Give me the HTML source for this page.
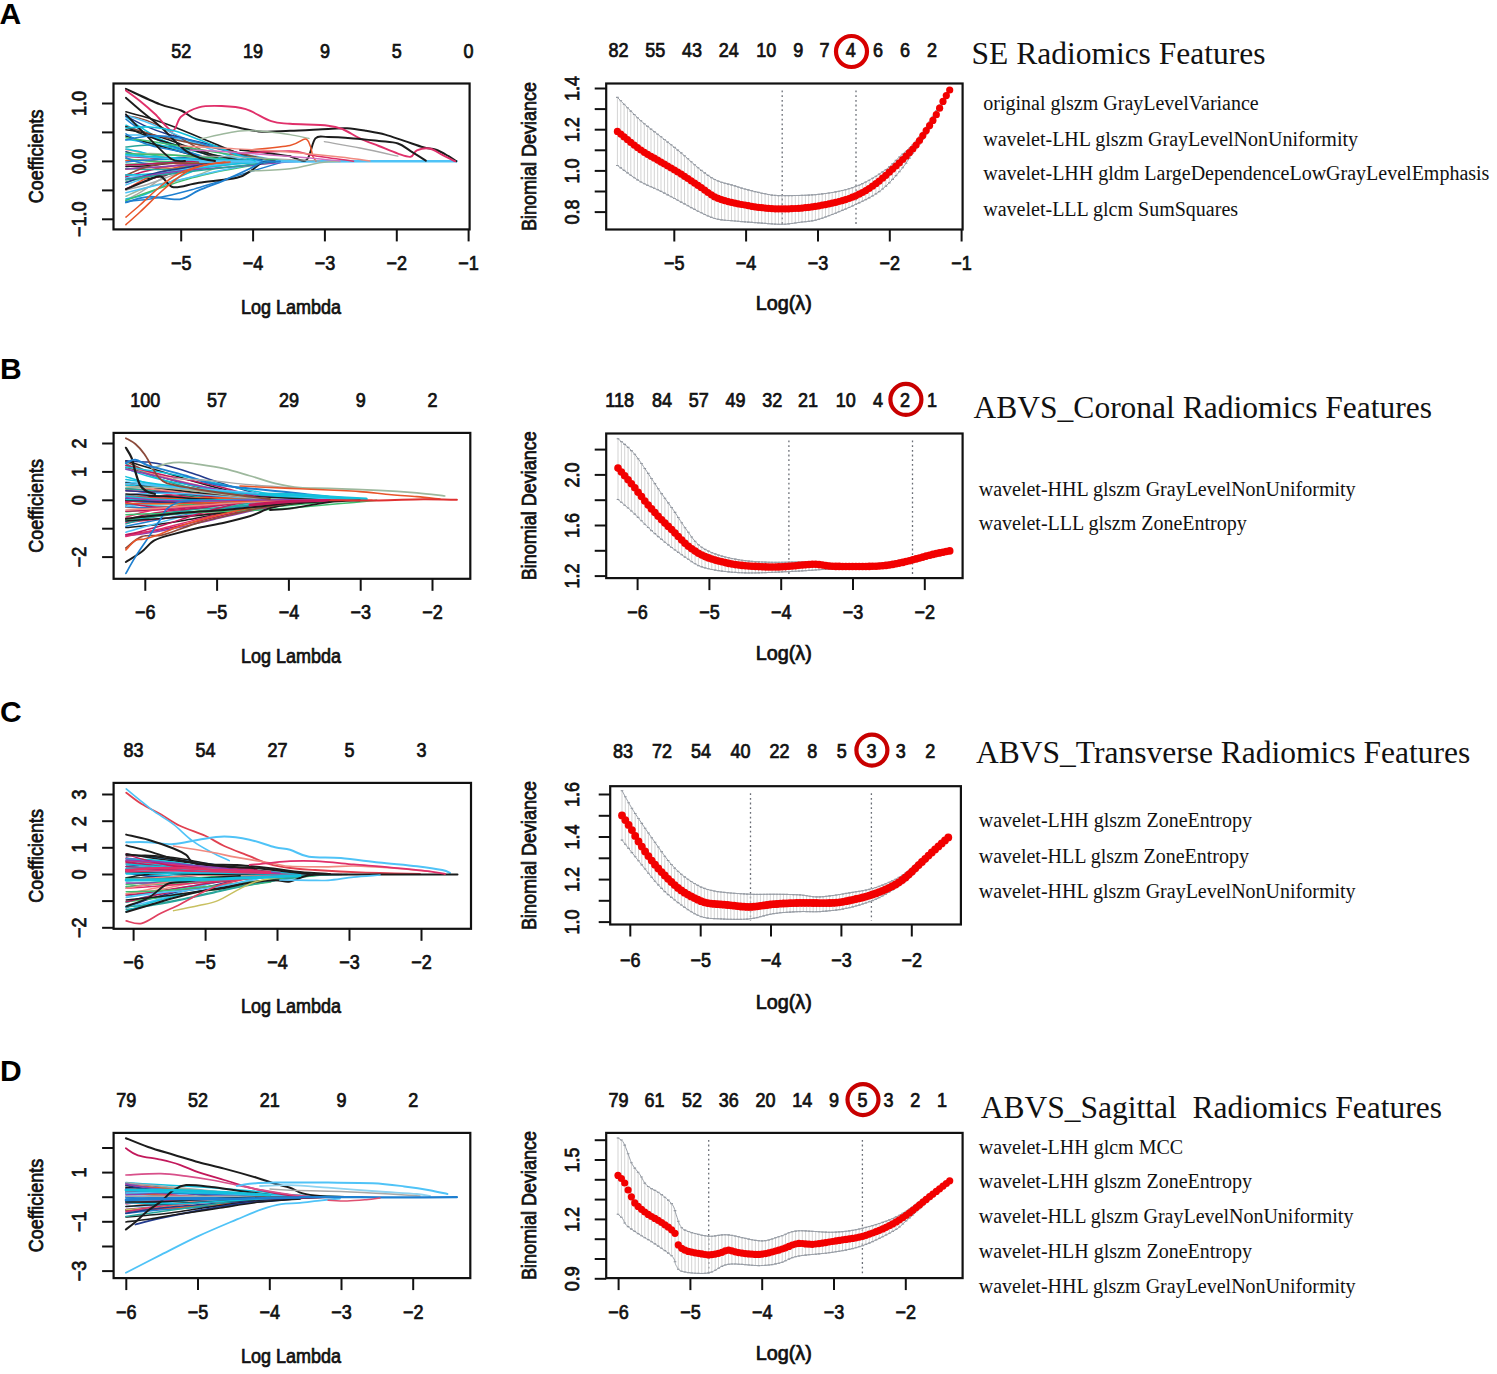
<!DOCTYPE html><html><head><meta charset="utf-8"><style>html,body{margin:0;padding:0;background:#fff;overflow:hidden}svg{display:block}</style></head><body><svg width="1497" height="1374" viewBox="0 0 1497 1374">
<rect width="1497" height="1374" fill="#fff"/>
<rect x="113.5" y="83.5" width="356.1" height="145.9" fill="none" stroke="#111" stroke-width="2.2"/>
<line x1="181.2" y1="229.4" x2="181.2" y2="241.4" stroke="#111" stroke-width="2"/>
<text transform="translate(181.2,269.5) scale(0.9,1)" text-anchor="middle" font-family="Liberation Sans, sans-serif" font-size="20" font-weight="normal" fill="#111" stroke="#111" stroke-width="0.75">−5</text>
<line x1="253.1" y1="229.4" x2="253.1" y2="241.4" stroke="#111" stroke-width="2"/>
<text transform="translate(253.1,269.5) scale(0.9,1)" text-anchor="middle" font-family="Liberation Sans, sans-serif" font-size="20" font-weight="normal" fill="#111" stroke="#111" stroke-width="0.75">−4</text>
<line x1="324.9" y1="229.4" x2="324.9" y2="241.4" stroke="#111" stroke-width="2"/>
<text transform="translate(324.9,269.5) scale(0.9,1)" text-anchor="middle" font-family="Liberation Sans, sans-serif" font-size="20" font-weight="normal" fill="#111" stroke="#111" stroke-width="0.75">−3</text>
<line x1="396.8" y1="229.4" x2="396.8" y2="241.4" stroke="#111" stroke-width="2"/>
<text transform="translate(396.8,269.5) scale(0.9,1)" text-anchor="middle" font-family="Liberation Sans, sans-serif" font-size="20" font-weight="normal" fill="#111" stroke="#111" stroke-width="0.75">−2</text>
<line x1="468.6" y1="229.4" x2="468.6" y2="241.4" stroke="#111" stroke-width="2"/>
<text transform="translate(468.6,269.5) scale(0.9,1)" text-anchor="middle" font-family="Liberation Sans, sans-serif" font-size="20" font-weight="normal" fill="#111" stroke="#111" stroke-width="0.75">−1</text>
<line x1="102.0" y1="103.5" x2="113.5" y2="103.5" stroke="#111" stroke-width="2"/>
<line x1="102.0" y1="132.4" x2="113.5" y2="132.4" stroke="#111" stroke-width="2"/>
<line x1="102.0" y1="161.4" x2="113.5" y2="161.4" stroke="#111" stroke-width="2"/>
<line x1="102.0" y1="190.4" x2="113.5" y2="190.4" stroke="#111" stroke-width="2"/>
<line x1="102.0" y1="219.3" x2="113.5" y2="219.3" stroke="#111" stroke-width="2"/>
<text transform="translate(86.0,103.5) rotate(-90) scale(0.9,1)" text-anchor="middle" font-family="Liberation Sans, sans-serif" font-size="20" font-weight="normal" fill="#111" stroke="#111" stroke-width="0.75">1.0</text>
<text transform="translate(86.0,161.4) rotate(-90) scale(0.9,1)" text-anchor="middle" font-family="Liberation Sans, sans-serif" font-size="20" font-weight="normal" fill="#111" stroke="#111" stroke-width="0.75">0.0</text>
<text transform="translate(86.0,219.3) rotate(-90) scale(0.9,1)" text-anchor="middle" font-family="Liberation Sans, sans-serif" font-size="20" font-weight="normal" fill="#111" stroke="#111" stroke-width="0.75">−1.0</text>
<text transform="translate(181.2,57.6) scale(0.9,1)" text-anchor="middle" font-family="Liberation Sans, sans-serif" font-size="20" font-weight="normal" fill="#111" stroke="#111" stroke-width="0.75">52</text>
<text transform="translate(253.1,57.6) scale(0.9,1)" text-anchor="middle" font-family="Liberation Sans, sans-serif" font-size="20" font-weight="normal" fill="#111" stroke="#111" stroke-width="0.75">19</text>
<text transform="translate(324.9,57.6) scale(0.9,1)" text-anchor="middle" font-family="Liberation Sans, sans-serif" font-size="20" font-weight="normal" fill="#111" stroke="#111" stroke-width="0.75">9</text>
<text transform="translate(396.8,57.6) scale(0.9,1)" text-anchor="middle" font-family="Liberation Sans, sans-serif" font-size="20" font-weight="normal" fill="#111" stroke="#111" stroke-width="0.75">5</text>
<text transform="translate(468.6,57.6) scale(0.9,1)" text-anchor="middle" font-family="Liberation Sans, sans-serif" font-size="20" font-weight="normal" fill="#111" stroke="#111" stroke-width="0.75">0</text>
<text transform="translate(291.0,314.0) scale(0.9,1)" text-anchor="middle" font-family="Liberation Sans, sans-serif" font-size="20" font-weight="normal" fill="#111" stroke="#111" stroke-width="0.75">Log Lambda</text>
<text transform="translate(42.5,156.4) rotate(-90) scale(0.9,1)" text-anchor="middle" font-family="Liberation Sans, sans-serif" font-size="20" font-weight="normal" fill="#111" stroke="#111" stroke-width="0.75">Coefficients</text>
<rect x="113.6" y="432.9" width="356.7" height="145.9" fill="none" stroke="#111" stroke-width="2.2"/>
<line x1="145.3" y1="578.8" x2="145.3" y2="590.8" stroke="#111" stroke-width="2"/>
<text transform="translate(145.3,618.9) scale(0.9,1)" text-anchor="middle" font-family="Liberation Sans, sans-serif" font-size="20" font-weight="normal" fill="#111" stroke="#111" stroke-width="0.75">−6</text>
<line x1="217.1" y1="578.8" x2="217.1" y2="590.8" stroke="#111" stroke-width="2"/>
<text transform="translate(217.1,618.9) scale(0.9,1)" text-anchor="middle" font-family="Liberation Sans, sans-serif" font-size="20" font-weight="normal" fill="#111" stroke="#111" stroke-width="0.75">−5</text>
<line x1="288.9" y1="578.8" x2="288.9" y2="590.8" stroke="#111" stroke-width="2"/>
<text transform="translate(288.9,618.9) scale(0.9,1)" text-anchor="middle" font-family="Liberation Sans, sans-serif" font-size="20" font-weight="normal" fill="#111" stroke="#111" stroke-width="0.75">−4</text>
<line x1="360.7" y1="578.8" x2="360.7" y2="590.8" stroke="#111" stroke-width="2"/>
<text transform="translate(360.7,618.9) scale(0.9,1)" text-anchor="middle" font-family="Liberation Sans, sans-serif" font-size="20" font-weight="normal" fill="#111" stroke="#111" stroke-width="0.75">−3</text>
<line x1="432.5" y1="578.8" x2="432.5" y2="590.8" stroke="#111" stroke-width="2"/>
<text transform="translate(432.5,618.9) scale(0.9,1)" text-anchor="middle" font-family="Liberation Sans, sans-serif" font-size="20" font-weight="normal" fill="#111" stroke="#111" stroke-width="0.75">−2</text>
<line x1="102.1" y1="443.5" x2="113.6" y2="443.5" stroke="#111" stroke-width="2"/>
<line x1="102.1" y1="471.9" x2="113.6" y2="471.9" stroke="#111" stroke-width="2"/>
<line x1="102.1" y1="500.3" x2="113.6" y2="500.3" stroke="#111" stroke-width="2"/>
<line x1="102.1" y1="528.7" x2="113.6" y2="528.7" stroke="#111" stroke-width="2"/>
<line x1="102.1" y1="557.1" x2="113.6" y2="557.1" stroke="#111" stroke-width="2"/>
<text transform="translate(86.0,443.5) rotate(-90) scale(0.9,1)" text-anchor="middle" font-family="Liberation Sans, sans-serif" font-size="20" font-weight="normal" fill="#111" stroke="#111" stroke-width="0.75">2</text>
<text transform="translate(86.0,471.9) rotate(-90) scale(0.9,1)" text-anchor="middle" font-family="Liberation Sans, sans-serif" font-size="20" font-weight="normal" fill="#111" stroke="#111" stroke-width="0.75">1</text>
<text transform="translate(86.0,500.3) rotate(-90) scale(0.9,1)" text-anchor="middle" font-family="Liberation Sans, sans-serif" font-size="20" font-weight="normal" fill="#111" stroke="#111" stroke-width="0.75">0</text>
<text transform="translate(86.0,557.1) rotate(-90) scale(0.9,1)" text-anchor="middle" font-family="Liberation Sans, sans-serif" font-size="20" font-weight="normal" fill="#111" stroke="#111" stroke-width="0.75">−2</text>
<text transform="translate(145.3,407.0) scale(0.9,1)" text-anchor="middle" font-family="Liberation Sans, sans-serif" font-size="20" font-weight="normal" fill="#111" stroke="#111" stroke-width="0.75">100</text>
<text transform="translate(217.1,407.0) scale(0.9,1)" text-anchor="middle" font-family="Liberation Sans, sans-serif" font-size="20" font-weight="normal" fill="#111" stroke="#111" stroke-width="0.75">57</text>
<text transform="translate(288.9,407.0) scale(0.9,1)" text-anchor="middle" font-family="Liberation Sans, sans-serif" font-size="20" font-weight="normal" fill="#111" stroke="#111" stroke-width="0.75">29</text>
<text transform="translate(360.7,407.0) scale(0.9,1)" text-anchor="middle" font-family="Liberation Sans, sans-serif" font-size="20" font-weight="normal" fill="#111" stroke="#111" stroke-width="0.75">9</text>
<text transform="translate(432.5,407.0) scale(0.9,1)" text-anchor="middle" font-family="Liberation Sans, sans-serif" font-size="20" font-weight="normal" fill="#111" stroke="#111" stroke-width="0.75">2</text>
<text transform="translate(291.0,663.4) scale(0.9,1)" text-anchor="middle" font-family="Liberation Sans, sans-serif" font-size="20" font-weight="normal" fill="#111" stroke="#111" stroke-width="0.75">Log Lambda</text>
<text transform="translate(42.5,505.8) rotate(-90) scale(0.9,1)" text-anchor="middle" font-family="Liberation Sans, sans-serif" font-size="20" font-weight="normal" fill="#111" stroke="#111" stroke-width="0.75">Coefficients</text>
<rect x="113.6" y="782.9" width="357.4" height="145.9" fill="none" stroke="#111" stroke-width="2.2"/>
<line x1="133.6" y1="928.8" x2="133.6" y2="940.8" stroke="#111" stroke-width="2"/>
<text transform="translate(133.6,968.9) scale(0.9,1)" text-anchor="middle" font-family="Liberation Sans, sans-serif" font-size="20" font-weight="normal" fill="#111" stroke="#111" stroke-width="0.75">−6</text>
<line x1="205.6" y1="928.8" x2="205.6" y2="940.8" stroke="#111" stroke-width="2"/>
<text transform="translate(205.6,968.9) scale(0.9,1)" text-anchor="middle" font-family="Liberation Sans, sans-serif" font-size="20" font-weight="normal" fill="#111" stroke="#111" stroke-width="0.75">−5</text>
<line x1="277.5" y1="928.8" x2="277.5" y2="940.8" stroke="#111" stroke-width="2"/>
<text transform="translate(277.5,968.9) scale(0.9,1)" text-anchor="middle" font-family="Liberation Sans, sans-serif" font-size="20" font-weight="normal" fill="#111" stroke="#111" stroke-width="0.75">−4</text>
<line x1="349.5" y1="928.8" x2="349.5" y2="940.8" stroke="#111" stroke-width="2"/>
<text transform="translate(349.5,968.9) scale(0.9,1)" text-anchor="middle" font-family="Liberation Sans, sans-serif" font-size="20" font-weight="normal" fill="#111" stroke="#111" stroke-width="0.75">−3</text>
<line x1="421.5" y1="928.8" x2="421.5" y2="940.8" stroke="#111" stroke-width="2"/>
<text transform="translate(421.5,968.9) scale(0.9,1)" text-anchor="middle" font-family="Liberation Sans, sans-serif" font-size="20" font-weight="normal" fill="#111" stroke="#111" stroke-width="0.75">−2</text>
<line x1="102.1" y1="794.5" x2="113.6" y2="794.5" stroke="#111" stroke-width="2"/>
<line x1="102.1" y1="821.2" x2="113.6" y2="821.2" stroke="#111" stroke-width="2"/>
<line x1="102.1" y1="847.8" x2="113.6" y2="847.8" stroke="#111" stroke-width="2"/>
<line x1="102.1" y1="874.5" x2="113.6" y2="874.5" stroke="#111" stroke-width="2"/>
<line x1="102.1" y1="901.1" x2="113.6" y2="901.1" stroke="#111" stroke-width="2"/>
<line x1="102.1" y1="927.8" x2="113.6" y2="927.8" stroke="#111" stroke-width="2"/>
<text transform="translate(86.0,794.5) rotate(-90) scale(0.9,1)" text-anchor="middle" font-family="Liberation Sans, sans-serif" font-size="20" font-weight="normal" fill="#111" stroke="#111" stroke-width="0.75">3</text>
<text transform="translate(86.0,821.2) rotate(-90) scale(0.9,1)" text-anchor="middle" font-family="Liberation Sans, sans-serif" font-size="20" font-weight="normal" fill="#111" stroke="#111" stroke-width="0.75">2</text>
<text transform="translate(86.0,847.8) rotate(-90) scale(0.9,1)" text-anchor="middle" font-family="Liberation Sans, sans-serif" font-size="20" font-weight="normal" fill="#111" stroke="#111" stroke-width="0.75">1</text>
<text transform="translate(86.0,874.5) rotate(-90) scale(0.9,1)" text-anchor="middle" font-family="Liberation Sans, sans-serif" font-size="20" font-weight="normal" fill="#111" stroke="#111" stroke-width="0.75">0</text>
<text transform="translate(86.0,927.8) rotate(-90) scale(0.9,1)" text-anchor="middle" font-family="Liberation Sans, sans-serif" font-size="20" font-weight="normal" fill="#111" stroke="#111" stroke-width="0.75">−2</text>
<text transform="translate(133.6,757.0) scale(0.9,1)" text-anchor="middle" font-family="Liberation Sans, sans-serif" font-size="20" font-weight="normal" fill="#111" stroke="#111" stroke-width="0.75">83</text>
<text transform="translate(205.6,757.0) scale(0.9,1)" text-anchor="middle" font-family="Liberation Sans, sans-serif" font-size="20" font-weight="normal" fill="#111" stroke="#111" stroke-width="0.75">54</text>
<text transform="translate(277.5,757.0) scale(0.9,1)" text-anchor="middle" font-family="Liberation Sans, sans-serif" font-size="20" font-weight="normal" fill="#111" stroke="#111" stroke-width="0.75">27</text>
<text transform="translate(349.5,757.0) scale(0.9,1)" text-anchor="middle" font-family="Liberation Sans, sans-serif" font-size="20" font-weight="normal" fill="#111" stroke="#111" stroke-width="0.75">5</text>
<text transform="translate(421.5,757.0) scale(0.9,1)" text-anchor="middle" font-family="Liberation Sans, sans-serif" font-size="20" font-weight="normal" fill="#111" stroke="#111" stroke-width="0.75">3</text>
<text transform="translate(291.0,1013.4) scale(0.9,1)" text-anchor="middle" font-family="Liberation Sans, sans-serif" font-size="20" font-weight="normal" fill="#111" stroke="#111" stroke-width="0.75">Log Lambda</text>
<text transform="translate(42.5,855.8) rotate(-90) scale(0.9,1)" text-anchor="middle" font-family="Liberation Sans, sans-serif" font-size="20" font-weight="normal" fill="#111" stroke="#111" stroke-width="0.75">Coefficients</text>
<rect x="113.6" y="1132.9" width="356.7" height="145.2" fill="none" stroke="#111" stroke-width="2.2"/>
<line x1="126.3" y1="1278.1" x2="126.3" y2="1290.1" stroke="#111" stroke-width="2"/>
<text transform="translate(126.3,1318.9) scale(0.9,1)" text-anchor="middle" font-family="Liberation Sans, sans-serif" font-size="20" font-weight="normal" fill="#111" stroke="#111" stroke-width="0.75">−6</text>
<line x1="198.0" y1="1278.1" x2="198.0" y2="1290.1" stroke="#111" stroke-width="2"/>
<text transform="translate(198.0,1318.9) scale(0.9,1)" text-anchor="middle" font-family="Liberation Sans, sans-serif" font-size="20" font-weight="normal" fill="#111" stroke="#111" stroke-width="0.75">−5</text>
<line x1="269.8" y1="1278.1" x2="269.8" y2="1290.1" stroke="#111" stroke-width="2"/>
<text transform="translate(269.8,1318.9) scale(0.9,1)" text-anchor="middle" font-family="Liberation Sans, sans-serif" font-size="20" font-weight="normal" fill="#111" stroke="#111" stroke-width="0.75">−4</text>
<line x1="341.5" y1="1278.1" x2="341.5" y2="1290.1" stroke="#111" stroke-width="2"/>
<text transform="translate(341.5,1318.9) scale(0.9,1)" text-anchor="middle" font-family="Liberation Sans, sans-serif" font-size="20" font-weight="normal" fill="#111" stroke="#111" stroke-width="0.75">−3</text>
<line x1="413.2" y1="1278.1" x2="413.2" y2="1290.1" stroke="#111" stroke-width="2"/>
<text transform="translate(413.2,1318.9) scale(0.9,1)" text-anchor="middle" font-family="Liberation Sans, sans-serif" font-size="20" font-weight="normal" fill="#111" stroke="#111" stroke-width="0.75">−2</text>
<line x1="102.1" y1="1148.0" x2="113.6" y2="1148.0" stroke="#111" stroke-width="2"/>
<line x1="102.1" y1="1172.6" x2="113.6" y2="1172.6" stroke="#111" stroke-width="2"/>
<line x1="102.1" y1="1197.2" x2="113.6" y2="1197.2" stroke="#111" stroke-width="2"/>
<line x1="102.1" y1="1221.8" x2="113.6" y2="1221.8" stroke="#111" stroke-width="2"/>
<line x1="102.1" y1="1246.5" x2="113.6" y2="1246.5" stroke="#111" stroke-width="2"/>
<line x1="102.1" y1="1271.1" x2="113.6" y2="1271.1" stroke="#111" stroke-width="2"/>
<text transform="translate(86.0,1172.6) rotate(-90) scale(0.9,1)" text-anchor="middle" font-family="Liberation Sans, sans-serif" font-size="20" font-weight="normal" fill="#111" stroke="#111" stroke-width="0.75">1</text>
<text transform="translate(86.0,1221.8) rotate(-90) scale(0.9,1)" text-anchor="middle" font-family="Liberation Sans, sans-serif" font-size="20" font-weight="normal" fill="#111" stroke="#111" stroke-width="0.75">−1</text>
<text transform="translate(86.0,1271.1) rotate(-90) scale(0.9,1)" text-anchor="middle" font-family="Liberation Sans, sans-serif" font-size="20" font-weight="normal" fill="#111" stroke="#111" stroke-width="0.75">−3</text>
<text transform="translate(126.3,1107.0) scale(0.9,1)" text-anchor="middle" font-family="Liberation Sans, sans-serif" font-size="20" font-weight="normal" fill="#111" stroke="#111" stroke-width="0.75">79</text>
<text transform="translate(198.0,1107.0) scale(0.9,1)" text-anchor="middle" font-family="Liberation Sans, sans-serif" font-size="20" font-weight="normal" fill="#111" stroke="#111" stroke-width="0.75">52</text>
<text transform="translate(269.8,1107.0) scale(0.9,1)" text-anchor="middle" font-family="Liberation Sans, sans-serif" font-size="20" font-weight="normal" fill="#111" stroke="#111" stroke-width="0.75">21</text>
<text transform="translate(341.5,1107.0) scale(0.9,1)" text-anchor="middle" font-family="Liberation Sans, sans-serif" font-size="20" font-weight="normal" fill="#111" stroke="#111" stroke-width="0.75">9</text>
<text transform="translate(413.2,1107.0) scale(0.9,1)" text-anchor="middle" font-family="Liberation Sans, sans-serif" font-size="20" font-weight="normal" fill="#111" stroke="#111" stroke-width="0.75">2</text>
<text transform="translate(291.0,1363.4) scale(0.9,1)" text-anchor="middle" font-family="Liberation Sans, sans-serif" font-size="20" font-weight="normal" fill="#111" stroke="#111" stroke-width="0.75">Log Lambda</text>
<text transform="translate(42.5,1205.5) rotate(-90) scale(0.9,1)" text-anchor="middle" font-family="Liberation Sans, sans-serif" font-size="20" font-weight="normal" fill="#111" stroke="#111" stroke-width="0.75">Coefficients</text>
<rect x="606.2" y="83.5" width="356.4" height="146.0" fill="none" stroke="#111" stroke-width="2.2"/>
<line x1="674.3" y1="229.5" x2="674.3" y2="241.5" stroke="#111" stroke-width="2"/>
<text transform="translate(674.3,269.5) scale(0.9,1)" text-anchor="middle" font-family="Liberation Sans, sans-serif" font-size="20" font-weight="normal" fill="#111" stroke="#111" stroke-width="0.75">−5</text>
<line x1="746.1" y1="229.5" x2="746.1" y2="241.5" stroke="#111" stroke-width="2"/>
<text transform="translate(746.1,269.5) scale(0.9,1)" text-anchor="middle" font-family="Liberation Sans, sans-serif" font-size="20" font-weight="normal" fill="#111" stroke="#111" stroke-width="0.75">−4</text>
<line x1="818.0" y1="229.5" x2="818.0" y2="241.5" stroke="#111" stroke-width="2"/>
<text transform="translate(818.0,269.5) scale(0.9,1)" text-anchor="middle" font-family="Liberation Sans, sans-serif" font-size="20" font-weight="normal" fill="#111" stroke="#111" stroke-width="0.75">−3</text>
<line x1="889.8" y1="229.5" x2="889.8" y2="241.5" stroke="#111" stroke-width="2"/>
<text transform="translate(889.8,269.5) scale(0.9,1)" text-anchor="middle" font-family="Liberation Sans, sans-serif" font-size="20" font-weight="normal" fill="#111" stroke="#111" stroke-width="0.75">−2</text>
<line x1="961.6" y1="229.5" x2="961.6" y2="241.5" stroke="#111" stroke-width="2"/>
<text transform="translate(961.6,269.5) scale(0.9,1)" text-anchor="middle" font-family="Liberation Sans, sans-serif" font-size="20" font-weight="normal" fill="#111" stroke="#111" stroke-width="0.75">−1</text>
<line x1="594.7" y1="88.5" x2="606.2" y2="88.5" stroke="#111" stroke-width="2"/>
<line x1="594.7" y1="109.1" x2="606.2" y2="109.1" stroke="#111" stroke-width="2"/>
<line x1="594.7" y1="129.7" x2="606.2" y2="129.7" stroke="#111" stroke-width="2"/>
<line x1="594.7" y1="150.3" x2="606.2" y2="150.3" stroke="#111" stroke-width="2"/>
<line x1="594.7" y1="170.9" x2="606.2" y2="170.9" stroke="#111" stroke-width="2"/>
<line x1="594.7" y1="191.5" x2="606.2" y2="191.5" stroke="#111" stroke-width="2"/>
<line x1="594.7" y1="212.1" x2="606.2" y2="212.1" stroke="#111" stroke-width="2"/>
<text transform="translate(579.3,88.5) rotate(-90) scale(0.9,1)" text-anchor="middle" font-family="Liberation Sans, sans-serif" font-size="20" font-weight="normal" fill="#111" stroke="#111" stroke-width="0.75">1.4</text>
<text transform="translate(579.3,129.7) rotate(-90) scale(0.9,1)" text-anchor="middle" font-family="Liberation Sans, sans-serif" font-size="20" font-weight="normal" fill="#111" stroke="#111" stroke-width="0.75">1.2</text>
<text transform="translate(579.3,170.9) rotate(-90) scale(0.9,1)" text-anchor="middle" font-family="Liberation Sans, sans-serif" font-size="20" font-weight="normal" fill="#111" stroke="#111" stroke-width="0.75">1.0</text>
<text transform="translate(579.3,212.1) rotate(-90) scale(0.9,1)" text-anchor="middle" font-family="Liberation Sans, sans-serif" font-size="20" font-weight="normal" fill="#111" stroke="#111" stroke-width="0.75">0.8</text>
<text transform="translate(618.6,57.4) scale(0.9,1)" text-anchor="middle" font-family="Liberation Sans, sans-serif" font-size="20" font-weight="normal" fill="#111" stroke="#111" stroke-width="0.75">82</text>
<text transform="translate(655.3,57.4) scale(0.9,1)" text-anchor="middle" font-family="Liberation Sans, sans-serif" font-size="20" font-weight="normal" fill="#111" stroke="#111" stroke-width="0.75">55</text>
<text transform="translate(692.0,57.4) scale(0.9,1)" text-anchor="middle" font-family="Liberation Sans, sans-serif" font-size="20" font-weight="normal" fill="#111" stroke="#111" stroke-width="0.75">43</text>
<text transform="translate(728.8,57.4) scale(0.9,1)" text-anchor="middle" font-family="Liberation Sans, sans-serif" font-size="20" font-weight="normal" fill="#111" stroke="#111" stroke-width="0.75">24</text>
<text transform="translate(766.2,57.4) scale(0.9,1)" text-anchor="middle" font-family="Liberation Sans, sans-serif" font-size="20" font-weight="normal" fill="#111" stroke="#111" stroke-width="0.75">10</text>
<text transform="translate(798.3,57.4) scale(0.9,1)" text-anchor="middle" font-family="Liberation Sans, sans-serif" font-size="20" font-weight="normal" fill="#111" stroke="#111" stroke-width="0.75">9</text>
<text transform="translate(824.6,57.4) scale(0.9,1)" text-anchor="middle" font-family="Liberation Sans, sans-serif" font-size="20" font-weight="normal" fill="#111" stroke="#111" stroke-width="0.75">7</text>
<text transform="translate(850.7,57.4) scale(0.9,1)" text-anchor="middle" font-family="Liberation Sans, sans-serif" font-size="20" font-weight="normal" fill="#111" stroke="#111" stroke-width="0.75">4</text>
<text transform="translate(878.0,57.4) scale(0.9,1)" text-anchor="middle" font-family="Liberation Sans, sans-serif" font-size="20" font-weight="normal" fill="#111" stroke="#111" stroke-width="0.75">6</text>
<text transform="translate(905.1,57.4) scale(0.9,1)" text-anchor="middle" font-family="Liberation Sans, sans-serif" font-size="20" font-weight="normal" fill="#111" stroke="#111" stroke-width="0.75">6</text>
<text transform="translate(931.9,57.4) scale(0.9,1)" text-anchor="middle" font-family="Liberation Sans, sans-serif" font-size="20" font-weight="normal" fill="#111" stroke="#111" stroke-width="0.75">2</text>
<text transform="translate(783.7,309.5) scale(0.99,1)" text-anchor="middle" font-family="Liberation Sans, sans-serif" font-size="20" font-weight="normal" fill="#111" stroke="#111" stroke-width="0.75">Log(λ)</text>
<text transform="translate(536.0,156.5) rotate(-90) scale(0.9,1)" text-anchor="middle" font-family="Liberation Sans, sans-serif" font-size="20" font-weight="normal" fill="#111" stroke="#111" stroke-width="0.75">Binomial Deviance</text>
<circle cx="851.5" cy="51.5" r="15.5" fill="none" stroke="#d80000" stroke-width="4.2"/>
<line x1="782.2" y1="90.5" x2="782.2" y2="225.5" stroke="#6a6e76" stroke-width="1.3" stroke-dasharray="1.8,2.9"/>
<line x1="856" y1="90.5" x2="856" y2="225.5" stroke="#6a6e76" stroke-width="1.3" stroke-dasharray="1.8,2.9"/>
<rect x="606.2" y="433.5" width="356.4" height="144.6" fill="none" stroke="#111" stroke-width="2.2"/>
<line x1="637.6" y1="578.1" x2="637.6" y2="590.1" stroke="#111" stroke-width="2"/>
<text transform="translate(637.6,619.0) scale(0.9,1)" text-anchor="middle" font-family="Liberation Sans, sans-serif" font-size="20" font-weight="normal" fill="#111" stroke="#111" stroke-width="0.75">−6</text>
<line x1="709.4" y1="578.1" x2="709.4" y2="590.1" stroke="#111" stroke-width="2"/>
<text transform="translate(709.4,619.0) scale(0.9,1)" text-anchor="middle" font-family="Liberation Sans, sans-serif" font-size="20" font-weight="normal" fill="#111" stroke="#111" stroke-width="0.75">−5</text>
<line x1="781.2" y1="578.1" x2="781.2" y2="590.1" stroke="#111" stroke-width="2"/>
<text transform="translate(781.2,619.0) scale(0.9,1)" text-anchor="middle" font-family="Liberation Sans, sans-serif" font-size="20" font-weight="normal" fill="#111" stroke="#111" stroke-width="0.75">−4</text>
<line x1="853.0" y1="578.1" x2="853.0" y2="590.1" stroke="#111" stroke-width="2"/>
<text transform="translate(853.0,619.0) scale(0.9,1)" text-anchor="middle" font-family="Liberation Sans, sans-serif" font-size="20" font-weight="normal" fill="#111" stroke="#111" stroke-width="0.75">−3</text>
<line x1="924.8" y1="578.1" x2="924.8" y2="590.1" stroke="#111" stroke-width="2"/>
<text transform="translate(924.8,619.0) scale(0.9,1)" text-anchor="middle" font-family="Liberation Sans, sans-serif" font-size="20" font-weight="normal" fill="#111" stroke="#111" stroke-width="0.75">−2</text>
<line x1="594.7" y1="449.6" x2="606.2" y2="449.6" stroke="#111" stroke-width="2"/>
<line x1="594.7" y1="474.9" x2="606.2" y2="474.9" stroke="#111" stroke-width="2"/>
<line x1="594.7" y1="500.2" x2="606.2" y2="500.2" stroke="#111" stroke-width="2"/>
<line x1="594.7" y1="525.5" x2="606.2" y2="525.5" stroke="#111" stroke-width="2"/>
<line x1="594.7" y1="550.8" x2="606.2" y2="550.8" stroke="#111" stroke-width="2"/>
<line x1="594.7" y1="576.1" x2="606.2" y2="576.1" stroke="#111" stroke-width="2"/>
<text transform="translate(579.3,474.9) rotate(-90) scale(0.9,1)" text-anchor="middle" font-family="Liberation Sans, sans-serif" font-size="20" font-weight="normal" fill="#111" stroke="#111" stroke-width="0.75">2.0</text>
<text transform="translate(579.3,525.5) rotate(-90) scale(0.9,1)" text-anchor="middle" font-family="Liberation Sans, sans-serif" font-size="20" font-weight="normal" fill="#111" stroke="#111" stroke-width="0.75">1.6</text>
<text transform="translate(579.3,576.1) rotate(-90) scale(0.9,1)" text-anchor="middle" font-family="Liberation Sans, sans-serif" font-size="20" font-weight="normal" fill="#111" stroke="#111" stroke-width="0.75">1.2</text>
<text transform="translate(619.6,407.0) scale(0.9,1)" text-anchor="middle" font-family="Liberation Sans, sans-serif" font-size="20" font-weight="normal" fill="#111" stroke="#111" stroke-width="0.75">118</text>
<text transform="translate(662.0,407.0) scale(0.9,1)" text-anchor="middle" font-family="Liberation Sans, sans-serif" font-size="20" font-weight="normal" fill="#111" stroke="#111" stroke-width="0.75">84</text>
<text transform="translate(698.7,407.0) scale(0.9,1)" text-anchor="middle" font-family="Liberation Sans, sans-serif" font-size="20" font-weight="normal" fill="#111" stroke="#111" stroke-width="0.75">57</text>
<text transform="translate(735.5,407.0) scale(0.9,1)" text-anchor="middle" font-family="Liberation Sans, sans-serif" font-size="20" font-weight="normal" fill="#111" stroke="#111" stroke-width="0.75">49</text>
<text transform="translate(772.2,407.0) scale(0.9,1)" text-anchor="middle" font-family="Liberation Sans, sans-serif" font-size="20" font-weight="normal" fill="#111" stroke="#111" stroke-width="0.75">32</text>
<text transform="translate(808.0,407.0) scale(0.9,1)" text-anchor="middle" font-family="Liberation Sans, sans-serif" font-size="20" font-weight="normal" fill="#111" stroke="#111" stroke-width="0.75">21</text>
<text transform="translate(845.7,407.0) scale(0.9,1)" text-anchor="middle" font-family="Liberation Sans, sans-serif" font-size="20" font-weight="normal" fill="#111" stroke="#111" stroke-width="0.75">10</text>
<text transform="translate(878.1,407.0) scale(0.9,1)" text-anchor="middle" font-family="Liberation Sans, sans-serif" font-size="20" font-weight="normal" fill="#111" stroke="#111" stroke-width="0.75">4</text>
<text transform="translate(905.1,407.0) scale(0.9,1)" text-anchor="middle" font-family="Liberation Sans, sans-serif" font-size="20" font-weight="normal" fill="#111" stroke="#111" stroke-width="0.75">2</text>
<text transform="translate(931.9,407.0) scale(0.9,1)" text-anchor="middle" font-family="Liberation Sans, sans-serif" font-size="20" font-weight="normal" fill="#111" stroke="#111" stroke-width="0.75">1</text>
<text transform="translate(783.7,659.5) scale(0.99,1)" text-anchor="middle" font-family="Liberation Sans, sans-serif" font-size="20" font-weight="normal" fill="#111" stroke="#111" stroke-width="0.75">Log(λ)</text>
<text transform="translate(536.0,505.8) rotate(-90) scale(0.9,1)" text-anchor="middle" font-family="Liberation Sans, sans-serif" font-size="20" font-weight="normal" fill="#111" stroke="#111" stroke-width="0.75">Binomial Deviance</text>
<circle cx="905.9" cy="399.4" r="15.5" fill="none" stroke="#c80000" stroke-width="4.2"/>
<line x1="788.9" y1="440.5" x2="788.9" y2="574.1" stroke="#6a6e76" stroke-width="1.3" stroke-dasharray="1.8,2.9"/>
<line x1="912.5" y1="440.5" x2="912.5" y2="574.1" stroke="#6a6e76" stroke-width="1.3" stroke-dasharray="1.8,2.9"/>
<rect x="610.2" y="786.2" width="350.7" height="138.3" fill="none" stroke="#111" stroke-width="2.2"/>
<line x1="630.3" y1="924.5" x2="630.3" y2="936.5" stroke="#111" stroke-width="2"/>
<text transform="translate(630.3,966.5) scale(0.9,1)" text-anchor="middle" font-family="Liberation Sans, sans-serif" font-size="20" font-weight="normal" fill="#111" stroke="#111" stroke-width="0.75">−6</text>
<line x1="700.7" y1="924.5" x2="700.7" y2="936.5" stroke="#111" stroke-width="2"/>
<text transform="translate(700.7,966.5) scale(0.9,1)" text-anchor="middle" font-family="Liberation Sans, sans-serif" font-size="20" font-weight="normal" fill="#111" stroke="#111" stroke-width="0.75">−5</text>
<line x1="771.0" y1="924.5" x2="771.0" y2="936.5" stroke="#111" stroke-width="2"/>
<text transform="translate(771.0,966.5) scale(0.9,1)" text-anchor="middle" font-family="Liberation Sans, sans-serif" font-size="20" font-weight="normal" fill="#111" stroke="#111" stroke-width="0.75">−4</text>
<line x1="841.4" y1="924.5" x2="841.4" y2="936.5" stroke="#111" stroke-width="2"/>
<text transform="translate(841.4,966.5) scale(0.9,1)" text-anchor="middle" font-family="Liberation Sans, sans-serif" font-size="20" font-weight="normal" fill="#111" stroke="#111" stroke-width="0.75">−3</text>
<line x1="911.8" y1="924.5" x2="911.8" y2="936.5" stroke="#111" stroke-width="2"/>
<text transform="translate(911.8,966.5) scale(0.9,1)" text-anchor="middle" font-family="Liberation Sans, sans-serif" font-size="20" font-weight="normal" fill="#111" stroke="#111" stroke-width="0.75">−2</text>
<line x1="598.7" y1="794.5" x2="610.2" y2="794.5" stroke="#111" stroke-width="2"/>
<line x1="598.7" y1="815.8" x2="610.2" y2="815.8" stroke="#111" stroke-width="2"/>
<line x1="598.7" y1="837.0" x2="610.2" y2="837.0" stroke="#111" stroke-width="2"/>
<line x1="598.7" y1="858.3" x2="610.2" y2="858.3" stroke="#111" stroke-width="2"/>
<line x1="598.7" y1="879.6" x2="610.2" y2="879.6" stroke="#111" stroke-width="2"/>
<line x1="598.7" y1="900.8" x2="610.2" y2="900.8" stroke="#111" stroke-width="2"/>
<line x1="598.7" y1="922.1" x2="610.2" y2="922.1" stroke="#111" stroke-width="2"/>
<text transform="translate(579.3,794.5) rotate(-90) scale(0.9,1)" text-anchor="middle" font-family="Liberation Sans, sans-serif" font-size="20" font-weight="normal" fill="#111" stroke="#111" stroke-width="0.75">1.6</text>
<text transform="translate(579.3,837.0) rotate(-90) scale(0.9,1)" text-anchor="middle" font-family="Liberation Sans, sans-serif" font-size="20" font-weight="normal" fill="#111" stroke="#111" stroke-width="0.75">1.4</text>
<text transform="translate(579.3,879.6) rotate(-90) scale(0.9,1)" text-anchor="middle" font-family="Liberation Sans, sans-serif" font-size="20" font-weight="normal" fill="#111" stroke="#111" stroke-width="0.75">1.2</text>
<text transform="translate(579.3,922.1) rotate(-90) scale(0.9,1)" text-anchor="middle" font-family="Liberation Sans, sans-serif" font-size="20" font-weight="normal" fill="#111" stroke="#111" stroke-width="0.75">1.0</text>
<text transform="translate(622.9,757.6) scale(0.9,1)" text-anchor="middle" font-family="Liberation Sans, sans-serif" font-size="20" font-weight="normal" fill="#111" stroke="#111" stroke-width="0.75">83</text>
<text transform="translate(662.0,757.6) scale(0.9,1)" text-anchor="middle" font-family="Liberation Sans, sans-serif" font-size="20" font-weight="normal" fill="#111" stroke="#111" stroke-width="0.75">72</text>
<text transform="translate(701.0,757.6) scale(0.9,1)" text-anchor="middle" font-family="Liberation Sans, sans-serif" font-size="20" font-weight="normal" fill="#111" stroke="#111" stroke-width="0.75">54</text>
<text transform="translate(740.5,757.6) scale(0.9,1)" text-anchor="middle" font-family="Liberation Sans, sans-serif" font-size="20" font-weight="normal" fill="#111" stroke="#111" stroke-width="0.75">40</text>
<text transform="translate(779.6,757.6) scale(0.9,1)" text-anchor="middle" font-family="Liberation Sans, sans-serif" font-size="20" font-weight="normal" fill="#111" stroke="#111" stroke-width="0.75">22</text>
<text transform="translate(812.3,757.6) scale(0.9,1)" text-anchor="middle" font-family="Liberation Sans, sans-serif" font-size="20" font-weight="normal" fill="#111" stroke="#111" stroke-width="0.75">8</text>
<text transform="translate(841.7,757.6) scale(0.9,1)" text-anchor="middle" font-family="Liberation Sans, sans-serif" font-size="20" font-weight="normal" fill="#111" stroke="#111" stroke-width="0.75">5</text>
<text transform="translate(871.4,757.6) scale(0.9,1)" text-anchor="middle" font-family="Liberation Sans, sans-serif" font-size="20" font-weight="normal" fill="#111" stroke="#111" stroke-width="0.75">3</text>
<text transform="translate(900.8,757.6) scale(0.9,1)" text-anchor="middle" font-family="Liberation Sans, sans-serif" font-size="20" font-weight="normal" fill="#111" stroke="#111" stroke-width="0.75">3</text>
<text transform="translate(930.2,757.6) scale(0.9,1)" text-anchor="middle" font-family="Liberation Sans, sans-serif" font-size="20" font-weight="normal" fill="#111" stroke="#111" stroke-width="0.75">2</text>
<text transform="translate(783.7,1008.5) scale(0.99,1)" text-anchor="middle" font-family="Liberation Sans, sans-serif" font-size="20" font-weight="normal" fill="#111" stroke="#111" stroke-width="0.75">Log(λ)</text>
<text transform="translate(536.0,855.4) rotate(-90) scale(0.9,1)" text-anchor="middle" font-family="Liberation Sans, sans-serif" font-size="20" font-weight="normal" fill="#111" stroke="#111" stroke-width="0.75">Binomial Deviance</text>
<circle cx="871.9" cy="750.1" r="15.5" fill="none" stroke="#c80000" stroke-width="4.2"/>
<line x1="750.5" y1="793.2" x2="750.5" y2="920.5" stroke="#6a6e76" stroke-width="1.3" stroke-dasharray="1.8,2.9"/>
<line x1="871.4" y1="793.2" x2="871.4" y2="920.5" stroke="#6a6e76" stroke-width="1.3" stroke-dasharray="1.8,2.9"/>
<rect x="606.2" y="1132.9" width="356.4" height="145.2" fill="none" stroke="#111" stroke-width="2.2"/>
<line x1="618.6" y1="1278.1" x2="618.6" y2="1290.1" stroke="#111" stroke-width="2"/>
<text transform="translate(618.6,1319.0) scale(0.9,1)" text-anchor="middle" font-family="Liberation Sans, sans-serif" font-size="20" font-weight="normal" fill="#111" stroke="#111" stroke-width="0.75">−6</text>
<line x1="690.4" y1="1278.1" x2="690.4" y2="1290.1" stroke="#111" stroke-width="2"/>
<text transform="translate(690.4,1319.0) scale(0.9,1)" text-anchor="middle" font-family="Liberation Sans, sans-serif" font-size="20" font-weight="normal" fill="#111" stroke="#111" stroke-width="0.75">−5</text>
<line x1="762.2" y1="1278.1" x2="762.2" y2="1290.1" stroke="#111" stroke-width="2"/>
<text transform="translate(762.2,1319.0) scale(0.9,1)" text-anchor="middle" font-family="Liberation Sans, sans-serif" font-size="20" font-weight="normal" fill="#111" stroke="#111" stroke-width="0.75">−4</text>
<line x1="834.0" y1="1278.1" x2="834.0" y2="1290.1" stroke="#111" stroke-width="2"/>
<text transform="translate(834.0,1319.0) scale(0.9,1)" text-anchor="middle" font-family="Liberation Sans, sans-serif" font-size="20" font-weight="normal" fill="#111" stroke="#111" stroke-width="0.75">−3</text>
<line x1="905.8" y1="1278.1" x2="905.8" y2="1290.1" stroke="#111" stroke-width="2"/>
<text transform="translate(905.8,1319.0) scale(0.9,1)" text-anchor="middle" font-family="Liberation Sans, sans-serif" font-size="20" font-weight="normal" fill="#111" stroke="#111" stroke-width="0.75">−2</text>
<line x1="594.7" y1="1140.2" x2="606.2" y2="1140.2" stroke="#111" stroke-width="2"/>
<line x1="594.7" y1="1160.0" x2="606.2" y2="1160.0" stroke="#111" stroke-width="2"/>
<line x1="594.7" y1="1179.8" x2="606.2" y2="1179.8" stroke="#111" stroke-width="2"/>
<line x1="594.7" y1="1199.6" x2="606.2" y2="1199.6" stroke="#111" stroke-width="2"/>
<line x1="594.7" y1="1219.4" x2="606.2" y2="1219.4" stroke="#111" stroke-width="2"/>
<line x1="594.7" y1="1239.2" x2="606.2" y2="1239.2" stroke="#111" stroke-width="2"/>
<line x1="594.7" y1="1259.0" x2="606.2" y2="1259.0" stroke="#111" stroke-width="2"/>
<line x1="594.7" y1="1278.8" x2="606.2" y2="1278.8" stroke="#111" stroke-width="2"/>
<text transform="translate(579.3,1160.0) rotate(-90) scale(0.9,1)" text-anchor="middle" font-family="Liberation Sans, sans-serif" font-size="20" font-weight="normal" fill="#111" stroke="#111" stroke-width="0.75">1.5</text>
<text transform="translate(579.3,1219.4) rotate(-90) scale(0.9,1)" text-anchor="middle" font-family="Liberation Sans, sans-serif" font-size="20" font-weight="normal" fill="#111" stroke="#111" stroke-width="0.75">1.2</text>
<text transform="translate(579.3,1278.8) rotate(-90) scale(0.9,1)" text-anchor="middle" font-family="Liberation Sans, sans-serif" font-size="20" font-weight="normal" fill="#111" stroke="#111" stroke-width="0.75">0.9</text>
<text transform="translate(618.6,1107.0) scale(0.9,1)" text-anchor="middle" font-family="Liberation Sans, sans-serif" font-size="20" font-weight="normal" fill="#111" stroke="#111" stroke-width="0.75">79</text>
<text transform="translate(654.6,1107.0) scale(0.9,1)" text-anchor="middle" font-family="Liberation Sans, sans-serif" font-size="20" font-weight="normal" fill="#111" stroke="#111" stroke-width="0.75">61</text>
<text transform="translate(692.0,1107.0) scale(0.9,1)" text-anchor="middle" font-family="Liberation Sans, sans-serif" font-size="20" font-weight="normal" fill="#111" stroke="#111" stroke-width="0.75">52</text>
<text transform="translate(728.8,1107.0) scale(0.9,1)" text-anchor="middle" font-family="Liberation Sans, sans-serif" font-size="20" font-weight="normal" fill="#111" stroke="#111" stroke-width="0.75">36</text>
<text transform="translate(765.5,1107.0) scale(0.9,1)" text-anchor="middle" font-family="Liberation Sans, sans-serif" font-size="20" font-weight="normal" fill="#111" stroke="#111" stroke-width="0.75">20</text>
<text transform="translate(802.3,1107.0) scale(0.9,1)" text-anchor="middle" font-family="Liberation Sans, sans-serif" font-size="20" font-weight="normal" fill="#111" stroke="#111" stroke-width="0.75">14</text>
<text transform="translate(834.0,1107.0) scale(0.9,1)" text-anchor="middle" font-family="Liberation Sans, sans-serif" font-size="20" font-weight="normal" fill="#111" stroke="#111" stroke-width="0.75">9</text>
<text transform="translate(862.4,1107.0) scale(0.9,1)" text-anchor="middle" font-family="Liberation Sans, sans-serif" font-size="20" font-weight="normal" fill="#111" stroke="#111" stroke-width="0.75">5</text>
<text transform="translate(888.4,1107.0) scale(0.9,1)" text-anchor="middle" font-family="Liberation Sans, sans-serif" font-size="20" font-weight="normal" fill="#111" stroke="#111" stroke-width="0.75">3</text>
<text transform="translate(915.2,1107.0) scale(0.9,1)" text-anchor="middle" font-family="Liberation Sans, sans-serif" font-size="20" font-weight="normal" fill="#111" stroke="#111" stroke-width="0.75">2</text>
<text transform="translate(941.9,1107.0) scale(0.9,1)" text-anchor="middle" font-family="Liberation Sans, sans-serif" font-size="20" font-weight="normal" fill="#111" stroke="#111" stroke-width="0.75">1</text>
<text transform="translate(783.7,1359.5) scale(0.99,1)" text-anchor="middle" font-family="Liberation Sans, sans-serif" font-size="20" font-weight="normal" fill="#111" stroke="#111" stroke-width="0.75">Log(λ)</text>
<text transform="translate(536.0,1205.5) rotate(-90) scale(0.9,1)" text-anchor="middle" font-family="Liberation Sans, sans-serif" font-size="20" font-weight="normal" fill="#111" stroke="#111" stroke-width="0.75">Binomial Deviance</text>
<circle cx="863.0" cy="1099.6" r="15.5" fill="none" stroke="#c80000" stroke-width="4.2"/>
<line x1="708.7" y1="1139.9" x2="708.7" y2="1274.1" stroke="#6a6e76" stroke-width="1.3" stroke-dasharray="1.8,2.9"/>
<line x1="862.4" y1="1139.9" x2="862.4" y2="1274.1" stroke="#6a6e76" stroke-width="1.3" stroke-dasharray="1.8,2.9"/>
<text x="-0.5" y="24.2" font-family="Liberation Sans, sans-serif" font-size="30" font-weight="bold" fill="#000">A</text>
<text x="0" y="379" font-family="Liberation Sans, sans-serif" font-size="30" font-weight="bold" fill="#000">B</text>
<text x="0" y="721.5" font-family="Liberation Sans, sans-serif" font-size="30" font-weight="bold" fill="#000">C</text>
<text x="0" y="1081" font-family="Liberation Sans, sans-serif" font-size="30" font-weight="bold" fill="#000">D</text>
<text x="971.5" y="63.8" font-family="Liberation Serif, serif" font-size="31.5" fill="#111" xml:space="preserve">SE Radiomics Features</text>
<text x="983.3" y="109.7" font-family="Liberation Serif, serif" font-size="20" fill="#111" xml:space="preserve">original glszm GrayLevelVariance</text>
<text x="983.3" y="145.5" font-family="Liberation Serif, serif" font-size="20" fill="#111" xml:space="preserve">wavelet-LHL glszm GrayLevelNonUniformity</text>
<text x="983.3" y="180.3" font-family="Liberation Serif, serif" font-size="20" fill="#111" xml:space="preserve">wavelet-LHH gldm LargeDependenceLowGrayLevelEmphasis</text>
<text x="983.3" y="215.5" font-family="Liberation Serif, serif" font-size="20" fill="#111" xml:space="preserve">wavelet-LLL glcm SumSquares</text>
<text x="973.6" y="417.7" font-family="Liberation Serif, serif" font-size="31.5" fill="#111" xml:space="preserve">ABVS_Coronal Radiomics Features</text>
<text x="978.7" y="495.5" font-family="Liberation Serif, serif" font-size="20" fill="#111" xml:space="preserve">wavelet-HHL glszm GrayLevelNonUniformity</text>
<text x="978.7" y="529.9" font-family="Liberation Serif, serif" font-size="20" fill="#111" xml:space="preserve">wavelet-LLL glszm ZoneEntropy</text>
<text x="976.1" y="763" font-family="Liberation Serif, serif" font-size="31.5" fill="#111" xml:space="preserve">ABVS_Transverse Radiomics Features</text>
<text x="978.7" y="826.9" font-family="Liberation Serif, serif" font-size="20" fill="#111" xml:space="preserve">wavelet-LHH glszm ZoneEntropy</text>
<text x="978.7" y="862.8" font-family="Liberation Serif, serif" font-size="20" fill="#111" xml:space="preserve">wavelet-HLL glszm ZoneEntropy</text>
<text x="978.7" y="897.5" font-family="Liberation Serif, serif" font-size="20" fill="#111" xml:space="preserve">wavelet-HHL glszm GrayLevelNonUniformity</text>
<text x="980.8" y="1117.7" font-family="Liberation Serif, serif" font-size="31.5" fill="#111" xml:space="preserve">ABVS_Sagittal  Radiomics Features</text>
<text x="978.7" y="1153.5" font-family="Liberation Serif, serif" font-size="20" fill="#111" xml:space="preserve">wavelet-LHH glcm MCC</text>
<text x="978.7" y="1188.3" font-family="Liberation Serif, serif" font-size="20" fill="#111" xml:space="preserve">wavelet-LHH glszm ZoneEntropy</text>
<text x="978.7" y="1222.8" font-family="Liberation Serif, serif" font-size="20" fill="#111" xml:space="preserve">wavelet-HLL glszm GrayLevelNonUniformity</text>
<text x="978.7" y="1258.3" font-family="Liberation Serif, serif" font-size="20" fill="#111" xml:space="preserve">wavelet-HLH glszm ZoneEntropy</text>
<text x="978.7" y="1293.4" font-family="Liberation Serif, serif" font-size="20" fill="#111" xml:space="preserve">wavelet-HHL glszm GrayLevelNonUniformity</text>
<path d="M617.4,97.4V165.5M620.8,100.8V167.9M624.1,104.3V170.4M627.5,107.7V172.9M630.8,111.1V175.3M634.2,114.5V177.7M637.5,117.7V179.9M640.9,120.8V182.0M644.3,123.7V183.8M647.6,126.4V185.4M651.0,129.1V186.8M654.3,131.6V188.3M657.7,134.2V189.7M661.0,136.8V191.4M664.4,139.5V193.1M667.7,142.1V194.9M671.1,144.8V196.7M674.5,147.4V198.5M677.8,150.1V200.3M681.2,152.9V202.1M684.5,155.8V203.9M687.9,158.8V205.8M691.2,161.8V207.6M694.6,164.8V209.4M698.0,167.7V211.2M701.3,170.4V212.8M704.7,172.9V214.5M708.0,175.4V216.0M711.4,177.6V217.4M714.7,179.5V218.5M718.1,181.0V219.3M721.5,182.2V219.9M724.8,183.2V220.2M728.2,184.1V220.5M731.5,184.9V220.7M734.9,185.9V221.0M738.2,187.0V221.3M741.6,188.1V221.6M744.9,189.0V221.9M748.3,189.9V222.1M751.7,190.8V222.4M755.0,191.6V222.6M758.4,192.4V222.9M761.7,193.2V223.1M765.1,193.8V223.4M768.4,194.5V223.7M771.8,195.1V223.9M775.2,195.4V224.1M778.5,195.6V224.3M781.9,195.6V224.3M785.2,195.6V224.2M788.6,195.6V223.9M791.9,195.6V223.5M795.3,195.5V223.0M798.7,195.5V222.5M802.0,195.4V222.0M805.4,195.3V221.7M808.7,195.1V221.4M812.1,194.9V220.9M815.4,194.7V220.2M818.8,194.3V219.3M822.2,193.9V218.2M825.5,193.5V217.0M828.9,193.0V215.8M832.2,192.5V214.5M835.6,191.9V213.2M838.9,191.3V211.8M842.3,190.5V210.4M845.6,189.7V209.0M849.0,188.8V207.5M852.4,187.7V206.0M855.7,186.5V204.5M859.1,185.2V202.9M862.4,183.6V201.3M865.8,182.0V199.6M869.1,180.2V197.9M872.5,178.2V196.0M875.9,176.2V193.9M879.2,174.1V191.6M882.6,171.9V189.0M885.9,169.6V186.1M889.3,166.9V182.9M892.6,163.8V179.4M896.0,160.4V175.6M899.4,157.0V171.8M902.7,154.0V167.7M906.1,151.2V163.2M909.4,148.2V158.2M912.8,144.9V153.2M916.1,141.1V148.6M919.5,136.9V144.2M922.8,132.3V139.5M926.2,127.2V134.3M929.6,121.9V128.6M932.9,116.4V122.7M936.3,110.8V116.6M939.6,105.1V110.5M943.0,99.4V104.3M946.3,93.7V98.2M949.7,88.0V92.0" stroke="#c4c4c4" stroke-width="0.75" fill="none"/>
<path d="M616.1,97.4h2.6M616.1,165.5h2.6M619.5,100.8h2.6M619.5,167.9h2.6M622.8,104.3h2.6M622.8,170.4h2.6M626.2,107.7h2.6M626.2,172.9h2.6M629.5,111.1h2.6M629.5,175.3h2.6M632.9,114.5h2.6M632.9,177.7h2.6M636.2,117.7h2.6M636.2,179.9h2.6M639.6,120.8h2.6M639.6,182.0h2.6M643.0,123.7h2.6M643.0,183.8h2.6M646.3,126.4h2.6M646.3,185.4h2.6M649.7,129.1h2.6M649.7,186.8h2.6M653.0,131.6h2.6M653.0,188.3h2.6M656.4,134.2h2.6M656.4,189.7h2.6M659.7,136.8h2.6M659.7,191.4h2.6M663.1,139.5h2.6M663.1,193.1h2.6M666.4,142.1h2.6M666.4,194.9h2.6M669.8,144.8h2.6M669.8,196.7h2.6M673.2,147.4h2.6M673.2,198.5h2.6M676.5,150.1h2.6M676.5,200.3h2.6M679.9,152.9h2.6M679.9,202.1h2.6M683.2,155.8h2.6M683.2,203.9h2.6M686.6,158.8h2.6M686.6,205.8h2.6M689.9,161.8h2.6M689.9,207.6h2.6M693.3,164.8h2.6M693.3,209.4h2.6M696.7,167.7h2.6M696.7,211.2h2.6M700.0,170.4h2.6M700.0,212.8h2.6M703.4,172.9h2.6M703.4,214.5h2.6M706.7,175.4h2.6M706.7,216.0h2.6M710.1,177.6h2.6M710.1,217.4h2.6M713.4,179.5h2.6M713.4,218.5h2.6M716.8,181.0h2.6M716.8,219.3h2.6M720.2,182.2h2.6M720.2,219.9h2.6M723.5,183.2h2.6M723.5,220.2h2.6M726.9,184.1h2.6M726.9,220.5h2.6M730.2,184.9h2.6M730.2,220.7h2.6M733.6,185.9h2.6M733.6,221.0h2.6M736.9,187.0h2.6M736.9,221.3h2.6M740.3,188.1h2.6M740.3,221.6h2.6M743.6,189.0h2.6M743.6,221.9h2.6M747.0,189.9h2.6M747.0,222.1h2.6M750.4,190.8h2.6M750.4,222.4h2.6M753.7,191.6h2.6M753.7,222.6h2.6M757.1,192.4h2.6M757.1,222.9h2.6M760.4,193.2h2.6M760.4,223.1h2.6M763.8,193.8h2.6M763.8,223.4h2.6M767.1,194.5h2.6M767.1,223.7h2.6M770.5,195.1h2.6M770.5,223.9h2.6M773.9,195.4h2.6M773.9,224.1h2.6M777.2,195.6h2.6M777.2,224.3h2.6M780.6,195.6h2.6M780.6,224.3h2.6M783.9,195.6h2.6M783.9,224.2h2.6M787.3,195.6h2.6M787.3,223.9h2.6M790.6,195.6h2.6M790.6,223.5h2.6M794.0,195.5h2.6M794.0,223.0h2.6M797.4,195.5h2.6M797.4,222.5h2.6M800.7,195.4h2.6M800.7,222.0h2.6M804.1,195.3h2.6M804.1,221.7h2.6M807.4,195.1h2.6M807.4,221.4h2.6M810.8,194.9h2.6M810.8,220.9h2.6M814.1,194.7h2.6M814.1,220.2h2.6M817.5,194.3h2.6M817.5,219.3h2.6M820.9,193.9h2.6M820.9,218.2h2.6M824.2,193.5h2.6M824.2,217.0h2.6M827.6,193.0h2.6M827.6,215.8h2.6M830.9,192.5h2.6M830.9,214.5h2.6M834.3,191.9h2.6M834.3,213.2h2.6M837.6,191.3h2.6M837.6,211.8h2.6M841.0,190.5h2.6M841.0,210.4h2.6M844.3,189.7h2.6M844.3,209.0h2.6M847.7,188.8h2.6M847.7,207.5h2.6M851.1,187.7h2.6M851.1,206.0h2.6M854.4,186.5h2.6M854.4,204.5h2.6M857.8,185.2h2.6M857.8,202.9h2.6M861.1,183.6h2.6M861.1,201.3h2.6M864.5,182.0h2.6M864.5,199.6h2.6M867.8,180.2h2.6M867.8,197.9h2.6M871.2,178.2h2.6M871.2,196.0h2.6M874.6,176.2h2.6M874.6,193.9h2.6M877.9,174.1h2.6M877.9,191.6h2.6M881.3,171.9h2.6M881.3,189.0h2.6M884.6,169.6h2.6M884.6,186.1h2.6M888.0,166.9h2.6M888.0,182.9h2.6M891.3,163.8h2.6M891.3,179.4h2.6M894.7,160.4h2.6M894.7,175.6h2.6M898.1,157.0h2.6M898.1,171.8h2.6M901.4,154.0h2.6M901.4,167.7h2.6M904.8,151.2h2.6M904.8,163.2h2.6M908.1,148.2h2.6M908.1,158.2h2.6M911.5,144.9h2.6M911.5,153.2h2.6M914.8,141.1h2.6M914.8,148.6h2.6M918.2,136.9h2.6M918.2,144.2h2.6M921.5,132.3h2.6M921.5,139.5h2.6M924.9,127.2h2.6M924.9,134.3h2.6M928.3,121.9h2.6M928.3,128.6h2.6M931.6,116.4h2.6M931.6,122.7h2.6M935.0,110.8h2.6M935.0,116.6h2.6M938.3,105.1h2.6M938.3,110.5h2.6M941.7,99.4h2.6M941.7,104.3h2.6M945.0,93.7h2.6M945.0,98.2h2.6M948.4,88.0h2.6M948.4,92.0h2.6" stroke="#8a8f98" stroke-width="1.1" fill="none"/>
<path d="M617.4,97.4C621.2,101.2 633,113.6 640.1,120.1C647.2,126.5 653.4,130.8 660.1,136.1C666.8,141.4 673.5,146.5 680.2,152.1C686.9,157.7 694.2,164.8 700.2,169.5C706.2,174.2 710.6,177.5 716.2,180.2C721.8,182.9 728.5,183.9 733.6,185.5C738.7,187.1 741.4,188.2 747,189.6C752.6,191 761.2,193.2 767,194.2C772.8,195.2 772.9,195.6 781.7,195.6C790.5,195.6 807.8,195.6 820,194.2C832.2,192.8 844.1,190.8 854.8,186.9C865.5,183 876.6,175.9 884.2,170.8C891.8,165.7 895.3,160.7 900.2,156.2C905.1,151.7 909.1,149 913.6,144C918.1,139 921,135.3 927,126C933,116.7 945.9,94.3 949.7,88" fill="none" stroke="#9aa0a8" stroke-width="1.0" stroke-linejoin="round" stroke-linecap="round"/>
<path d="M617.4,165.5C621.2,168.2 633,177.3 640.1,181.5C647.2,185.7 653.4,187.6 660.1,190.9C666.8,194.2 673.5,198 680.2,201.6C686.9,205.2 694.2,209.4 700.2,212.3C706.2,215.2 710.6,217.5 716.2,218.9C721.8,220.3 726.2,220.2 733.6,220.9C741,221.6 752.3,222.4 760.3,223C768.3,223.6 775.1,224.4 781.7,224.3C788.3,224.2 793.6,223.2 800,222.3C806.4,221.4 810.9,221.8 820,218.9C829.1,216 844.8,209.6 854.8,204.9C864.8,200.2 872.6,196.6 880.2,190.9C887.8,185.2 894.6,177.3 900.2,170.8C905.8,164.3 909.1,158.3 913.6,152C918.1,145.7 921,143 927,133C933,123 945.9,98.8 949.7,92" fill="none" stroke="#9aa0a8" stroke-width="1.0" stroke-linejoin="round" stroke-linecap="round"/>
<g fill="#f20000"><circle cx="617.4" cy="131.4" r="3.6"/><circle cx="620.8" cy="134.1" r="3.6"/><circle cx="624.1" cy="136.9" r="3.6"/><circle cx="627.5" cy="139.7" r="3.6"/><circle cx="630.8" cy="142.4" r="3.6"/><circle cx="634.2" cy="145.1" r="3.6"/><circle cx="637.5" cy="147.6" r="3.6"/><circle cx="640.9" cy="150.0" r="3.6"/><circle cx="644.3" cy="152.3" r="3.6"/><circle cx="647.6" cy="154.3" r="3.6"/><circle cx="651.0" cy="156.3" r="3.6"/><circle cx="654.3" cy="158.2" r="3.6"/><circle cx="657.7" cy="160.1" r="3.6"/><circle cx="661.0" cy="162.1" r="3.6"/><circle cx="664.4" cy="164.0" r="3.6"/><circle cx="667.7" cy="166.0" r="3.6"/><circle cx="671.1" cy="168.0" r="3.6"/><circle cx="674.5" cy="170.0" r="3.6"/><circle cx="677.8" cy="172.0" r="3.6"/><circle cx="681.2" cy="174.1" r="3.6"/><circle cx="684.5" cy="176.3" r="3.6"/><circle cx="687.9" cy="178.5" r="3.6"/><circle cx="691.2" cy="180.8" r="3.6"/><circle cx="694.6" cy="183.1" r="3.6"/><circle cx="698.0" cy="185.4" r="3.6"/><circle cx="701.3" cy="187.7" r="3.6"/><circle cx="704.7" cy="190.1" r="3.6"/><circle cx="708.0" cy="192.5" r="3.6"/><circle cx="711.4" cy="194.8" r="3.6"/><circle cx="714.7" cy="196.9" r="3.6"/><circle cx="718.1" cy="198.4" r="3.6"/><circle cx="721.5" cy="199.7" r="3.6"/><circle cx="724.8" cy="200.7" r="3.6"/><circle cx="728.2" cy="201.6" r="3.6"/><circle cx="731.5" cy="202.4" r="3.6"/><circle cx="734.9" cy="203.2" r="3.6"/><circle cx="738.2" cy="203.9" r="3.6"/><circle cx="741.6" cy="204.5" r="3.6"/><circle cx="744.9" cy="205.0" r="3.6"/><circle cx="748.3" cy="205.7" r="3.6"/><circle cx="751.7" cy="206.3" r="3.6"/><circle cx="755.0" cy="206.9" r="3.6"/><circle cx="758.4" cy="207.4" r="3.6"/><circle cx="761.7" cy="207.7" r="3.6"/><circle cx="765.1" cy="208.1" r="3.6"/><circle cx="768.4" cy="208.4" r="3.6"/><circle cx="771.8" cy="208.6" r="3.6"/><circle cx="775.2" cy="208.8" r="3.6"/><circle cx="778.5" cy="208.9" r="3.6"/><circle cx="781.9" cy="208.9" r="3.6"/><circle cx="785.2" cy="208.9" r="3.6"/><circle cx="788.6" cy="208.8" r="3.6"/><circle cx="791.9" cy="208.7" r="3.6"/><circle cx="795.3" cy="208.5" r="3.6"/><circle cx="798.7" cy="208.3" r="3.6"/><circle cx="802.0" cy="208.1" r="3.6"/><circle cx="805.4" cy="207.7" r="3.6"/><circle cx="808.7" cy="207.4" r="3.6"/><circle cx="812.1" cy="206.9" r="3.6"/><circle cx="815.4" cy="206.4" r="3.6"/><circle cx="818.8" cy="205.8" r="3.6"/><circle cx="822.2" cy="205.2" r="3.6"/><circle cx="825.5" cy="204.6" r="3.6"/><circle cx="828.9" cy="203.9" r="3.6"/><circle cx="832.2" cy="203.2" r="3.6"/><circle cx="835.6" cy="202.4" r="3.6"/><circle cx="838.9" cy="201.5" r="3.6"/><circle cx="842.3" cy="200.6" r="3.6"/><circle cx="845.6" cy="199.6" r="3.6"/><circle cx="849.0" cy="198.5" r="3.6"/><circle cx="852.4" cy="197.2" r="3.6"/><circle cx="855.7" cy="195.8" r="3.6"/><circle cx="859.1" cy="194.2" r="3.6"/><circle cx="862.4" cy="192.5" r="3.6"/><circle cx="865.8" cy="190.6" r="3.6"/><circle cx="869.1" cy="188.5" r="3.6"/><circle cx="872.5" cy="186.2" r="3.6"/><circle cx="875.9" cy="183.7" r="3.6"/><circle cx="879.2" cy="181.1" r="3.6"/><circle cx="882.6" cy="178.2" r="3.6"/><circle cx="885.9" cy="175.3" r="3.6"/><circle cx="889.3" cy="172.2" r="3.6"/><circle cx="892.6" cy="169.1" r="3.6"/><circle cx="896.0" cy="166.0" r="3.6"/><circle cx="899.4" cy="162.8" r="3.6"/><circle cx="902.7" cy="159.5" r="3.6"/><circle cx="906.1" cy="156.2" r="3.6"/><circle cx="909.4" cy="152.7" r="3.6"/><circle cx="912.8" cy="149.0" r="3.6"/><circle cx="916.1" cy="145.0" r="3.6"/><circle cx="919.5" cy="140.5" r="3.6"/><circle cx="922.8" cy="135.6" r="3.6"/><circle cx="926.2" cy="130.6" r="3.6"/><circle cx="929.6" cy="125.6" r="3.6"/><circle cx="932.9" cy="120.4" r="3.6"/><circle cx="936.3" cy="114.7" r="3.6"/><circle cx="939.6" cy="108.2" r="3.6"/><circle cx="943.0" cy="101.4" r="3.6"/><circle cx="946.3" cy="95.6" r="3.6"/><circle cx="949.7" cy="90.0" r="3.6"/></g>
<path d="M618.0,438.7V499.5M621.4,441.6V502.3M624.7,444.4V505.2M628.1,447.4V508.0M631.4,450.6V511.0M634.8,454.3V514.1M638.1,458.7V517.4M641.5,463.5V520.8M644.8,468.5V524.3M648.2,473.4V527.5M651.5,478.5V530.6M654.9,483.6V533.6M658.2,488.7V536.6M661.6,493.6V539.4M664.9,498.3V542.2M668.3,502.9V544.9M671.6,507.5V547.5M675.0,512.4V550.0M678.3,517.5V552.4M681.7,522.7V554.8M685.0,527.7V557.1M688.4,532.3V559.3M691.7,537.0V561.7M695.1,541.3V563.8M698.4,544.7V565.6M701.8,547.3V566.9M705.1,549.4V567.9M708.5,551.1V568.8M711.8,552.6V569.5M715.2,553.9V570.1M718.5,555.1V570.6M721.9,556.1V571.1M725.2,557.0V571.5M728.6,557.8V571.9M731.9,558.5V572.2M735.3,559.1V572.4M738.6,559.7V572.6M742.0,560.2V572.8M745.3,560.7V572.9M748.7,561.1V573.0M752.0,561.4V573.0M755.4,561.7V573.0M758.7,561.9V572.9M762.1,562.0V572.8M765.4,562.1V572.7M768.8,562.2V572.5M772.1,562.3V572.4M775.5,562.3V572.2M778.8,562.3V572.1M782.2,562.3V571.9M785.5,562.2V571.8M788.9,562.1V571.6M792.2,562.0V571.4M795.6,562.0V571.2M798.9,562.0V571.1M802.3,562.1V570.9M805.6,562.2V570.7M809.0,562.3V570.4M812.3,562.5V570.2M815.7,562.7V570.0M819.0,562.9V569.7M822.4,563.1V569.5M825.7,563.2V569.3M829.1,563.4V569.2M832.4,563.5V569.0M835.8,563.6V568.9M839.1,563.7V568.9M842.5,563.8V568.9M845.8,564.0V568.9M849.2,564.1V569.0M852.5,564.2V569.0M855.9,564.3V569.1M859.2,564.4V569.1M862.6,564.4V569.0M865.9,564.3V568.9M869.3,564.2V568.8M872.6,564.1V568.6M876.0,563.8V568.3M879.3,563.4V567.9M882.7,563.0V567.5M886.0,562.6V567.0M889.4,562.1V566.5M892.7,561.5V566.0M896.1,560.9V565.4M899.4,560.3V564.8M902.8,559.6V564.1M906.1,559.0V563.5M909.5,558.3V562.8M912.8,557.6V562.2M916.2,557.0V561.4M919.5,556.3V560.7M922.9,555.5V559.9M926.2,554.7V559.1M929.6,553.9V558.3M932.9,553.1V557.4M936.3,552.3V556.5M939.6,551.5V555.6M943.0,550.7V554.8M946.3,549.8V553.9M949.7,549.0V553.0" stroke="#c4c4c4" stroke-width="0.75" fill="none"/>
<path d="M616.7,438.7h2.6M616.7,499.5h2.6M620.1,441.6h2.6M620.1,502.3h2.6M623.4,444.4h2.6M623.4,505.2h2.6M626.8,447.4h2.6M626.8,508.0h2.6M630.1,450.6h2.6M630.1,511.0h2.6M633.5,454.3h2.6M633.5,514.1h2.6M636.8,458.7h2.6M636.8,517.4h2.6M640.2,463.5h2.6M640.2,520.8h2.6M643.5,468.5h2.6M643.5,524.3h2.6M646.9,473.4h2.6M646.9,527.5h2.6M650.2,478.5h2.6M650.2,530.6h2.6M653.6,483.6h2.6M653.6,533.6h2.6M656.9,488.7h2.6M656.9,536.6h2.6M660.3,493.6h2.6M660.3,539.4h2.6M663.6,498.3h2.6M663.6,542.2h2.6M667.0,502.9h2.6M667.0,544.9h2.6M670.3,507.5h2.6M670.3,547.5h2.6M673.7,512.4h2.6M673.7,550.0h2.6M677.0,517.5h2.6M677.0,552.4h2.6M680.4,522.7h2.6M680.4,554.8h2.6M683.7,527.7h2.6M683.7,557.1h2.6M687.1,532.3h2.6M687.1,559.3h2.6M690.4,537.0h2.6M690.4,561.7h2.6M693.8,541.3h2.6M693.8,563.8h2.6M697.1,544.7h2.6M697.1,565.6h2.6M700.5,547.3h2.6M700.5,566.9h2.6M703.8,549.4h2.6M703.8,567.9h2.6M707.2,551.1h2.6M707.2,568.8h2.6M710.5,552.6h2.6M710.5,569.5h2.6M713.9,553.9h2.6M713.9,570.1h2.6M717.2,555.1h2.6M717.2,570.6h2.6M720.6,556.1h2.6M720.6,571.1h2.6M723.9,557.0h2.6M723.9,571.5h2.6M727.3,557.8h2.6M727.3,571.9h2.6M730.6,558.5h2.6M730.6,572.2h2.6M734.0,559.1h2.6M734.0,572.4h2.6M737.3,559.7h2.6M737.3,572.6h2.6M740.7,560.2h2.6M740.7,572.8h2.6M744.0,560.7h2.6M744.0,572.9h2.6M747.4,561.1h2.6M747.4,573.0h2.6M750.7,561.4h2.6M750.7,573.0h2.6M754.1,561.7h2.6M754.1,573.0h2.6M757.4,561.9h2.6M757.4,572.9h2.6M760.8,562.0h2.6M760.8,572.8h2.6M764.1,562.1h2.6M764.1,572.7h2.6M767.5,562.2h2.6M767.5,572.5h2.6M770.8,562.3h2.6M770.8,572.4h2.6M774.2,562.3h2.6M774.2,572.2h2.6M777.5,562.3h2.6M777.5,572.1h2.6M780.9,562.3h2.6M780.9,571.9h2.6M784.2,562.2h2.6M784.2,571.8h2.6M787.6,562.1h2.6M787.6,571.6h2.6M790.9,562.0h2.6M790.9,571.4h2.6M794.3,562.0h2.6M794.3,571.2h2.6M797.6,562.0h2.6M797.6,571.1h2.6M801.0,562.1h2.6M801.0,570.9h2.6M804.3,562.2h2.6M804.3,570.7h2.6M807.7,562.3h2.6M807.7,570.4h2.6M811.0,562.5h2.6M811.0,570.2h2.6M814.4,562.7h2.6M814.4,570.0h2.6M817.7,562.9h2.6M817.7,569.7h2.6M821.1,563.1h2.6M821.1,569.5h2.6M824.4,563.2h2.6M824.4,569.3h2.6M827.8,563.4h2.6M827.8,569.2h2.6M831.1,563.5h2.6M831.1,569.0h2.6M834.5,563.6h2.6M834.5,568.9h2.6M837.8,563.7h2.6M837.8,568.9h2.6M841.2,563.8h2.6M841.2,568.9h2.6M844.5,564.0h2.6M844.5,568.9h2.6M847.9,564.1h2.6M847.9,569.0h2.6M851.2,564.2h2.6M851.2,569.0h2.6M854.6,564.3h2.6M854.6,569.1h2.6M857.9,564.4h2.6M857.9,569.1h2.6M861.3,564.4h2.6M861.3,569.0h2.6M864.6,564.3h2.6M864.6,568.9h2.6M868.0,564.2h2.6M868.0,568.8h2.6M871.3,564.1h2.6M871.3,568.6h2.6M874.7,563.8h2.6M874.7,568.3h2.6M878.0,563.4h2.6M878.0,567.9h2.6M881.4,563.0h2.6M881.4,567.5h2.6M884.7,562.6h2.6M884.7,567.0h2.6M888.1,562.1h2.6M888.1,566.5h2.6M891.4,561.5h2.6M891.4,566.0h2.6M894.8,560.9h2.6M894.8,565.4h2.6M898.1,560.3h2.6M898.1,564.8h2.6M901.5,559.6h2.6M901.5,564.1h2.6M904.8,559.0h2.6M904.8,563.5h2.6M908.2,558.3h2.6M908.2,562.8h2.6M911.5,557.6h2.6M911.5,562.2h2.6M914.9,557.0h2.6M914.9,561.4h2.6M918.2,556.3h2.6M918.2,560.7h2.6M921.6,555.5h2.6M921.6,559.9h2.6M924.9,554.7h2.6M924.9,559.1h2.6M928.3,553.9h2.6M928.3,558.3h2.6M931.6,553.1h2.6M931.6,557.4h2.6M935.0,552.3h2.6M935.0,556.5h2.6M938.3,551.5h2.6M938.3,555.6h2.6M941.7,550.7h2.6M941.7,554.8h2.6M945.0,549.8h2.6M945.0,553.9h2.6M948.4,549.0h2.6M948.4,553.0h2.6" stroke="#8a8f98" stroke-width="1.1" fill="none"/>
<path d="M618,438.7C620.6,441 628.6,447.2 633.4,452.7C638.2,458.1 642.3,464.9 646.8,471.4C651.2,477.9 655.6,485 660.1,491.5C664.6,498 669,503.8 673.5,510.2C678,516.6 682.3,524.2 686.8,530.2C691.2,536.2 694.6,542 700.2,546.2C705.8,550.4 712.4,553.2 720.2,555.6C728,558 738.1,559.8 747,560.9C755.9,562 764.9,562.1 773.7,562.3C782.5,562.5 790,561.8 800,562C810,562.2 821.1,563.2 833.4,563.5C845.6,563.8 860.1,565 873.5,564C886.9,563 900.9,560 913.6,557.5C926.3,555 943.7,550.4 949.7,549" fill="none" stroke="#9aa0a8" stroke-width="1.0" stroke-linejoin="round" stroke-linecap="round"/>
<path d="M618,499.5C620.6,501.7 628.6,508.3 633.4,512.8C638.2,517.2 642.3,522 646.8,526.2C651.2,530.4 655.6,534.4 660.1,538.2C664.6,542 669,545.5 673.5,548.9C678,552.2 682.3,555.4 686.8,558.3C691.2,561.2 694.6,564.2 700.2,566.3C705.8,568.4 712.4,569.8 720.2,570.9C728,572 738.1,572.8 747,573C755.9,573.2 764.9,572.6 773.7,572.3C782.5,572 790,571.5 800,571C810,570.5 821.1,569.4 833.4,569C845.6,568.6 860.1,569.7 873.5,568.5C886.9,567.3 900.9,564.6 913.6,562C926.3,559.4 943.7,554.5 949.7,553" fill="none" stroke="#9aa0a8" stroke-width="1.0" stroke-linejoin="round" stroke-linecap="round"/>
<g fill="#f20000"><circle cx="618.0" cy="468.1" r="3.8"/><circle cx="621.4" cy="472.0" r="3.8"/><circle cx="624.7" cy="475.8" r="3.8"/><circle cx="628.1" cy="479.7" r="3.8"/><circle cx="631.4" cy="483.7" r="3.8"/><circle cx="634.8" cy="487.8" r="3.8"/><circle cx="638.1" cy="492.2" r="3.8"/><circle cx="641.5" cy="496.6" r="3.8"/><circle cx="644.8" cy="501.0" r="3.8"/><circle cx="648.2" cy="505.1" r="3.8"/><circle cx="651.5" cy="508.9" r="3.8"/><circle cx="654.9" cy="512.6" r="3.8"/><circle cx="658.2" cy="516.2" r="3.8"/><circle cx="661.6" cy="519.7" r="3.8"/><circle cx="664.9" cy="523.1" r="3.8"/><circle cx="668.3" cy="526.4" r="3.8"/><circle cx="671.6" cy="529.6" r="3.8"/><circle cx="675.0" cy="533.0" r="3.8"/><circle cx="678.3" cy="536.5" r="3.8"/><circle cx="681.7" cy="540.0" r="3.8"/><circle cx="685.0" cy="543.3" r="3.8"/><circle cx="688.4" cy="546.2" r="3.8"/><circle cx="691.7" cy="548.8" r="3.8"/><circle cx="695.1" cy="551.1" r="3.8"/><circle cx="698.4" cy="553.2" r="3.8"/><circle cx="701.8" cy="555.0" r="3.8"/><circle cx="705.1" cy="556.6" r="3.8"/><circle cx="708.5" cy="557.9" r="3.8"/><circle cx="711.8" cy="559.0" r="3.8"/><circle cx="715.2" cy="560.1" r="3.8"/><circle cx="718.5" cy="561.0" r="3.8"/><circle cx="721.9" cy="561.8" r="3.8"/><circle cx="725.2" cy="562.6" r="3.8"/><circle cx="728.6" cy="563.4" r="3.8"/><circle cx="731.9" cy="564.0" r="3.8"/><circle cx="735.3" cy="564.6" r="3.8"/><circle cx="738.6" cy="565.0" r="3.8"/><circle cx="742.0" cy="565.4" r="3.8"/><circle cx="745.3" cy="565.7" r="3.8"/><circle cx="748.7" cy="566.0" r="3.8"/><circle cx="752.0" cy="566.2" r="3.8"/><circle cx="755.4" cy="566.4" r="3.8"/><circle cx="758.7" cy="566.6" r="3.8"/><circle cx="762.1" cy="566.7" r="3.8"/><circle cx="765.4" cy="566.9" r="3.8"/><circle cx="768.8" cy="567.0" r="3.8"/><circle cx="772.1" cy="567.0" r="3.8"/><circle cx="775.5" cy="567.0" r="3.8"/><circle cx="778.8" cy="566.9" r="3.8"/><circle cx="782.2" cy="566.8" r="3.8"/><circle cx="785.5" cy="566.6" r="3.8"/><circle cx="788.9" cy="566.3" r="3.8"/><circle cx="792.2" cy="566.0" r="3.8"/><circle cx="795.6" cy="565.7" r="3.8"/><circle cx="798.9" cy="565.3" r="3.8"/><circle cx="802.3" cy="565.0" r="3.8"/><circle cx="805.6" cy="564.7" r="3.8"/><circle cx="809.0" cy="564.5" r="3.8"/><circle cx="812.3" cy="564.3" r="3.8"/><circle cx="815.7" cy="564.3" r="3.8"/><circle cx="819.0" cy="564.6" r="3.8"/><circle cx="822.4" cy="565.0" r="3.8"/><circle cx="825.7" cy="565.6" r="3.8"/><circle cx="829.1" cy="566.0" r="3.8"/><circle cx="832.4" cy="566.3" r="3.8"/><circle cx="835.8" cy="566.4" r="3.8"/><circle cx="839.1" cy="566.4" r="3.8"/><circle cx="842.5" cy="566.5" r="3.8"/><circle cx="845.8" cy="566.5" r="3.8"/><circle cx="849.2" cy="566.5" r="3.8"/><circle cx="852.5" cy="566.5" r="3.8"/><circle cx="855.9" cy="566.5" r="3.8"/><circle cx="859.2" cy="566.5" r="3.8"/><circle cx="862.6" cy="566.5" r="3.8"/><circle cx="865.9" cy="566.5" r="3.8"/><circle cx="869.3" cy="566.4" r="3.8"/><circle cx="872.6" cy="566.3" r="3.8"/><circle cx="876.0" cy="566.2" r="3.8"/><circle cx="879.3" cy="566.0" r="3.8"/><circle cx="882.7" cy="565.8" r="3.8"/><circle cx="886.0" cy="565.4" r="3.8"/><circle cx="889.4" cy="565.0" r="3.8"/><circle cx="892.7" cy="564.4" r="3.8"/><circle cx="896.1" cy="563.8" r="3.8"/><circle cx="899.4" cy="563.1" r="3.8"/><circle cx="902.8" cy="562.4" r="3.8"/><circle cx="906.1" cy="561.5" r="3.8"/><circle cx="909.5" cy="560.7" r="3.8"/><circle cx="912.8" cy="559.8" r="3.8"/><circle cx="916.2" cy="558.9" r="3.8"/><circle cx="919.5" cy="558.0" r="3.8"/><circle cx="922.9" cy="557.1" r="3.8"/><circle cx="926.2" cy="556.1" r="3.8"/><circle cx="929.6" cy="555.2" r="3.8"/><circle cx="932.9" cy="554.4" r="3.8"/><circle cx="936.3" cy="553.6" r="3.8"/><circle cx="939.6" cy="552.9" r="3.8"/><circle cx="943.0" cy="552.2" r="3.8"/><circle cx="946.3" cy="551.5" r="3.8"/><circle cx="949.7" cy="550.9" r="3.8"/></g>
<path d="M622.0,790.7V840.1M625.3,796.8V844.3M628.6,802.7V848.4M631.9,808.3V852.6M635.2,813.5V856.7M638.5,818.5V860.8M641.8,823.4V864.9M645.1,828.2V869.0M648.4,833.0V873.2M651.7,837.7V877.3M655.0,842.3V881.2M658.3,847.0V884.9M661.6,851.6V888.4M664.8,856.2V891.6M668.1,860.5V894.6M671.4,864.5V897.4M674.7,868.1V900.0M678.0,871.3V902.6M681.3,874.2V905.0M684.6,876.9V907.4M687.9,879.3V909.7M691.2,881.5V911.8M694.5,883.5V913.7M697.8,885.4V915.3M701.1,887.1V916.6M704.4,888.4V917.5M707.7,889.5V918.1M711.0,890.3V918.5M714.3,891.0V918.6M717.6,891.6V918.8M720.9,892.0V918.9M724.2,892.4V919.1M727.5,892.7V919.2M730.8,893.0V919.3M734.1,893.3V919.4M737.4,893.5V919.4M740.7,893.7V919.4M744.0,893.9V919.3M747.2,894.1V919.1M750.5,894.2V918.8M753.8,894.4V918.3M757.1,894.4V917.6M760.4,894.4V916.8M763.7,894.3V915.9M767.0,894.2V915.0M770.3,894.2V914.2M773.6,894.2V913.6M776.9,894.2V913.2M780.2,894.3V912.8M783.5,894.4V912.5M786.8,894.4V912.3M790.1,894.5V912.1M793.4,894.6V911.9M796.7,894.7V911.7M800.0,894.9V911.6M803.3,895.2V911.5M806.6,895.7V911.6M809.9,896.3V911.7M813.2,896.7V911.8M816.5,896.9V911.8M819.8,896.9V911.6M823.1,896.7V911.4M826.3,896.3V911.1M829.6,895.9V910.8M832.9,895.5V910.5M836.2,895.0V910.1M839.5,894.5V909.6M842.8,894.0V909.1M846.1,893.4V908.4M849.4,892.9V907.7M852.7,892.3V906.9M856.0,891.8V906.0M859.3,891.3V905.1M862.6,890.7V904.0M865.9,890.1V903.0M869.2,889.4V901.8M872.5,888.5V900.6M875.8,887.5V899.3M879.1,886.3V897.7M882.4,885.1V896.0M885.7,883.8V894.1M889.0,882.3V892.1M892.3,880.8V890.1M895.6,879.2V888.0M898.9,877.4V885.9M902.2,875.4V883.6M905.5,873.1V881.1M908.7,870.5V878.4M912.0,867.6V875.4M915.3,864.5V872.0M918.6,861.5V868.7M921.9,858.6V865.4M925.2,855.7V862.1M928.5,852.9V858.8M931.8,850.1V855.5M935.1,847.3V852.2M938.4,844.5V848.9M941.7,841.6V845.6M945.0,838.8V842.3M948.3,836.0V839.0" stroke="#c4c4c4" stroke-width="0.75" fill="none"/>
<path d="M620.7,790.7h2.6M620.7,840.1h2.6M624.0,796.8h2.6M624.0,844.3h2.6M627.3,802.7h2.6M627.3,848.4h2.6M630.6,808.3h2.6M630.6,852.6h2.6M633.9,813.5h2.6M633.9,856.7h2.6M637.2,818.5h2.6M637.2,860.8h2.6M640.5,823.4h2.6M640.5,864.9h2.6M643.8,828.2h2.6M643.8,869.0h2.6M647.1,833.0h2.6M647.1,873.2h2.6M650.4,837.7h2.6M650.4,877.3h2.6M653.7,842.3h2.6M653.7,881.2h2.6M657.0,847.0h2.6M657.0,884.9h2.6M660.3,851.6h2.6M660.3,888.4h2.6M663.5,856.2h2.6M663.5,891.6h2.6M666.8,860.5h2.6M666.8,894.6h2.6M670.1,864.5h2.6M670.1,897.4h2.6M673.4,868.1h2.6M673.4,900.0h2.6M676.7,871.3h2.6M676.7,902.6h2.6M680.0,874.2h2.6M680.0,905.0h2.6M683.3,876.9h2.6M683.3,907.4h2.6M686.6,879.3h2.6M686.6,909.7h2.6M689.9,881.5h2.6M689.9,911.8h2.6M693.2,883.5h2.6M693.2,913.7h2.6M696.5,885.4h2.6M696.5,915.3h2.6M699.8,887.1h2.6M699.8,916.6h2.6M703.1,888.4h2.6M703.1,917.5h2.6M706.4,889.5h2.6M706.4,918.1h2.6M709.7,890.3h2.6M709.7,918.5h2.6M713.0,891.0h2.6M713.0,918.6h2.6M716.3,891.6h2.6M716.3,918.8h2.6M719.6,892.0h2.6M719.6,918.9h2.6M722.9,892.4h2.6M722.9,919.1h2.6M726.2,892.7h2.6M726.2,919.2h2.6M729.5,893.0h2.6M729.5,919.3h2.6M732.8,893.3h2.6M732.8,919.4h2.6M736.1,893.5h2.6M736.1,919.4h2.6M739.4,893.7h2.6M739.4,919.4h2.6M742.7,893.9h2.6M742.7,919.3h2.6M745.9,894.1h2.6M745.9,919.1h2.6M749.2,894.2h2.6M749.2,918.8h2.6M752.5,894.4h2.6M752.5,918.3h2.6M755.8,894.4h2.6M755.8,917.6h2.6M759.1,894.4h2.6M759.1,916.8h2.6M762.4,894.3h2.6M762.4,915.9h2.6M765.7,894.2h2.6M765.7,915.0h2.6M769.0,894.2h2.6M769.0,914.2h2.6M772.3,894.2h2.6M772.3,913.6h2.6M775.6,894.2h2.6M775.6,913.2h2.6M778.9,894.3h2.6M778.9,912.8h2.6M782.2,894.4h2.6M782.2,912.5h2.6M785.5,894.4h2.6M785.5,912.3h2.6M788.8,894.5h2.6M788.8,912.1h2.6M792.1,894.6h2.6M792.1,911.9h2.6M795.4,894.7h2.6M795.4,911.7h2.6M798.7,894.9h2.6M798.7,911.6h2.6M802.0,895.2h2.6M802.0,911.5h2.6M805.3,895.7h2.6M805.3,911.6h2.6M808.6,896.3h2.6M808.6,911.7h2.6M811.9,896.7h2.6M811.9,911.8h2.6M815.2,896.9h2.6M815.2,911.8h2.6M818.5,896.9h2.6M818.5,911.6h2.6M821.8,896.7h2.6M821.8,911.4h2.6M825.0,896.3h2.6M825.0,911.1h2.6M828.3,895.9h2.6M828.3,910.8h2.6M831.6,895.5h2.6M831.6,910.5h2.6M834.9,895.0h2.6M834.9,910.1h2.6M838.2,894.5h2.6M838.2,909.6h2.6M841.5,894.0h2.6M841.5,909.1h2.6M844.8,893.4h2.6M844.8,908.4h2.6M848.1,892.9h2.6M848.1,907.7h2.6M851.4,892.3h2.6M851.4,906.9h2.6M854.7,891.8h2.6M854.7,906.0h2.6M858.0,891.3h2.6M858.0,905.1h2.6M861.3,890.7h2.6M861.3,904.0h2.6M864.6,890.1h2.6M864.6,903.0h2.6M867.9,889.4h2.6M867.9,901.8h2.6M871.2,888.5h2.6M871.2,900.6h2.6M874.5,887.5h2.6M874.5,899.3h2.6M877.8,886.3h2.6M877.8,897.7h2.6M881.1,885.1h2.6M881.1,896.0h2.6M884.4,883.8h2.6M884.4,894.1h2.6M887.7,882.3h2.6M887.7,892.1h2.6M891.0,880.8h2.6M891.0,890.1h2.6M894.3,879.2h2.6M894.3,888.0h2.6M897.6,877.4h2.6M897.6,885.9h2.6M900.9,875.4h2.6M900.9,883.6h2.6M904.2,873.1h2.6M904.2,881.1h2.6M907.4,870.5h2.6M907.4,878.4h2.6M910.7,867.6h2.6M910.7,875.4h2.6M914.0,864.5h2.6M914.0,872.0h2.6M917.3,861.5h2.6M917.3,868.7h2.6M920.6,858.6h2.6M920.6,865.4h2.6M923.9,855.7h2.6M923.9,862.1h2.6M927.2,852.9h2.6M927.2,858.8h2.6M930.5,850.1h2.6M930.5,855.5h2.6M933.8,847.3h2.6M933.8,852.2h2.6M937.1,844.5h2.6M937.1,848.9h2.6M940.4,841.6h2.6M940.4,845.6h2.6M943.7,838.8h2.6M943.7,842.3h2.6M947.0,836.0h2.6M947.0,839.0h2.6" stroke="#8a8f98" stroke-width="1.1" fill="none"/>
<path d="M622,790.7C623.9,794 628.2,802.5 633.4,810.7C638.6,818.9 646.7,830.8 653.4,840.1C660.1,849.5 666.8,859.7 673.5,866.8C680.2,873.9 686.8,878.9 693.5,882.9C700.2,886.9 704.2,889 713.6,890.9C723,892.8 739.6,893.7 749.6,894.2C759.6,894.8 765.3,894.1 773.7,894.2C782.1,894.3 792.3,894.5 800,894.9C807.7,895.3 811.1,897.3 820,896.9C828.9,896.5 844.6,893.7 853.5,892.2C862.4,890.8 866.8,890.2 873.5,888.2C880.2,886.2 888,882.9 893.6,880.2C899.2,877.5 902.5,875.4 906.9,872C911.3,868.6 913.4,866 920.3,860C927.2,854 943.6,840 948.3,836" fill="none" stroke="#9aa0a8" stroke-width="1.0" stroke-linejoin="round" stroke-linecap="round"/>
<path d="M622,840.1C625,843.9 633.8,855 640.1,862.8C646.5,870.6 653.4,880 660.1,886.9C666.8,893.8 673.5,899.3 680.2,904.2C686.9,909.1 693.5,913.8 700.2,916.3C706.9,918.8 712,918.5 720.2,918.9C728.4,919.3 740.7,919.8 749.6,918.9C758.5,918 765.3,914.8 773.7,913.6C782.1,912.4 792.3,911.9 800,911.6C807.7,911.3 812.2,912.2 820,911.6C827.8,911 837.9,910.2 846.8,908.3C855.7,906.4 866.1,903.1 873.5,900.2C880.9,897.3 885.3,894.3 890.9,890.9C896.5,887.5 902,884 906.9,880C911.8,876 913.4,873.8 920.3,867C927.2,860.2 943.6,843.7 948.3,839" fill="none" stroke="#9aa0a8" stroke-width="1.0" stroke-linejoin="round" stroke-linecap="round"/>
<g fill="#f20000"><circle cx="622.0" cy="815.4" r="3.9"/><circle cx="625.3" cy="820.1" r="3.9"/><circle cx="628.6" cy="824.9" r="3.9"/><circle cx="631.9" cy="830.1" r="3.9"/><circle cx="635.2" cy="835.9" r="3.9"/><circle cx="638.5" cy="841.5" r="3.9"/><circle cx="641.8" cy="846.6" r="3.9"/><circle cx="645.1" cy="851.5" r="3.9"/><circle cx="648.4" cy="856.1" r="3.9"/><circle cx="651.7" cy="860.6" r="3.9"/><circle cx="655.0" cy="864.7" r="3.9"/><circle cx="658.3" cy="868.5" r="3.9"/><circle cx="661.6" cy="872.1" r="3.9"/><circle cx="664.8" cy="875.5" r="3.9"/><circle cx="668.1" cy="878.8" r="3.9"/><circle cx="671.4" cy="882.0" r="3.9"/><circle cx="674.7" cy="885.1" r="3.9"/><circle cx="678.0" cy="887.9" r="3.9"/><circle cx="681.3" cy="890.4" r="3.9"/><circle cx="684.6" cy="892.7" r="3.9"/><circle cx="687.9" cy="894.6" r="3.9"/><circle cx="691.2" cy="896.4" r="3.9"/><circle cx="694.5" cy="898.1" r="3.9"/><circle cx="697.8" cy="899.7" r="3.9"/><circle cx="701.1" cy="901.2" r="3.9"/><circle cx="704.4" cy="902.3" r="3.9"/><circle cx="707.7" cy="903.1" r="3.9"/><circle cx="711.0" cy="903.6" r="3.9"/><circle cx="714.3" cy="903.9" r="3.9"/><circle cx="717.6" cy="904.2" r="3.9"/><circle cx="720.9" cy="904.4" r="3.9"/><circle cx="724.2" cy="904.7" r="3.9"/><circle cx="727.5" cy="905.0" r="3.9"/><circle cx="730.8" cy="905.3" r="3.9"/><circle cx="734.1" cy="905.7" r="3.9"/><circle cx="737.4" cy="906.1" r="3.9"/><circle cx="740.7" cy="906.5" r="3.9"/><circle cx="744.0" cy="906.7" r="3.9"/><circle cx="747.2" cy="906.9" r="3.9"/><circle cx="750.5" cy="906.9" r="3.9"/><circle cx="753.8" cy="906.7" r="3.9"/><circle cx="757.1" cy="906.3" r="3.9"/><circle cx="760.4" cy="905.9" r="3.9"/><circle cx="763.7" cy="905.4" r="3.9"/><circle cx="767.0" cy="905.0" r="3.9"/><circle cx="770.3" cy="904.5" r="3.9"/><circle cx="773.6" cy="904.2" r="3.9"/><circle cx="776.9" cy="904.0" r="3.9"/><circle cx="780.2" cy="903.7" r="3.9"/><circle cx="783.5" cy="903.5" r="3.9"/><circle cx="786.8" cy="903.4" r="3.9"/><circle cx="790.1" cy="903.2" r="3.9"/><circle cx="793.4" cy="903.1" r="3.9"/><circle cx="796.7" cy="903.0" r="3.9"/><circle cx="800.0" cy="902.9" r="3.9"/><circle cx="803.3" cy="902.9" r="3.9"/><circle cx="806.6" cy="902.9" r="3.9"/><circle cx="809.9" cy="902.9" r="3.9"/><circle cx="813.2" cy="903.0" r="3.9"/><circle cx="816.5" cy="903.0" r="3.9"/><circle cx="819.8" cy="903.1" r="3.9"/><circle cx="823.1" cy="903.1" r="3.9"/><circle cx="826.3" cy="903.1" r="3.9"/><circle cx="829.6" cy="903.0" r="3.9"/><circle cx="832.9" cy="902.9" r="3.9"/><circle cx="836.2" cy="902.7" r="3.9"/><circle cx="839.5" cy="902.3" r="3.9"/><circle cx="842.8" cy="901.8" r="3.9"/><circle cx="846.1" cy="901.2" r="3.9"/><circle cx="849.4" cy="900.5" r="3.9"/><circle cx="852.7" cy="899.8" r="3.9"/><circle cx="856.0" cy="899.0" r="3.9"/><circle cx="859.3" cy="898.3" r="3.9"/><circle cx="862.6" cy="897.5" r="3.9"/><circle cx="865.9" cy="896.6" r="3.9"/><circle cx="869.2" cy="895.6" r="3.9"/><circle cx="872.5" cy="894.5" r="3.9"/><circle cx="875.8" cy="893.4" r="3.9"/><circle cx="879.1" cy="892.1" r="3.9"/><circle cx="882.4" cy="890.8" r="3.9"/><circle cx="885.7" cy="889.3" r="3.9"/><circle cx="889.0" cy="887.8" r="3.9"/><circle cx="892.3" cy="886.2" r="3.9"/><circle cx="895.6" cy="884.4" r="3.9"/><circle cx="898.9" cy="882.3" r="3.9"/><circle cx="902.2" cy="880.0" r="3.9"/><circle cx="905.5" cy="877.4" r="3.9"/><circle cx="908.7" cy="874.6" r="3.9"/><circle cx="912.0" cy="871.6" r="3.9"/><circle cx="915.3" cy="868.3" r="3.9"/><circle cx="918.6" cy="865.1" r="3.9"/><circle cx="921.9" cy="861.9" r="3.9"/><circle cx="925.2" cy="858.8" r="3.9"/><circle cx="928.5" cy="855.6" r="3.9"/><circle cx="931.8" cy="852.5" r="3.9"/><circle cx="935.1" cy="849.4" r="3.9"/><circle cx="938.4" cy="846.4" r="3.9"/><circle cx="941.7" cy="843.4" r="3.9"/><circle cx="945.0" cy="840.4" r="3.9"/><circle cx="948.3" cy="837.4" r="3.9"/></g>
<path d="M618.0,1138.0V1214.2M621.4,1140.0V1217.3M624.7,1145.1V1223.0M628.1,1153.7V1226.6M631.4,1162.7V1229.1M634.8,1168.1V1231.4M638.1,1172.2V1233.6M641.5,1177.0V1235.8M644.8,1183.1V1237.7M648.2,1186.5V1239.6M651.5,1188.6V1241.7M654.9,1190.4V1243.9M658.2,1192.2V1246.1M661.6,1194.6V1248.3M664.9,1197.2V1250.6M668.3,1200.1V1253.1M671.6,1203.6V1255.8M675.0,1210.6V1261.7M678.3,1221.3V1269.3M681.7,1227.7V1271.3M685.0,1230.1V1272.0M688.4,1231.5V1272.6M691.7,1232.6V1273.0M695.1,1233.5V1273.2M698.4,1234.4V1273.4M701.8,1235.2V1273.5M705.1,1235.8V1273.3M708.5,1236.2V1272.9M711.8,1236.3V1272.0M715.2,1235.9V1270.3M718.5,1235.4V1268.2M721.9,1234.9V1266.4M725.2,1234.8V1265.0M728.6,1234.9V1264.3M731.9,1235.4V1264.0M735.3,1236.0V1264.0M738.6,1236.8V1264.2M742.0,1237.6V1264.4M745.3,1238.3V1264.7M748.7,1239.1V1265.0M752.0,1239.8V1265.2M755.4,1240.4V1265.5M758.7,1240.8V1265.6M762.1,1240.9V1265.5M765.4,1240.6V1265.3M768.8,1240.0V1265.0M772.1,1239.0V1264.6M775.5,1237.8V1263.9M778.8,1236.7V1263.2M782.2,1235.7V1262.2M785.5,1234.3V1260.8M788.9,1232.8V1259.1M792.2,1231.7V1257.7M795.6,1231.1V1256.7M798.9,1230.8V1256.0M802.3,1230.8V1255.5M805.6,1230.9V1255.1M809.0,1231.1V1254.8M812.3,1231.3V1254.5M815.7,1231.5V1254.2M819.0,1231.8V1253.9M822.4,1232.0V1253.5M825.7,1232.1V1253.2M829.1,1232.2V1252.8M832.4,1232.2V1252.3M835.8,1232.1V1251.8M839.1,1231.9V1251.3M842.5,1231.6V1250.7M845.8,1231.3V1250.1M849.2,1230.9V1249.4M852.5,1230.4V1248.6M855.9,1229.8V1247.8M859.2,1229.0V1246.8M862.6,1228.3V1245.7M865.9,1227.4V1244.4M869.3,1226.5V1243.1M872.6,1225.6V1241.6M876.0,1224.6V1240.0M879.3,1223.5V1238.4M882.7,1222.4V1236.8M886.0,1221.2V1235.0M889.4,1219.9V1233.2M892.7,1218.5V1231.4M896.1,1216.9V1229.4M899.4,1215.2V1227.0M902.8,1213.3V1224.0M906.1,1211.2V1220.9M909.5,1209.0V1217.9M912.8,1206.6V1214.9M916.2,1204.1V1211.8M919.5,1201.6V1208.7M922.9,1199.0V1205.6M926.2,1196.5V1202.7M929.6,1194.1V1199.8M932.9,1191.7V1196.9M936.3,1189.2V1194.1M939.6,1186.6V1191.3M943.0,1184.1V1188.6M946.3,1181.5V1185.8M949.7,1179.0V1183.0" stroke="#c4c4c4" stroke-width="0.75" fill="none"/>
<path d="M616.7,1138.0h2.6M616.7,1214.2h2.6M620.1,1140.0h2.6M620.1,1217.3h2.6M623.4,1145.1h2.6M623.4,1223.0h2.6M626.8,1153.7h2.6M626.8,1226.6h2.6M630.1,1162.7h2.6M630.1,1229.1h2.6M633.5,1168.1h2.6M633.5,1231.4h2.6M636.8,1172.2h2.6M636.8,1233.6h2.6M640.2,1177.0h2.6M640.2,1235.8h2.6M643.5,1183.1h2.6M643.5,1237.7h2.6M646.9,1186.5h2.6M646.9,1239.6h2.6M650.2,1188.6h2.6M650.2,1241.7h2.6M653.6,1190.4h2.6M653.6,1243.9h2.6M656.9,1192.2h2.6M656.9,1246.1h2.6M660.3,1194.6h2.6M660.3,1248.3h2.6M663.6,1197.2h2.6M663.6,1250.6h2.6M667.0,1200.1h2.6M667.0,1253.1h2.6M670.3,1203.6h2.6M670.3,1255.8h2.6M673.7,1210.6h2.6M673.7,1261.7h2.6M677.0,1221.3h2.6M677.0,1269.3h2.6M680.4,1227.7h2.6M680.4,1271.3h2.6M683.7,1230.1h2.6M683.7,1272.0h2.6M687.1,1231.5h2.6M687.1,1272.6h2.6M690.4,1232.6h2.6M690.4,1273.0h2.6M693.8,1233.5h2.6M693.8,1273.2h2.6M697.1,1234.4h2.6M697.1,1273.4h2.6M700.5,1235.2h2.6M700.5,1273.5h2.6M703.8,1235.8h2.6M703.8,1273.3h2.6M707.2,1236.2h2.6M707.2,1272.9h2.6M710.5,1236.3h2.6M710.5,1272.0h2.6M713.9,1235.9h2.6M713.9,1270.3h2.6M717.2,1235.4h2.6M717.2,1268.2h2.6M720.6,1234.9h2.6M720.6,1266.4h2.6M723.9,1234.8h2.6M723.9,1265.0h2.6M727.3,1234.9h2.6M727.3,1264.3h2.6M730.6,1235.4h2.6M730.6,1264.0h2.6M734.0,1236.0h2.6M734.0,1264.0h2.6M737.3,1236.8h2.6M737.3,1264.2h2.6M740.7,1237.6h2.6M740.7,1264.4h2.6M744.0,1238.3h2.6M744.0,1264.7h2.6M747.4,1239.1h2.6M747.4,1265.0h2.6M750.7,1239.8h2.6M750.7,1265.2h2.6M754.1,1240.4h2.6M754.1,1265.5h2.6M757.4,1240.8h2.6M757.4,1265.6h2.6M760.8,1240.9h2.6M760.8,1265.5h2.6M764.1,1240.6h2.6M764.1,1265.3h2.6M767.5,1240.0h2.6M767.5,1265.0h2.6M770.8,1239.0h2.6M770.8,1264.6h2.6M774.2,1237.8h2.6M774.2,1263.9h2.6M777.5,1236.7h2.6M777.5,1263.2h2.6M780.9,1235.7h2.6M780.9,1262.2h2.6M784.2,1234.3h2.6M784.2,1260.8h2.6M787.6,1232.8h2.6M787.6,1259.1h2.6M790.9,1231.7h2.6M790.9,1257.7h2.6M794.3,1231.1h2.6M794.3,1256.7h2.6M797.6,1230.8h2.6M797.6,1256.0h2.6M801.0,1230.8h2.6M801.0,1255.5h2.6M804.3,1230.9h2.6M804.3,1255.1h2.6M807.7,1231.1h2.6M807.7,1254.8h2.6M811.0,1231.3h2.6M811.0,1254.5h2.6M814.4,1231.5h2.6M814.4,1254.2h2.6M817.7,1231.8h2.6M817.7,1253.9h2.6M821.1,1232.0h2.6M821.1,1253.5h2.6M824.4,1232.1h2.6M824.4,1253.2h2.6M827.8,1232.2h2.6M827.8,1252.8h2.6M831.1,1232.2h2.6M831.1,1252.3h2.6M834.5,1232.1h2.6M834.5,1251.8h2.6M837.8,1231.9h2.6M837.8,1251.3h2.6M841.2,1231.6h2.6M841.2,1250.7h2.6M844.5,1231.3h2.6M844.5,1250.1h2.6M847.9,1230.9h2.6M847.9,1249.4h2.6M851.2,1230.4h2.6M851.2,1248.6h2.6M854.6,1229.8h2.6M854.6,1247.8h2.6M857.9,1229.0h2.6M857.9,1246.8h2.6M861.3,1228.3h2.6M861.3,1245.7h2.6M864.6,1227.4h2.6M864.6,1244.4h2.6M868.0,1226.5h2.6M868.0,1243.1h2.6M871.3,1225.6h2.6M871.3,1241.6h2.6M874.7,1224.6h2.6M874.7,1240.0h2.6M878.0,1223.5h2.6M878.0,1238.4h2.6M881.4,1222.4h2.6M881.4,1236.8h2.6M884.7,1221.2h2.6M884.7,1235.0h2.6M888.1,1219.9h2.6M888.1,1233.2h2.6M891.4,1218.5h2.6M891.4,1231.4h2.6M894.8,1216.9h2.6M894.8,1229.4h2.6M898.1,1215.2h2.6M898.1,1227.0h2.6M901.5,1213.3h2.6M901.5,1224.0h2.6M904.8,1211.2h2.6M904.8,1220.9h2.6M908.2,1209.0h2.6M908.2,1217.9h2.6M911.5,1206.6h2.6M911.5,1214.9h2.6M914.9,1204.1h2.6M914.9,1211.8h2.6M918.2,1201.6h2.6M918.2,1208.7h2.6M921.6,1199.0h2.6M921.6,1205.6h2.6M924.9,1196.5h2.6M924.9,1202.7h2.6M928.3,1194.1h2.6M928.3,1199.8h2.6M931.6,1191.7h2.6M931.6,1196.9h2.6M935.0,1189.2h2.6M935.0,1194.1h2.6M938.3,1186.6h2.6M938.3,1191.3h2.6M941.7,1184.1h2.6M941.7,1188.6h2.6M945.0,1181.5h2.6M945.0,1185.8h2.6M948.4,1179.0h2.6M948.4,1183.0h2.6" stroke="#8a8f98" stroke-width="1.1" fill="none"/>
<path d="M618,1138C618.8,1138.6 621.2,1139.4 622.7,1141.4C624.2,1143.4 625.1,1146.2 626.7,1150C628.3,1153.8 629.9,1160 632.1,1164.1C634.3,1168.2 637.7,1171.2 640.1,1174.8C642.5,1178.3 643.5,1182.3 646.8,1185.4C650.1,1188.5 655.9,1190.4 660.1,1193.5C664.3,1196.6 669.4,1200.7 672.1,1204.2C674.8,1207.8 674.9,1211.2 676.2,1214.8C677.6,1218.3 678.4,1222.8 680.2,1225.5C682,1228.2 682.1,1229.1 686.8,1230.9C691.5,1232.7 701.3,1235.5 708.2,1236.2C715.1,1236.9 719.6,1234.1 728.3,1234.9C737,1235.7 751.6,1240.7 760.3,1240.9C769,1241.1 774.2,1237.9 780.4,1236.2C786.6,1234.5 788.6,1231.6 797.4,1230.9C806.2,1230.2 822.5,1232.7 833.4,1232.2C844.3,1231.8 852.1,1230.9 862.8,1228.2C873.5,1225.5 886.9,1221.6 897.6,1216.2C908.3,1210.8 918.3,1202.2 927,1196C935.7,1189.8 945.9,1181.8 949.7,1179" fill="none" stroke="#9aa0a8" stroke-width="1.0" stroke-linejoin="round" stroke-linecap="round"/>
<path d="M618,1214.2C618.8,1215 621.2,1216.9 622.7,1218.8C624.2,1220.7 623.8,1222.8 626.7,1225.5C629.6,1228.2 635.7,1232 640.1,1234.9C644.5,1237.8 648.1,1239.3 653.4,1242.9C658.7,1246.5 668.3,1252.5 672.1,1256.3C675.9,1260.1 674.4,1263 676.2,1265.6C678,1268.1 677.5,1270.4 682.8,1271.6C688.1,1272.8 700.6,1274.2 708.2,1273C715.8,1271.8 719.6,1265.5 728.3,1264.3C737,1263.1 751.7,1265.8 760.3,1265.6C768.9,1265.4 773.8,1264.5 780,1262.9C786.2,1261.4 788.5,1258.1 797.4,1256.3C806.3,1254.5 822.5,1254 833.4,1252.2C844.3,1250.4 852.8,1249.1 862.8,1245.6C872.8,1242 886.2,1235.1 893.6,1230.9C901,1226.7 901.3,1225 906.9,1220.2C912.5,1215.4 919.9,1208.2 927,1202C934.1,1195.8 945.9,1186.2 949.7,1183" fill="none" stroke="#9aa0a8" stroke-width="1.0" stroke-linejoin="round" stroke-linecap="round"/>
<g fill="#f20000"><circle cx="618.0" cy="1175.4" r="3.6"/><circle cx="621.4" cy="1178.5" r="3.6"/><circle cx="624.7" cy="1183.0" r="3.6"/><circle cx="628.1" cy="1190.0" r="3.6"/><circle cx="631.4" cy="1196.8" r="3.6"/><circle cx="634.8" cy="1202.9" r="3.6"/><circle cx="638.1" cy="1206.4" r="3.6"/><circle cx="641.5" cy="1209.3" r="3.6"/><circle cx="644.8" cy="1212.0" r="3.6"/><circle cx="648.2" cy="1214.4" r="3.6"/><circle cx="651.5" cy="1216.5" r="3.6"/><circle cx="654.9" cy="1218.4" r="3.6"/><circle cx="658.2" cy="1220.3" r="3.6"/><circle cx="661.6" cy="1222.5" r="3.6"/><circle cx="664.9" cy="1224.8" r="3.6"/><circle cx="668.3" cy="1227.2" r="3.6"/><circle cx="671.6" cy="1229.8" r="3.6"/><circle cx="675.0" cy="1233.3" r="3.6"/><circle cx="678.3" cy="1244.9" r="3.6"/><circle cx="681.7" cy="1248.3" r="3.6"/><circle cx="685.0" cy="1250.2" r="3.6"/><circle cx="688.4" cy="1251.4" r="3.6"/><circle cx="691.7" cy="1252.2" r="3.6"/><circle cx="695.1" cy="1252.8" r="3.6"/><circle cx="698.4" cy="1253.3" r="3.6"/><circle cx="701.8" cy="1253.9" r="3.6"/><circle cx="705.1" cy="1254.5" r="3.6"/><circle cx="708.5" cy="1254.9" r="3.6"/><circle cx="711.8" cy="1254.7" r="3.6"/><circle cx="715.2" cy="1254.1" r="3.6"/><circle cx="718.5" cy="1253.3" r="3.6"/><circle cx="721.9" cy="1252.3" r="3.6"/><circle cx="725.2" cy="1250.8" r="3.6"/><circle cx="728.6" cy="1250.2" r="3.6"/><circle cx="731.9" cy="1250.8" r="3.6"/><circle cx="735.3" cy="1251.8" r="3.6"/><circle cx="738.6" cy="1252.6" r="3.6"/><circle cx="742.0" cy="1253.1" r="3.6"/><circle cx="745.3" cy="1253.6" r="3.6"/><circle cx="748.7" cy="1253.9" r="3.6"/><circle cx="752.0" cy="1254.2" r="3.6"/><circle cx="755.4" cy="1254.4" r="3.6"/><circle cx="758.7" cy="1254.4" r="3.6"/><circle cx="762.1" cy="1254.1" r="3.6"/><circle cx="765.4" cy="1253.6" r="3.6"/><circle cx="768.8" cy="1252.8" r="3.6"/><circle cx="772.1" cy="1252.0" r="3.6"/><circle cx="775.5" cy="1251.0" r="3.6"/><circle cx="778.8" cy="1250.1" r="3.6"/><circle cx="782.2" cy="1249.0" r="3.6"/><circle cx="785.5" cy="1247.8" r="3.6"/><circle cx="788.9" cy="1246.4" r="3.6"/><circle cx="792.2" cy="1245.0" r="3.6"/><circle cx="795.6" cy="1244.0" r="3.6"/><circle cx="798.9" cy="1243.4" r="3.6"/><circle cx="802.3" cy="1243.5" r="3.6"/><circle cx="805.6" cy="1243.9" r="3.6"/><circle cx="809.0" cy="1244.2" r="3.6"/><circle cx="812.3" cy="1244.3" r="3.6"/><circle cx="815.7" cy="1244.0" r="3.6"/><circle cx="819.0" cy="1243.6" r="3.6"/><circle cx="822.4" cy="1243.1" r="3.6"/><circle cx="825.7" cy="1242.6" r="3.6"/><circle cx="829.1" cy="1242.0" r="3.6"/><circle cx="832.4" cy="1241.5" r="3.6"/><circle cx="835.8" cy="1240.9" r="3.6"/><circle cx="839.1" cy="1240.4" r="3.6"/><circle cx="842.5" cy="1239.8" r="3.6"/><circle cx="845.8" cy="1239.4" r="3.6"/><circle cx="849.2" cy="1238.9" r="3.6"/><circle cx="852.5" cy="1238.4" r="3.6"/><circle cx="855.9" cy="1237.8" r="3.6"/><circle cx="859.2" cy="1237.1" r="3.6"/><circle cx="862.6" cy="1236.3" r="3.6"/><circle cx="865.9" cy="1235.3" r="3.6"/><circle cx="869.3" cy="1234.1" r="3.6"/><circle cx="872.6" cy="1233.0" r="3.6"/><circle cx="876.0" cy="1231.7" r="3.6"/><circle cx="879.3" cy="1230.3" r="3.6"/><circle cx="882.7" cy="1228.9" r="3.6"/><circle cx="886.0" cy="1227.3" r="3.6"/><circle cx="889.4" cy="1225.7" r="3.6"/><circle cx="892.7" cy="1223.9" r="3.6"/><circle cx="896.1" cy="1221.9" r="3.6"/><circle cx="899.4" cy="1219.8" r="3.6"/><circle cx="902.8" cy="1217.6" r="3.6"/><circle cx="906.1" cy="1215.3" r="3.6"/><circle cx="909.5" cy="1212.9" r="3.6"/><circle cx="912.8" cy="1210.3" r="3.6"/><circle cx="916.2" cy="1207.6" r="3.6"/><circle cx="919.5" cy="1204.9" r="3.6"/><circle cx="922.9" cy="1202.1" r="3.6"/><circle cx="926.2" cy="1199.4" r="3.6"/><circle cx="929.6" cy="1196.7" r="3.6"/><circle cx="932.9" cy="1194.1" r="3.6"/><circle cx="936.3" cy="1191.4" r="3.6"/><circle cx="939.6" cy="1188.8" r="3.6"/><circle cx="943.0" cy="1186.1" r="3.6"/><circle cx="946.3" cy="1183.5" r="3.6"/><circle cx="949.7" cy="1180.8" r="3.6"/></g>
<path d="M125.9,156.5C128.6,156.7 136.6,157.1 142,157.4C147.3,157.7 152.7,158 158.1,158.3C163.4,158.6 168.8,158.8 174.1,159.1C179.5,159.4 184.9,159.6 190.2,159.9C195.6,160.1 200.9,160.4 206.3,160.6C211.7,160.8 217,161 222.4,161.1C227.7,161.3 235.8,161.4 238.5,161.4" fill="none" stroke="#c2185b" stroke-width="1.5" stroke-linejoin="round" stroke-linecap="round"/>
<path d="M125.9,160.6C128,160.5 134.5,160 138.7,160C143,160 147.3,160.4 151.6,160.8C155.8,161.2 160.1,162 164.4,162.5C168.7,162.9 172.9,163.4 177.2,163.5C181.5,163.6 185.8,163.4 190,163.1C194.3,162.9 198.6,162.3 202.9,162C207.1,161.7 213.6,161.5 215.7,161.4" fill="none" stroke="#e8552a" stroke-width="1.5" stroke-linejoin="round" stroke-linecap="round"/>
<path d="M125.9,158.4C128,158.8 134.1,159.8 138.2,160.3C142.3,160.8 146.4,161.1 150.5,161.2C154.6,161.4 158.7,161.4 162.8,161.4C166.9,161.4 171,161.3 175.1,161.2C179.2,161.2 183.3,161.1 187.4,161.2C191.5,161.2 195.6,161.2 199.7,161.3C203.8,161.3 210,161.4 212.1,161.4" fill="none" stroke="#3fbf6f" stroke-width="1.5" stroke-linejoin="round" stroke-linecap="round"/>
<path d="M125.9,147C129.6,146.6 140.8,145.1 148.2,145C155.6,145 163.1,145.6 170.5,146.5C177.9,147.5 185.4,149.2 192.8,150.7C200.2,152.2 207.7,154 215.1,155.3C222.5,156.6 230,157.8 237.4,158.6C244.8,159.4 252.3,159.9 259.7,160.4C267.1,160.9 278.3,161.2 282,161.4" fill="none" stroke="#27a59a" stroke-width="1.5" stroke-linejoin="round" stroke-linecap="round"/>
<path d="M125.9,200C127.8,199 133.5,196.2 137.3,194.1C141,191.9 144.8,189.5 148.6,187.1C152.4,184.6 156.2,181.8 160,179.4C163.7,176.9 167.5,174.4 171.3,172.3C175.1,170.3 178.9,168.4 182.7,166.9C186.4,165.4 190.2,164.2 194,163.3C197.8,162.4 203.5,161.7 205.4,161.4" fill="none" stroke="#a8a8a8" stroke-width="1.5" stroke-linejoin="round" stroke-linecap="round"/>
<path d="M125.9,125.2C128.6,126.3 136.5,129.9 141.8,132.1C147.1,134.3 152.5,136.4 157.8,138.4C163.1,140.4 168.4,142.3 173.7,144.1C179,145.9 184.3,147.6 189.6,149.3C195,150.9 200.3,152.5 205.6,153.9C210.9,155.4 216.2,156.9 221.5,158.1C226.8,159.4 234.8,160.9 237.4,161.4" fill="none" stroke="#12c0dc" stroke-width="1.5" stroke-linejoin="round" stroke-linecap="round"/>
<path d="M125.9,177.9C128.6,178 136.7,179 142,178.8C147.4,178.6 152.8,177.9 158.2,176.9C163.6,175.9 168.9,174.2 174.3,172.7C179.7,171.2 185.1,169.4 190.5,168C195.8,166.6 201.2,165.3 206.6,164.4C212,163.4 217.4,162.7+0.0j 222.7,162.2C228.1,161.7-0.0j 236.2,161.5-0.0j 238.9,161.4-0.0j" fill="none" stroke="#1c1c1c" stroke-width="1.5" stroke-linejoin="round" stroke-linecap="round"/>
<path d="M125.9,182.1C128.3,181.5 135.5,179.6 140.3,178.3C145.1,177 149.9,175.6 154.7,174.2C159.5,172.9 164.3,171.4 169.1,170.2C173.9,169 178.8,168 183.6,167.1C188.4,166.3 193.2,165.7 198,165.1C202.8,164.5 207.6,164.2 212.4,163.6C217.2,162.9 224.4,161.8 226.8,161.4" fill="none" stroke="#3fbf6f" stroke-width="1.5" stroke-linejoin="round" stroke-linecap="round"/>
<path d="M125.9,176.8C127.9,176.2 133.8,174.5 137.8,173.4C141.8,172.3 145.7,171.2 149.7,170.3C153.7,169.3 157.6,168.3 161.6,167.6C165.5,166.8 169.5,166.2 173.5,165.8C177.4,165.3 181.4,165.1 185.4,164.7C189.3,164.4 193.3,164.3 197.3,163.7C201.2,163.2 207.2,161.8 209.2,161.4" fill="none" stroke="#c2185b" stroke-width="1.5" stroke-linejoin="round" stroke-linecap="round"/>
<path d="M125.9,116.8C128.1,118.3 134.7,123.2 139,126.1C143.4,129.1 147.8,131.9 152.2,134.5C156.5,137.1 160.9,139.6 165.3,141.8C169.7,144.1 174.1,146.1 178.4,147.9C182.8,149.7 187.2,151.3 191.6,152.9C195.9,154.5 200.3,156 204.7,157.4C209.1,158.8 215.6,160.7 217.8,161.4" fill="none" stroke="#12c0dc" stroke-width="1.5" stroke-linejoin="round" stroke-linecap="round"/>
<path d="M125.9,184.9C128.8,183.8 137.5,180.4 143.4,178.6C149.2,176.8 155,175.3 160.8,174C166.6,172.7 172.5,171.8 178.3,170.8C184.1,169.9 189.9,169.1 195.7,168.3C201.6,167.4 207.4,166.6 213.2,165.7C219,164.9 224.8,163.9 230.7,163.2C236.5,162.4 245.2,161.7 248.1,161.4" fill="none" stroke="#4fc3f7" stroke-width="1.5" stroke-linejoin="round" stroke-linecap="round"/>
<path d="M125.9,135.2C129.6,135.2 140.8,134.6 148.2,135C155.6,135.4 163.1,136.4 170.5,137.7C177.9,139 185.3,141 192.8,142.7C200.2,144.5 207.6,146.6 215.1,148.3C222.5,150 229.9,151.6 237.4,153C244.8,154.5 252.2,155.6 259.7,157C267.1,158.4 278.2,160.7 281.9,161.4" fill="none" stroke="#4fc3f7" stroke-width="1.5" stroke-linejoin="round" stroke-linecap="round"/>
<path d="M125.9,162C128.6,161.8 136.7,160.8 142.1,160.3C147.5,159.9 153,159.6 158.4,159.4C163.8,159.2 169.2,159.2 174.6,159.3C180,159.3 185.4,159.6 190.8,159.8C196.2,160 201.6,160.3 207.1,160.5C212.5,160.8 217.9,161 223.3,161.2C228.7,161.3 236.8,161.4 239.5,161.4" fill="none" stroke="#1e7fd0" stroke-width="1.5" stroke-linejoin="round" stroke-linecap="round"/>
<path d="M125.9,169.2C128.5,169 136.4,168 141.6,167.7C146.8,167.5 152,167.6 157.3,167.7C162.5,167.8 167.7,168.3 172.9,168.4C178.2,168.4 183.4,168.5 188.6,168.1C193.8,167.7 199.1,166.9 204.3,166C209.5,165.2 214.7,164.0+0.0j 220,163.2C225.2,162.4-0.0j 233,161.7-0.0j 235.6,161.4-0.0j" fill="none" stroke="#e8552a" stroke-width="1.5" stroke-linejoin="round" stroke-linecap="round"/>
<path d="M125.9,201.5C129.7,201.1 141,200.3 148.6,199.2C156.2,198.1 163.7,196.7 171.3,195C178.9,193.3 186.4,191.2 194,189.1C201.6,186.9 209.1,184.4 216.7,182.1C224.3,179.7 231.8,177.3 239.4,174.9C247,172.6 254.6,170.3 262.1,168.1C269.7,165.8 281,162.5 284.8,161.4" fill="none" stroke="#1e7fd0" stroke-width="1.5" stroke-linejoin="round" stroke-linecap="round"/>
<path d="M125.9,189.6C127.7,188.5 133.3,185.1 137,183.1C140.7,181 144.4,179.1 148.1,177.3C151.8,175.6 155.5,174 159.2,172.6C162.9,171.2 166.6,170 170.3,169C174,167.9 177.7,167.1 181.4,166.3C185.1,165.4 188.8,164.7 192.5,163.9C196.2,163.1 201.7,161.8 203.6,161.4" fill="none" stroke="#e8552a" stroke-width="1.5" stroke-linejoin="round" stroke-linecap="round"/>
<path d="M125.9,196.3C128.4,195.2 136.1,191.4 141.2,189.5C146.3,187.5 151.4,186.1 156.4,184.8C161.5,183.6 166.6,182.9 171.7,181.8C176.8,180.7 181.9,179.7 187,178.3C192.1,176.9 197.2,175.2 202.3,173.4C207.4,171.5 212.5,169.3 217.5,167.3C222.6,165.3 230.3,162.4 232.8,161.4" fill="none" stroke="#9db89d" stroke-width="1.5" stroke-linejoin="round" stroke-linecap="round"/>
<path d="M125.9,164.2C128.4,164.1 136,164 141,163.9C146,163.8 151.1,163.6 156.1,163.3C161.1,163.1 166.2,162.8 171.2,162.6C176.2,162.3 181.3,162.1 186.3,161.9C191.3,161.7 196.4,161.6 201.4,161.6C206.4,161.5 211.5,161.5 216.5,161.4C221.5,161.4 229.1,161.4 231.6,161.4" fill="none" stroke="#3fbf6f" stroke-width="1.5" stroke-linejoin="round" stroke-linecap="round"/>
<path d="M125.9,188.9C128,188 134.4,185 138.7,183.4C143,181.7 147.2,180.3 151.5,178.9C155.8,177.5 160,176.3 164.3,175.1C168.6,173.8 172.9,172.5 177.1,171.2C181.4,169.9 185.7,168.4 189.9,167C194.2,165.7 198.5,164.3 202.7,163.3C207,162.4 213.4,161.7 215.5,161.4" fill="none" stroke="#c2185b" stroke-width="1.5" stroke-linejoin="round" stroke-linecap="round"/>
<path d="M125.9,149.6C128,150 134.2,151.2 138.4,152C142.6,152.8 146.8,153.7 150.9,154.4C155.1,155.2 159.3,156.1 163.4,156.7C167.6,157.4 171.8,158.1 175.9,158.6C180.1,159.1 184.3,159.4 188.5,159.8C192.6,160.1 196.8,160.3-0.0j 201,160.6C205.1,160.9+0.0j 211.4,161.3+0.0j 213.5,161.4+0.0j" fill="none" stroke="#f08a80" stroke-width="1.5" stroke-linejoin="round" stroke-linecap="round"/>
<path d="M125.9,166.4C128.9,166.3 137.8,166.3 143.8,166C149.8,165.6 155.8,164.9 161.7,164.2C167.7,163.5 173.7,162.5 179.6,161.8C185.6,161.2 191.6,160.6 197.6,160.3C203.5,160.1 209.5,160.3 215.5,160.5C221.4,160.7 227.4,161.3 233.4,161.5C239.4,161.6 248.3,161.4 251.3,161.4" fill="none" stroke="#1c1c1c" stroke-width="1.5" stroke-linejoin="round" stroke-linecap="round"/>
<path d="M125.9,168.6C129.2,168.8 138.9,169.4 145.5,169.5C152,169.7 158.5,169.6 165,169.5C171.6,169.3 178.1,168.9 184.6,168.4C191.1,167.9 197.7,167.2 204.2,166.5C210.7,165.9 217.2,165.1 223.7,164.4C230.3,163.8 236.8,163.1 243.3,162.6C249.8,162 259.6,161.6 262.9,161.4" fill="none" stroke="#27a59a" stroke-width="1.5" stroke-linejoin="round" stroke-linecap="round"/>
<path d="M125.9,139.6C128,139.8 134.4,140.6 138.6,141.2C142.9,141.8 147.1,142.5 151.3,143.3C155.6,144 159.8,144.9 164,145.9C168.3,146.9 172.5,148 176.8,149.1C181,150.3 185.2,151.6 189.5,152.9C193.7,154.2 198,155.6+0.0j 202.2,157C206.4,158.4-0.0j 212.8,160.7-0.0j 214.9,161.4-0.0j" fill="none" stroke="#12c0dc" stroke-width="1.5" stroke-linejoin="round" stroke-linecap="round"/>
<path d="M125.9,115.9C128.2,116.3 135.2,117.1 139.9,118.4C144.6,119.6 149.2,121.3 153.9,123.4C158.5,125.4 163.2,128 167.9,130.6C172.5,133.2 177.2,136.1 181.9,138.8C186.5,141.5 191.2,144.2 195.8,146.8C200.5,149.4 205.2,151.8 209.8,154.2C214.5,156.6 221.5,160.2 223.8,161.4" fill="none" stroke="#8b4a3a" stroke-width="1.5" stroke-linejoin="round" stroke-linecap="round"/>
<path d="M125.9,198.9C128.2,198.5 135,197.6 139.5,196.3C144,194.9 148.6,193.1 153.1,191C157.7,188.9 162.2,186.2 166.7,183.8C171.3,181.4 175.8,178.7 180.3,176.6C184.9,174.4 189.4,172.5 194,170.8C198.5,169 203,167.6 207.6,166.1C212.1,164.5 218.9,162.2 221.2,161.4" fill="none" stroke="#12c0dc" stroke-width="1.5" stroke-linejoin="round" stroke-linecap="round"/>
<path d="M125.9,119.2C128.4,121 135.9,126.9 140.9,130.2C145.9,133.5 150.9,136.4 155.9,139C160.9,141.6 165.9,143.6 170.8,145.6C175.8,147.6 180.8,149.3 185.8,151C190.8,152.7 195.8,154.2 200.8,155.6C205.8,157 210.8,158.5-0.0j 215.8,159.4C220.8,160.4+0.0j 228.3,161.1+0.0j 230.8,161.4+0.0j" fill="none" stroke="#1e7fd0" stroke-width="1.5" stroke-linejoin="round" stroke-linecap="round"/>
<path d="M125.9,115.1C128.9,116.1 137.7,118.9 143.6,121C149.6,123.2 155.5,125.6 161.4,128.1C167.3,130.6 173.2,133.4 179.1,136C185.1,138.6 191,141.4 196.9,143.8C202.8,146.3 208.7,148.7 214.6,150.8C220.6,153 226.5,155 232.4,156.8C238.3,158.6 247.2,160.6 250.1,161.4" fill="none" stroke="#4fc3f7" stroke-width="1.5" stroke-linejoin="round" stroke-linecap="round"/>
<path d="M125.9,148.9C127.7,149.2 133.1,150.3 136.7,151.1C140.4,151.9 144,152.9 147.6,153.7C151.2,154.6 154.8,155.6 158.4,156.4C162,157.1 165.7,157.9 169.3,158.4C172.9,159 176.5,159.4 180.1,159.7C183.7,160.1 187.3,160.2 191,160.5C194.6,160.8 200,161.3 201.8,161.4" fill="none" stroke="#12c0dc" stroke-width="1.5" stroke-linejoin="round" stroke-linecap="round"/>
<path d="M125.9,157.8C127.8,158.5 133.6,160.9 137.4,161.9C141.2,162.9 145.1,163.4 148.9,163.7C152.7,163.9 156.6,163.6 160.4,163.4C164.2,163.1 168.1,162.6 171.9,162.3C175.7,161.9 179.6,161.6 183.4,161.5C187.2,161.3 191.1,161.3 194.9,161.3C198.7,161.3 204.5,161.4 206.4,161.4" fill="none" stroke="#1e7fd0" stroke-width="1.5" stroke-linejoin="round" stroke-linecap="round"/>
<path d="M125.9,116.2C129.3,117.9 139.4,123.4 146.1,126.4C152.9,129.3 159.6,131.7 166.3,133.8C173.1,135.9 179.8,137.3 186.6,139C193.3,140.7 200,142 206.8,143.8C213.5,145.5 220.3,147.4 227,149.4C233.7,151.4 240.5,153.7 247.2,155.7C253.9,157.7 264.1,160.4 267.4,161.4" fill="none" stroke="#223a8c" stroke-width="1.5" stroke-linejoin="round" stroke-linecap="round"/>
<path d="M125.9,200.5C129.6,199.1 140.6,194.9 148,192.3C155.3,189.6 162.7,187 170,184.7C177.4,182.3 184.7,180 192.1,177.9C199.4,175.9 206.8,174.1 214.1,172.4C221.5,170.8 228.8,169.5 236.2,168.2C243.5,166.9 250.9,165.7 258.2,164.6C265.6,163.5 276.6,161.9 280.3,161.4" fill="none" stroke="#3fbf6f" stroke-width="1.5" stroke-linejoin="round" stroke-linecap="round"/>
<path d="M125.9,151.7C128.8,152.5 137.7,155.3 143.6,156.4C149.4,157.5 155.3,157.9 161.2,158.1C167.1,158.3 173,157.8 178.9,157.5C184.8,157.3 190.7,156.8 196.5,156.8C202.4,156.8 208.3,157 214.2,157.4C220.1,157.8 226,158.6+0.0j 231.9,159.3C237.8,159.9-0.0j 246.6,161.0-0.0j 249.5,161.4-0.0j" fill="none" stroke="#223a8c" stroke-width="1.5" stroke-linejoin="round" stroke-linecap="round"/>
<path d="M125.9,168.9C129.1,168.7 138.9,167.9 145.3,167.5C151.8,167.1 158.3,166.7 164.8,166.4C171.2,166 177.7,165.7 184.2,165.3C190.7,165 197.1,164.6 203.6,164.3C210.1,163.9 216.6,163.5 223,163.1C229.5,162.7 236,162.3 242.5,162C248.9,161.7 258.7,161.5 261.9,161.4" fill="none" stroke="#8e3fb0" stroke-width="1.5" stroke-linejoin="round" stroke-linecap="round"/>
<path d="M125.9,136.1C127.8,136.7 133.6,138.4 137.5,139.6C141.4,140.7 145.2,141.8 149.1,142.9C153,144 156.8,145.1 160.7,146.2C164.6,147.3 168.4,148.4 172.3,149.5C176.2,150.5 180,151.6 183.9,152.8C187.8,153.9 191.7,155 195.5,156.4C199.4,157.9 205.2,160.6 207.1,161.4" fill="none" stroke="#1c1c1c" stroke-width="1.5" stroke-linejoin="round" stroke-linecap="round"/>
<path d="M125.9,192.7C129.6,191.8 140.7,189.1 148.1,187.3C155.5,185.5 162.9,183.7 170.3,182C177.7,180.2 185.1,178.4 192.5,176.7C199.9,175 207.3,173.3 214.7,171.7C222.1,170.1 229.6,168.6 237,167.2C244.4,165.8 251.8,164.5 259.2,163.5C266.6,162.5 277.7,161.8 281.4,161.4" fill="none" stroke="#4fc3f7" stroke-width="1.5" stroke-linejoin="round" stroke-linecap="round"/>
<path d="M125.9,189.9C128.4,189.3 135.9,187.7 141,186.3C146,184.9 151,183.2 156,181.5C161,179.8 166,177.7 171.1,175.9C176.1,174.1 181.1,172.2 186.1,170.7C191.1,169.1 196.2,167.7 201.2,166.5C206.2,165.3 211.2,164.4 216.2,163.5C221.2,162.6 228.8,161.7 231.3,161.4" fill="none" stroke="#a8a8a8" stroke-width="1.5" stroke-linejoin="round" stroke-linecap="round"/>
<path d="M125.9,164.9C129,164.8 138.3,164.5 144.5,164.2C150.7,163.9 156.9,163.5 163.1,163.1C169.3,162.8 175.5,162.2 181.7,161.9C187.9,161.6 194.1,161.3 200.3,161.1C206.5,161 212.7,161 218.9,161C225.1,161 231.3,161.2 237.5,161.3C243.7,161.3 253,161.4 256.1,161.4" fill="none" stroke="#c2185b" stroke-width="1.5" stroke-linejoin="round" stroke-linecap="round"/>
<path d="M125.9,129.8C128.9,130.3 138.1,131.5 144.2,132.8C150.3,134.1 156.4,135.8 162.5,137.7C168.6,139.6 174.7,141.9 180.8,144.1C186.9,146.2 193,148.5 199,150.5C205.1,152.4 211.2,154.2 217.3,155.7C223.4,157.2 229.5,158.4 235.6,159.4C241.7,160.3 250.9,161.1 253.9,161.4" fill="none" stroke="#1c1c1c" stroke-width="1.5" stroke-linejoin="round" stroke-linecap="round"/>
<path d="M125.9,174.7C128.8,174.7 137.7,175.1 143.6,174.8C149.5,174.5 155.3,173.9 161.2,173.1C167.1,172.3 173,171.1 178.9,170C184.8,169 190.7,167.9 196.6,167C202.5,166.1 208.3,165.5 214.2,164.8C220.1,164.2 226,163.9 231.9,163.3C237.8,162.8 246.6,161.7 249.6,161.4" fill="none" stroke="#4fc3f7" stroke-width="1.5" stroke-linejoin="round" stroke-linecap="round"/>
<path d="M125.9,111.8C129.1,112.7 138.7,115.1 145.1,117C151.5,118.9 157.9,121.1 164.3,123.3C170.8,125.6 177.2,128.2 183.6,130.7C190,133.3 196.4,136 202.8,138.7C209.2,141.3 215.6,144.1 222,146.7C228.4,149.3 234.8,151.9 241.2,154.4C247.6,156.8 257.2,160.2 260.5,161.4" fill="none" stroke="#1c1c1c" stroke-width="1.5" stroke-linejoin="round" stroke-linecap="round"/>
<path d="M125.9,126.6C129.5,127.7 140.5,131.1 147.7,133.1C155,135.1 162.3,136.9 169.6,138.6C176.8,140.2 184.1,141.6 191.4,143.2C198.7,144.7 205.9,146.1 213.2,147.6C220.5,149.1 227.8,150.7 235,152.3C242.3,153.9 249.6,155.7 256.9,157.2C264.1,158.7 275,160.7 278.7,161.4" fill="none" stroke="#8b4a3a" stroke-width="1.5" stroke-linejoin="round" stroke-linecap="round"/>
<path d="M125.9,126.8C128.3,127.9 135.6,131.4 140.4,133.4C145.2,135.4 150,137.2 154.9,138.8C159.7,140.4 164.5,141.7 169.3,143.1C174.2,144.5 179,145.8 183.8,147.2C188.6,148.6 193.5,150.2 198.3,151.7C203.1,153.3 207.9,155 212.8,156.6C217.6,158.2 224.8,160.6 227.2,161.4" fill="none" stroke="#1c1c1c" stroke-width="1.5" stroke-linejoin="round" stroke-linecap="round"/>
<path d="M125.9,175.3C128.8,174.1 137.6,169.8 143.4,168C149.3,166.1 155.1,164.9 160.9,164.1C166.8,163.3 172.6,163.3 178.4,163.1C184.3,163 190.1,163.3 196,163.3C201.8,163.3 207.6,163.2 213.5,163.1C219.3,162.9 225.1,162.5 231,162.2C236.8,161.9 245.6,161.5 248.5,161.4" fill="none" stroke="#8b4a3a" stroke-width="1.5" stroke-linejoin="round" stroke-linecap="round"/>
<path d="M125.9,133.9C128,135.1 134.5,139 138.8,141C143.1,143 147.4,144.5 151.7,145.8C156,147 160.3,147.8 164.6,148.6C168.9,149.5 173.2,150 177.5,150.9C181.8,151.8 186.1,152.8 190.4,153.9C194.7,155 199,156.3 203.3,157.5C207.5,158.8 214,160.8 216.1,161.4" fill="none" stroke="#1e7fd0" stroke-width="1.5" stroke-linejoin="round" stroke-linecap="round"/>
<path d="M125.9,155.2C129.2,154.9 139,153.8 145.5,153.7C152.1,153.5 158.6,153.7 165.1,154.2C171.7,154.6 178.2,155.5 184.8,156.3C191.3,157 197.8,158 204.4,158.6C210.9,159.3 217.4,159.8 224,160.2C230.5,160.6 237.1,160.8 243.6,161C250.1,161.2 260,161.3 263.2,161.4" fill="none" stroke="#9db89d" stroke-width="1.5" stroke-linejoin="round" stroke-linecap="round"/>
<path d="M125.9,155.8C129.2,156 139,156.5 145.6,156.9C152.2,157.4 158.7,157.9 165.3,158.3C171.9,158.8 178.4,159.4 185,159.8C191.6,160.2 198.1,160.6 204.7,160.8C211.3,161 217.8,161.1 224.4,161.1C230.9,161.2 237.5,161.1 244.1,161.2C250.6,161.2 260.5,161.4 263.8,161.4" fill="none" stroke="#4fc3f7" stroke-width="1.5" stroke-linejoin="round" stroke-linecap="round"/>
<path d="M125.9,178C129.5,177.6 140.2,176.5 147.4,175.6C154.5,174.7 161.7,173.6 168.9,172.5C176,171.4 183.2,170.1 190.4,169.1C197.5,168 204.7,167 211.8,166.1C219,165.3 226.2,164.7 233.3,164.2C240.5,163.6 247.6,163.2 254.8,162.8C262,162.3 272.7,161.6 276.3,161.4" fill="none" stroke="#4fc3f7" stroke-width="1.5" stroke-linejoin="round" stroke-linecap="round"/>
<path d="M125.9,175C129.3,174.8 139.7,174.6 146.5,174.2C153.4,173.8 160.3,173.2 167.2,172.5C174,171.7 180.9,170.8 187.8,169.9C194.7,169 201.6,168 208.4,167.2C215.3,166.3 222.2,165.4 229.1,164.7C235.9,164 242.8,163.3 249.7,162.7C256.6,162.2 266.9,161.6 270.3,161.4" fill="none" stroke="#12c0dc" stroke-width="1.5" stroke-linejoin="round" stroke-linecap="round"/>
<path d="M125.9,182.8C128.4,181.8 135.9,178.7 141,177C146,175.4 151,174 156,172.9C161,171.7 166.1,170.9 171.1,170C176.1,169.2 181.1,168.5 186.1,167.6C191.1,166.8 196.2,165.9 201.2,165.1C206.2,164.3 211.2,163.3 216.2,162.7C221.3,162.1 228.8,161.6 231.3,161.4" fill="none" stroke="#223a8c" stroke-width="1.5" stroke-linejoin="round" stroke-linecap="round"/>
<path d="M125.9,179.8C130,179 142.1,176.5 150.2,175.2C158.4,173.8 166.5,172.7 174.6,171.7C182.7,170.7 190.8,170 198.9,169.3C207,168.6 215.1,168 223.3,167.4C231.4,166.7 239.5,166.1 247.6,165.4C255.7,164.7 263.8,164 271.9,163.3C280,162.7 292.2,161.7 296.3,161.4" fill="none" stroke="#8e3fb0" stroke-width="1.5" stroke-linejoin="round" stroke-linecap="round"/>
<path d="M125.9,153.2C128.7,153.4 136.9,154 142.4,154.3C147.9,154.5 153.4,154.7 158.9,154.8C164.4,155 169.9,155 175.4,155.2C180.9,155.4 186.4,155.6 191.9,156C197.4,156.4 202.9,157 208.4,157.5C213.9,158.1 219.4,158.8 224.9,159.5C230.4,160.1 238.7,161.1 241.4,161.4" fill="none" stroke="#3fbf6f" stroke-width="1.5" stroke-linejoin="round" stroke-linecap="round"/>
<path d="M125.9,154.6C129.4,154.9 139.9,155.7 146.8,156.2C153.8,156.7 160.8,157.1 167.8,157.5C174.8,157.8 181.8,158.1 188.7,158.4C195.7,158.7 202.7,159 209.7,159.2C216.7,159.5 223.6,159.7 230.6,160C237.6,160.2 244.6,160.5 251.6,160.7C258.6,161 269,161.3 272.5,161.4" fill="none" stroke="#12c0dc" stroke-width="1.5" stroke-linejoin="round" stroke-linecap="round"/>
<path d="M125.9,137.8C130,138.4 142.3,140.1 150.4,141.3C158.6,142.6 166.8,143.9 175,145.2C183.2,146.6 191.4,148 199.5,149.4C207.7,150.8 215.9,152.2 224.1,153.4C232.3,154.7 240.4,155.8 248.6,156.9C256.8,157.9 265,158.9 273.2,159.6C281.4,160.4 293.6,161.1 297.7,161.4" fill="none" stroke="#3fbf6f" stroke-width="1.5" stroke-linejoin="round" stroke-linecap="round"/>
<path d="M125.9,179.7C129.5,179.2 140.3,177.7 147.5,176.8C154.7,175.8 161.9,174.9 169.1,174C176.3,173.1 183.5,172.2 190.7,171.4C197.9,170.5 205.1,169.7 212.3,168.9C219.5,168.1 226.7,167.3 233.9,166.5C241.1,165.6 248.4,164.9 255.6,164C262.8,163.2 273.6,161.8 277.2,161.4" fill="none" stroke="#27a59a" stroke-width="1.5" stroke-linejoin="round" stroke-linecap="round"/>
<path d="M200,161.6C216.7,161.6 257.3,161.5 300,161.4C342.7,161.3 430.2,161.2 456.3,161.2" fill="none" stroke="#4fc3f7" stroke-width="2.6" stroke-linejoin="round" stroke-linecap="round"/>
<path d="M125.9,88.9C131.5,91.4 150.3,100.5 159.5,104.1C168.7,107.7 175,108 181.1,110.5C187.2,113 189.1,117 196.3,119.3C203.5,121.6 213.8,122.4 224.2,124.4C234.6,126.4 247.5,130.3 258.5,131.4C269.5,132.5 278.4,131.2 290,130.8C301.6,130.4 318.6,129.3 328.1,128.9C337.6,128.5 340.8,127.9 347.1,128.2C353.5,128.5 359.9,129.7 366.2,130.8C372.5,131.9 378.9,132.9 385.2,134.6C391.5,136.3 397.8,138.8 404.2,140.9C410.6,143 418,145.8 423.3,147.3C428.6,148.8 431.8,148.3 436,149.8C440.2,151.3 445.2,154.3 448.6,156.2C452,158.1 455,160.4 456.3,161.2" fill="none" stroke="#1c1c1c" stroke-width="2.0" stroke-linejoin="round" stroke-linecap="round"/>
<path d="M125.9,90.5C128.2,92.2 135.2,97.1 140,101C144.8,104.9 149.6,109 155,114C160.4,119 167.9,130.3 172.2,130.8C176.5,131.3 176.6,120.7 181,116.8C185.4,112.9 192,109.1 198.8,107.3C205.6,105.5 213.9,105.7 221.7,106C229.5,106.3 237.6,106.7 245.8,109.2C254.1,111.7 263.8,118.8 271.2,121.2C278.6,123.6 280.5,123 290,123.8C299.5,124.5 319.2,124.8 328.1,125.7C337,126.7 338,127.4 343.3,129.5C348.6,131.6 353.9,135.7 359.8,138.4C365.7,141.2 372.5,143.5 378.8,146C385.1,148.5 392.6,151.8 397.9,153.6C403.2,155.4 407.4,157.3 410.6,156.8C413.8,156.3 413.7,151.8 416.9,150.4C420.1,149 425.4,147.8 429.6,148.5C433.8,149.2 438.1,152.8 442.3,154.9C446.5,157 452.9,160.1 455,161.2" fill="none" stroke="#e0306a" stroke-width="1.9" stroke-linejoin="round" stroke-linecap="round"/>
<path d="M125.9,189.2C129.6,187.7 142.2,182.4 148,180.3C153.8,178.2 156.6,175.3 160.8,176.5C165.1,177.7 167.2,186.1 173.5,187.2C179.8,188.2 188.2,184.4 198.8,182.8C209.4,181.2 228,179.8 236.9,177.7C245.8,175.6 247.8,172.5 252,170C256.2,167.5 258.5,163.9 262.3,162.5C266.1,161.1 272.9,161.7 275,161.5" fill="none" stroke="#1c1c1c" stroke-width="2.0" stroke-linejoin="round" stroke-linecap="round"/>
<path d="M125.9,202.5C129.6,201.6 139,197.3 148,196.8C157,196.3 171.3,200.4 179.8,199.3C188.3,198.2 191.4,193.6 198.8,190.4C206.2,187.2 215.7,183.9 224.2,180.3C232.7,176.7 243.2,171.8 249.6,168.8C255.9,165.8 257.2,163.7 262.3,162.5C267.4,161.3 277.1,161.7 280,161.5" fill="none" stroke="#1e7fd0" stroke-width="1.8" stroke-linejoin="round" stroke-linecap="round"/>
<path d="M125.9,224.7C128.2,222.6 134.2,217.4 140,212C145.8,206.6 155,197.3 160.8,192C166.6,186.7 170.1,183.7 175,180C179.9,176.3 184.2,172.7 190,170C195.8,167.3 203.3,165.3 210,164C216.7,162.7 226.7,162.3 230,162" fill="none" stroke="#e8552a" stroke-width="1.6" stroke-linejoin="round" stroke-linecap="round"/>
<path d="M125.9,217.1C128.2,215.1 134.2,210.2 140,205C145.8,199.8 154.5,191.2 160.8,186C167.1,180.8 171.5,177.3 178,174C184.5,170.7 192.2,168 200,166C207.8,164 220.8,162.7 225,162" fill="none" stroke="#e8552a" stroke-width="1.5" stroke-linejoin="round" stroke-linecap="round"/>
<path d="M125.9,97.8C128.2,99.8 134.2,105.1 140,110C145.8,114.9 155.2,122 160.8,127C166.4,131.9 169.3,135.7 173.5,139.7C177.7,143.7 181.8,148 186.2,151.1C190.6,154.2 195.2,156.3 200,158C204.8,159.7 212.5,160.5 215,161" fill="none" stroke="#1c1c1c" stroke-width="1.9" stroke-linejoin="round" stroke-linecap="round"/>
<path d="M125.9,114.3C129.6,118.1 140.5,129.7 148,137.1C155.5,144.5 164.7,154.7 170.9,158.7C177.1,162.7 182.7,160.6 185,161" fill="none" stroke="#1c1c1c" stroke-width="1.8" stroke-linejoin="round" stroke-linecap="round"/>
<path d="M290,156.2C292.8,156.8 302.3,163 306.5,160C310.7,157 311.8,142.2 315.4,138.4C319,134.6 321.8,137.1 328.1,137.1C334.5,137.1 345.1,137.8 353.5,138.4C361.9,139 371.4,140.1 378.8,140.9C386.2,141.8 392.6,141.8 397.9,143.5C403.2,145.2 406,148.2 410.6,151.1C415.2,153.9 423.3,159 425.8,160.6" fill="none" stroke="#1c1c1c" stroke-width="2.0" stroke-linejoin="round" stroke-linecap="round"/>
<path d="M240,150C243.3,150.3 251.7,151 260,152C268.3,153 285,155.5 290,156.2" fill="none" stroke="#1c1c1c" stroke-width="1.8" stroke-linejoin="round" stroke-linecap="round"/>
<path d="M200,139C206.7,137.7 228.3,132.2 240,131C251.7,129.8 261.7,131.4 270,132C278.3,132.6 283.5,133.5 290,134.6C296.5,135.7 305.8,137.8 309,138.4" fill="none" stroke="#9db89d" stroke-width="1.4" stroke-linejoin="round" stroke-linecap="round"/>
<path d="M324.3,141.6C330.2,142.7 347.7,145.6 360,148C372.3,150.4 391.6,154.8 397.9,156.2" fill="none" stroke="#a8a8a8" stroke-width="1.3" stroke-linejoin="round" stroke-linecap="round"/>
<path d="M250,150C256.7,149.2 280.8,147.2 290,145.4C299.2,143.6 301.8,138.9 305.2,139C308.6,139.1 309,143.1 310.3,146C311.6,148.9 311.9,153.7 312.8,156.2C313.8,158.7 315.5,160.2 316,161" fill="none" stroke="#e8552a" stroke-width="1.5" stroke-linejoin="round" stroke-linecap="round"/>
<path d="M230,154C240,153.5 276.2,150.8 290,151.1C303.8,151.3 302.2,153.8 312.8,155.5C323.4,157.2 346.7,160.2 353.5,161.2" fill="none" stroke="#e0306a" stroke-width="1.6" stroke-linejoin="round" stroke-linecap="round"/>
<path d="M250,171C256.7,170.6 278.1,170.2 290,168.8C301.9,167.4 313.4,163.7 321.7,162.5C330,161.3 336.9,161.7 340,161.5" fill="none" stroke="#9db89d" stroke-width="1.5" stroke-linejoin="round" stroke-linecap="round"/>
<path d="M125.9,140C129.9,139.3 141,136.3 150,136C159,135.7 170,136.3 180,138C190,139.7 200,143.2 210,146C220,148.8 231.3,152.5 240,155C248.7,157.5 258.3,160 262,161" fill="none" stroke="#1e7fd0" stroke-width="1.6" stroke-linejoin="round" stroke-linecap="round"/>
<path d="M125.9,128C129.9,127.8 141.8,126.5 150,127C158.2,127.5 166.7,128.8 175,131C183.3,133.2 190.8,136.5 200,140C209.2,143.5 220.8,148.5 230,152C239.2,155.5 250.8,159.5 255,161" fill="none" stroke="#12c0dc" stroke-width="1.6" stroke-linejoin="round" stroke-linecap="round"/>
<path d="M180,146C186.7,146.3 206.7,147.3 220,148C233.3,148.7 246.7,149.2 260,150C273.3,150.8 286.7,151.8 300,153C313.3,154.2 328.3,155.7 340,157C351.7,158.3 365,160.3 370,161" fill="none" stroke="#f08a80" stroke-width="1.3" stroke-linejoin="round" stroke-linecap="round"/>
<path d="M190,150C196.7,150.3 216.7,151.2 230,152C243.3,152.8 256.7,154 270,155C283.3,156 298.3,157 310,158C321.7,159 335,160.5 340,161" fill="none" stroke="#d070c0" stroke-width="1.4" stroke-linejoin="round" stroke-linecap="round"/>
<path d="M200,156C206.7,156.2 226.7,156.5 240,157C253.3,157.5 266.7,158.3 280,159C293.3,159.7 313.3,160.7 320,161" fill="none" stroke="#a8a8a8" stroke-width="1.2" stroke-linejoin="round" stroke-linecap="round"/>
<path d="M125.9,488.9C129.2,489 139.1,489.1 145.6,489.6C152.2,490 158.8,490.7 165.4,491.4C171.9,492.2 178.5,493.3 185.1,494.2C191.7,495.1 198.2,496.1 204.8,496.8C211.4,497.6 218,498.1 224.6,498.6C231.1,499.1 237.7,499.3 244.3,499.6C250.9,499.9 260.7,500.2 264,500.3" fill="none" stroke="#8b4a3a" stroke-width="1.5" stroke-linejoin="round" stroke-linecap="round"/>
<path d="M125.9,500C130.5,499.4 144.3,497.1 153.4,496.5C162.6,495.8 171.8,495.6 181,495.8C190.2,496 199.3,496.9 208.5,497.5C217.7,498.1 226.9,499 236.1,499.5C245.2,500 254.4,500.4 263.6,500.5C272.8,500.7 281.9,500.5 291.1,500.5C300.3,500.4 314.1,500.3 318.7,500.3" fill="none" stroke="#1c1c1c" stroke-width="1.5" stroke-linejoin="round" stroke-linecap="round"/>
<path d="M125.9,503.3C130.7,503.8 145.3,505.6 155,506.1C164.6,506.6 174.3,506.6 184,506.3C193.7,506.1 203.4,505.2 213.1,504.6C222.8,503.9 232.4,503 242.1,502.4C251.8,501.8 261.5,501.4 271.2,501.1C280.9,500.8 290.5,500.8 300.2,500.7C309.9,500.5 324.4,500.4 329.3,500.3" fill="none" stroke="#12c0dc" stroke-width="1.5" stroke-linejoin="round" stroke-linecap="round"/>
<path d="M125.9,460.8C129.7,462 141.3,465.5 148.9,467.8C156.6,470.2 164.3,472.5 172,474.8C179.6,477.2 187.3,479.5 195,481.7C202.7,483.9 210.4,486 218,488C225.7,490 233.4,491.8 241.1,493.5C248.7,495.1 256.4,496.6 264.1,497.8C271.8,498.9 283.3,499.9 287.1,500.3" fill="none" stroke="#1c1c1c" stroke-width="1.5" stroke-linejoin="round" stroke-linecap="round"/>
<path d="M125.9,488.6C129.9,488.9 142.1,489.6 150.2,490.4C158.3,491.2 166.4,492.3 174.5,493.4C182.6,494.4 190.7,495.8 198.8,496.8C206.9,497.8 215,498.7 223.1,499.3C231.1,499.9 239.2,500.1 247.3,500.2C255.4,500.3 263.5,500.1 271.6,500.1C279.7,500.1 291.9,500.3 295.9,500.3" fill="none" stroke="#27a59a" stroke-width="1.5" stroke-linejoin="round" stroke-linecap="round"/>
<path d="M125.9,467.6C129.1,468.4 138.7,470.8 145.1,472.5C151.6,474.2 158,476 164.4,477.8C170.8,479.6 177.2,481.5 183.6,483.3C190,485.1 196.5,486.9 202.9,488.6C209.3,490.2 215.7,491.7 222.1,493.1C228.5,494.6 235,495.9 241.4,497.1C247.8,498.3 257.4,499.8 260.6,500.3" fill="none" stroke="#8b4a3a" stroke-width="1.5" stroke-linejoin="round" stroke-linecap="round"/>
<path d="M125.9,490.8C129.2,491 138.9,491.3 145.5,491.8C152,492.3 158.5,493.1 165,493.9C171.5,494.8 178.1,495.9 184.6,496.8C191.1,497.6 197.6,498.5 204.2,499C210.7,499.5 217.2,499.7 223.7,499.8C230.2,500 236.8,499.8 243.3,499.9C249.8,500 259.6,500.2 262.8,500.3" fill="none" stroke="#e0306a" stroke-width="1.5" stroke-linejoin="round" stroke-linecap="round"/>
<path d="M125.9,463.5C129.3,465.2 139.4,470.6 146.2,473.6C152.9,476.5 159.7,479 166.4,481.2C173.2,483.4 179.9,485.1 186.7,486.7C193.4,488.4 200.2,489.7 206.9,491C213.7,492.4 220.5,493.7 227.2,494.9C234,496.2 240.7,497.5 247.5,498.3C254.2,499.2 264.4,500 267.7,500.3" fill="none" stroke="#27a59a" stroke-width="1.5" stroke-linejoin="round" stroke-linecap="round"/>
<path d="M125.9,501C129.1,501.1 138.7,501.6 145.1,501.6C151.5,501.6 157.9,501.2 164.3,500.9C170.7,500.5 177.1,499.8 183.5,499.4C190,499 196.4,498.5 202.8,498.4C209.2,498.3 215.6,498.5 222,498.8C228.4,499 234.8,499.5 241.2,499.8C247.6,500 257.2,500.2 260.4,500.3" fill="none" stroke="#9db89d" stroke-width="1.5" stroke-linejoin="round" stroke-linecap="round"/>
<path d="M125.9,507.2C129.7,507.3 141,508 148.6,508C156.2,507.9 163.7,507.3 171.3,506.7C178.9,506 186.4,504.9 194,504C201.6,503.2 209.1,502.2 216.7,501.6C224.3,501.1 231.8,500.8 239.4,500.6C247,500.4 254.5,500.6 262.1,500.5C269.7,500.5 281,500.3 284.8,500.3" fill="none" stroke="#e8552a" stroke-width="1.5" stroke-linejoin="round" stroke-linecap="round"/>
<path d="M125.9,476.6C129.4,477.7 139.9,481.4 146.9,483.1C153.8,484.8 160.8,485.9 167.8,486.8C174.8,487.7 181.8,488 188.8,488.5C195.7,489 202.7,489.3 209.7,489.9C216.7,490.6 223.7,491.5 230.7,492.5C237.7,493.5 244.6,494.9 251.6,496.2C258.6,497.5 269.1,499.6 272.6,500.3" fill="none" stroke="#12c0dc" stroke-width="1.5" stroke-linejoin="round" stroke-linecap="round"/>
<path d="M125.9,498.3C129.8,498.2 141.7,498 149.6,498C157.5,497.9 165.4,497.8 173.3,497.7C181.2,497.7 189.1,497.6 197,497.7C204.9,497.8 212.8,497.9 220.7,498.1C228.6,498.4 236.5,498.7 244.4,499C252.3,499.3 260.2,499.7 268.1,499.9C276,500.1 287.8,500.2 291.8,500.3" fill="none" stroke="#9db89d" stroke-width="1.5" stroke-linejoin="round" stroke-linecap="round"/>
<path d="M125.9,527.6C130.8,527.1 145.7,525.9 155.5,524.7C165.4,523.4 175.3,521.9 185.2,520.2C195,518.5 204.9,516.5 214.8,514.7C224.7,512.8 234.5,510.9 244.4,509.3C254.3,507.7 264.2,506.3 274,505.1C283.9,503.9 293.8,502.9 303.7,502.2C313.5,501.4 328.4,500.6 333.3,500.3" fill="none" stroke="#1c1c1c" stroke-width="1.5" stroke-linejoin="round" stroke-linecap="round"/>
<path d="M125.9,495.5C129.6,495 140.5,493 147.8,492.4C155.1,491.8 162.5,491.8 169.8,492.1C177.1,492.4 184.4,493.4 191.7,494.2C199,495 206.3,496.2 213.6,496.9C221,497.7 228.3,498.4 235.6,498.8C242.9,499.3 250.2,499.5 257.5,499.7C264.8,500 275.8,500.2 279.5,500.3" fill="none" stroke="#c2185b" stroke-width="1.5" stroke-linejoin="round" stroke-linecap="round"/>
<path d="M125.9,506.6C130.4,506.8 144,508 153.1,508.1C162.1,508.3 171.2,508 180.2,507.5C189.3,507 198.3,505.9 207.4,505.1C216.4,504.3 225.5,503.3 234.6,502.7C243.6,502 252.7,501.5 261.7,501.1C270.8,500.8 279.8,500.7 288.9,500.6C297.9,500.4 311.5,500.3 316,500.3" fill="none" stroke="#1e7fd0" stroke-width="1.5" stroke-linejoin="round" stroke-linecap="round"/>
<path d="M125.9,461.4C129.7,463.2 141,469 148.6,472C156.1,475.1 163.7,477.7 171.2,479.9C178.8,482.1 186.4,483.8 193.9,485.4C201.5,487.1 209,488.5 216.6,490C224.1,491.4 231.7,493 239.3,494.3C246.8,495.7 254.4,497.2 261.9,498.2C269.5,499.2 280.8,500 284.6,500.3" fill="none" stroke="#8b4a3a" stroke-width="1.5" stroke-linejoin="round" stroke-linecap="round"/>
<path d="M125.9,490.7C129.9,490.9 141.8,491.5 149.8,491.9C157.7,492.3 165.7,492.7 173.6,493.2C181.6,493.7 189.6,494.1 197.5,494.7C205.5,495.2 213.4,495.8 221.4,496.4C229.4,496.9 237.3,497.6 245.3,498.1C253.2,498.7 261.2,499.2 269.1,499.6C277.1,500 289,500.2 293,500.3" fill="none" stroke="#223a8c" stroke-width="1.5" stroke-linejoin="round" stroke-linecap="round"/>
<path d="M125.9,482C130.5,482.4 144.2,483.4 153.4,484.4C162.6,485.4 171.7,486.7 180.9,488C190.1,489.4 199.3,491 208.4,492.3C217.6,493.6 226.8,495 235.9,495.9C245.1,496.8 254.3,497.4 263.4,498C272.6,498.5 281.8,498.7 290.9,499.1C300.1,499.5 313.9,500.1 318.4,500.3" fill="none" stroke="#4fc3f7" stroke-width="1.5" stroke-linejoin="round" stroke-linecap="round"/>
<path d="M125.9,534.9C130.2,534.3 143,532.7 151.6,531.3C160.2,529.8 168.8,528 177.3,526.2C185.9,524.3 194.5,522.1 203.1,520C211.6,518 220.2,515.9 228.8,514.1C237.4,512.3 245.9,510.7 254.5,509.2C263.1,507.6 271.7,506.4 280.2,504.9C288.8,503.4 301.7,501.1 306,500.3" fill="none" stroke="#c2185b" stroke-width="1.5" stroke-linejoin="round" stroke-linecap="round"/>
<path d="M125.9,484.4C130.8,485 145.7,487.2 155.6,488.2C165.5,489.1 175.4,489.7 185.2,490.3C195.1,490.8 205,490.9 214.9,491.3C224.8,491.7 234.7,492 244.6,492.6C254.5,493.3 264.4,494.2 274.3,495.1C284.1,496 294,497.3 303.9,498.2C313.8,499 328.6,499.9 333.6,500.3" fill="none" stroke="#f08a80" stroke-width="1.5" stroke-linejoin="round" stroke-linecap="round"/>
<path d="M125.9,500.9C130.7,501.1 145.1,501.6 154.7,501.9C164.3,502.2 173.9,502.5 183.5,502.7C193.1,502.8 202.7,503 212.3,503C221.9,503 231.5,502.9 241.1,502.6C250.7,502.4 260.3,502 269.9,501.7C279.5,501.4 289.1,501 298.7,500.7C308.3,500.5 322.7,500.4 327.5,500.3" fill="none" stroke="#c2185b" stroke-width="1.5" stroke-linejoin="round" stroke-linecap="round"/>
<path d="M125.9,495.3C130.6,495.8 144.9,497.5 154.3,498.1C163.8,498.8 173.3,499.1 182.8,499.2C192.2,499.3 201.7,499 211.2,498.8C220.7,498.7 230.2,498.4 239.6,498.3C249.1,498.3 258.6,498.4 268.1,498.6C277.5,498.8 287,499.3 296.5,499.5C306,499.8 320.2,500.2 324.9,500.3" fill="none" stroke="#4fc3f7" stroke-width="1.5" stroke-linejoin="round" stroke-linecap="round"/>
<path d="M125.9,496.1C129.1,496.3 138.8,496.7 145.3,497.1C151.8,497.4 158.3,497.8 164.7,498.1C171.2,498.4 177.7,498.8 184.1,499C190.6,499.3 197.1,499.5 203.6,499.6C210,499.7 216.5,499.7 223,499.8C229.4,499.8 235.9,499.8 242.4,499.8C248.9,499.9 258.6,500.2 261.8,500.3" fill="none" stroke="#c2185b" stroke-width="1.5" stroke-linejoin="round" stroke-linecap="round"/>
<path d="M125.9,536C130.8,535.3 145.4,533.6 155.2,532C165,530.3 174.8,528.4 184.5,526.3C194.3,524.2 204.1,521.6 213.8,519.4C223.6,517.1 233.4,514.7 243.2,512.7C252.9,510.6 262.7,508.8 272.5,507.2C282.2,505.6 292,504.3 301.8,503.1C311.5,502 326.2,500.8 331.1,500.3" fill="none" stroke="#8e3fb0" stroke-width="1.5" stroke-linejoin="round" stroke-linecap="round"/>
<path d="M125.9,504.7C129.4,504.5 139.8,503.9 146.8,503.8C153.7,503.6 160.7,503.7 167.6,503.7C174.6,503.8 181.5,504.1 188.5,504.2C195.4,504.2 202.4,504.2 209.3,504C216.3,503.7 223.2,503.2 230.2,502.7C237.1,502.3 244.1,501.5 251,501.1C258,500.7 268.4,500.4 271.9,500.3" fill="none" stroke="#3fbf6f" stroke-width="1.5" stroke-linejoin="round" stroke-linecap="round"/>
<path d="M125.9,521C129.7,520.2 140.9,517.7 148.4,516.4C156,515.1 163.5,514.2 171,513.4C178.5,512.5 186,512.1 193.5,511.4C201.1,510.7 208.6,510 216.1,509.1C223.6,508.2 231.1,507 238.6,505.9C246.2,504.8 253.7,503.4 261.2,502.5C268.7,501.5 280,500.7 283.7,500.3" fill="none" stroke="#3fbf6f" stroke-width="1.5" stroke-linejoin="round" stroke-linecap="round"/>
<path d="M125.9,526.3C130.2,525.4 143,522.7 151.6,521C160.1,519.3 168.7,517.7 177.3,516.3C185.8,514.8 194.4,513.5 203,512.2C211.5,510.9 220.1,509.7 228.6,508.6C237.2,507.5 245.8,506.4 254.3,505.4C262.9,504.4 271.5,503.4 280,502.5C288.6,501.7 301.4,500.7 305.7,500.3" fill="none" stroke="#1e7fd0" stroke-width="1.5" stroke-linejoin="round" stroke-linecap="round"/>
<path d="M125.9,521.4C130.1,520.7 142.7,518.5 151.2,517C159.6,515.4 168,513.8 176.4,512.3C184.9,510.8 193.3,509.3 201.7,507.9C210.1,506.6 218.6,505.4 227,504.5C235.4,503.5 243.8,502.9 252.3,502.3C260.7,501.7 269.1,501.4 277.5,501.1C286,500.7 298.6,500.4 302.8,500.3" fill="none" stroke="#12c0dc" stroke-width="1.5" stroke-linejoin="round" stroke-linecap="round"/>
<path d="M125.9,500.2C130.1,500.2 142.6,500.4 151,500.3C159.3,500.2 167.7,499.8 176,499.4C184.4,499 192.7,498.4 201.1,498.1C209.4,497.7 217.8,497.4 226.1,497.5C234.5,497.5 242.9,497.9 251.2,498.2C259.6,498.6 267.9,499.3 276.3,499.6C284.6,500 297.2,500.2 301.3,500.3" fill="none" stroke="#e8552a" stroke-width="1.5" stroke-linejoin="round" stroke-linecap="round"/>
<path d="M125.9,532.2C129.8,531 141.5,527.7 149.3,525.5C157,523.3 164.8,521.1 172.6,519C180.4,516.9 188.2,514.8 196,513C203.8,511.1 211.6,509.4 219.3,508C227.1,506.6 234.9,505.5 242.7,504.4C250.5,503.4 258.3,502.6 266.1,501.9C273.9,501.2 285.5,500.6 289.4,500.3" fill="none" stroke="#4fc3f7" stroke-width="1.5" stroke-linejoin="round" stroke-linecap="round"/>
<path d="M125.9,495C130.8,494.7 145.5,493.5 155.3,493.3C165.1,493 175,493.2 184.8,493.6C194.6,494 204.4,494.9 214.2,495.6C224,496.3 233.8,497.2 243.6,497.9C253.4,498.5 263.3,499 273.1,499.4C282.9,499.8 292.7,499.9 302.5,500C312.3,500.2 327,500.3 331.9,500.3" fill="none" stroke="#4fc3f7" stroke-width="1.5" stroke-linejoin="round" stroke-linecap="round"/>
<path d="M125.9,479.4C130.5,480.1 144.3,482.2 153.6,483.5C162.8,484.8 172,485.9 181.2,487C190.4,488.2 199.7,489.2 208.9,490.2C218.1,491.2 227.3,492.1 236.5,493C245.7,493.9 255,494.8 264.2,495.7C273.4,496.6 282.6,497.5 291.8,498.3C301.1,499 314.9,500 319.5,500.3" fill="none" stroke="#12c0dc" stroke-width="1.5" stroke-linejoin="round" stroke-linecap="round"/>
<path d="M125.9,485.3C129.9,485.9 141.8,487.7 149.8,488.7C157.8,489.7 165.7,490.5 173.7,491.2C181.7,492 189.6,492.5 197.6,493.2C205.6,493.8 213.5,494.5 221.5,495.1C229.5,495.8 237.4,496.6 245.4,497.3C253.4,498 261.3,498.8 269.3,499.3C277.3,499.8 289.2,500.1 293.2,500.3" fill="none" stroke="#f08a80" stroke-width="1.5" stroke-linejoin="round" stroke-linecap="round"/>
<path d="M125.9,520.8C130.4,519.8 143.9,516.5 152.8,514.8C161.8,513.2 170.8,511.9 179.8,510.9C188.7,509.8 197.7,509.2 206.7,508.5C215.7,507.8 224.6,507.3 233.6,506.7C242.6,506 251.6,505.2 260.6,504.5C269.5,503.7 278.5,502.8 287.5,502.1C296.5,501.4 309.9,500.6 314.4,500.3" fill="none" stroke="#27a59a" stroke-width="1.5" stroke-linejoin="round" stroke-linecap="round"/>
<path d="M125.9,461C129.5,461.2 140.3,461.2 147.5,462.1C154.7,462.9 161.9,464.4 169.1,466.2C176.3,467.9 183.5,470.4 190.7,472.8C197.9,475.1 205.1,477.8 212.3,480.2C219.5,482.6 226.7,484.9 233.9,487.1C241.1,489.3 248.3,491.1 255.4,493.3C262.6,495.5 273.4,499.1 277,500.3" fill="none" stroke="#223a8c" stroke-width="1.5" stroke-linejoin="round" stroke-linecap="round"/>
<path d="M125.9,465.7C129.9,466.9 141.8,470.7 149.8,473C157.7,475.3 165.7,477.5 173.6,479.5C181.6,481.6 189.5,483.5 197.5,485.3C205.4,487.1 213.4,488.8 221.3,490.3C229.3,491.8 237.3,493.2 245.2,494.5C253.2,495.8 261.1,497 269.1,497.9C277,498.9 289,499.9 292.9,500.3" fill="none" stroke="#f08a80" stroke-width="1.5" stroke-linejoin="round" stroke-linecap="round"/>
<path d="M125.9,504.9C129.6,504.4 140.9,502.7 148.4,501.9C155.8,501.1 163.3,500.6 170.8,500.3C178.3,499.9 185.8,499.8 193.3,499.8C200.8,499.8 208.2,500 215.7,500.1C223.2,500.3 230.7,500.5 238.2,500.6C245.7,500.7 253.2,500.7 260.6,500.7C268.1,500.7 279.4,500.4 283.1,500.3" fill="none" stroke="#1e7fd0" stroke-width="1.5" stroke-linejoin="round" stroke-linecap="round"/>
<path d="M125.9,496C129.4,496.3 139.9,497.4 147,497.8C154,498.2 161,498.3 168,498.4C175.1,498.4 182.1,498.1 189.1,498.1C196.1,498 203.2,497.8 210.2,497.9C217.2,498 224.2,498.2 231.3,498.5C238.3,498.7 245.3,499.2 252.3,499.5C259.4,499.8 269.9,500.2 273.4,500.3" fill="none" stroke="#e8552a" stroke-width="1.5" stroke-linejoin="round" stroke-linecap="round"/>
<path d="M125.9,500.6C129.6,500.6 140.8,500.5 148.3,500.6C155.8,500.8 163.2,501.2 170.7,501.5C178.2,501.9 185.7,502.5 193.1,502.8C200.6,503.1 208.1,503.4 215.5,503.3C223,503.2 230.5,502.8 237.9,502.4C245.4,502.1 252.9,501.4 260.4,501C267.8,500.6 279,500.4 282.8,500.3" fill="none" stroke="#8b4a3a" stroke-width="1.5" stroke-linejoin="round" stroke-linecap="round"/>
<path d="M125.9,506.7C129.2,506.3 139.1,504.8 145.7,504C152.3,503.3 158.9,502.7 165.6,502.3C172.2,501.9 178.8,501.6 185.4,501.4C192,501.2 198.6,501.2 205.2,501.1C211.8,501 218.4,501 225,500.9C231.6,500.8 238.3,500.8 244.9,500.7C251.5,500.6 261.4,500.4 264.7,500.3" fill="none" stroke="#4fc3f7" stroke-width="1.5" stroke-linejoin="round" stroke-linecap="round"/>
<path d="M125.9,468.7C129.4,469.9 139.7,473.7 146.6,475.8C153.5,477.8 160.4,479.5 167.3,481C174.2,482.4 181.1,483.5 188,484.7C194.9,485.9 201.8,486.9 208.7,488.1C215.6,489.3 222.5,490.7 229.4,492.1C236.3,493.5 243.2,495.1 250.1,496.5C257,497.8 267.4,499.7 270.9,500.3" fill="none" stroke="#12c0dc" stroke-width="1.5" stroke-linejoin="round" stroke-linecap="round"/>
<path d="M125.9,519.7C129.2,518.9 139,516.1 145.6,514.7C152.2,513.3 158.7,512.3 165.3,511.4C171.9,510.5 178.4,510.1 185,509.4C191.5,508.7 198.1,508.2 204.7,507.4C211.2,506.6 217.8,505.6 224.4,504.7C230.9,503.7 237.5,502.6 244.1,501.8C250.6,501.1 260.5,500.6 263.8,500.3" fill="none" stroke="#c2185b" stroke-width="1.5" stroke-linejoin="round" stroke-linecap="round"/>
<path d="M125.9,511.7C129,511.4 138.4,510.7 144.6,510.1C150.8,509.6 157.1,509.1 163.3,508.5C169.5,507.9 175.8,507.3 182,506.6C188.2,506 194.4,505.3 200.7,504.6C206.9,503.9 213.1,503.2 219.4,502.6C225.6,502.1 231.8,501.5 238.1,501.1C244.3,500.7 253.6,500.4 256.8,500.3" fill="none" stroke="#3fbf6f" stroke-width="1.5" stroke-linejoin="round" stroke-linecap="round"/>
<path d="M125.9,522.8C130.9,522.2 145.7,520.4 155.7,519.3C165.6,518.2 175.5,517.2 185.4,516.1C195.3,515.1 205.3,514.1 215.2,513.1C225.1,512 235,511 244.9,509.9C254.9,508.7 264.8,507.5 274.7,506.4C284.6,505.2 294.5,504 304.5,502.9C314.4,501.9 329.3,500.7 334.2,500.3" fill="none" stroke="#e0306a" stroke-width="1.5" stroke-linejoin="round" stroke-linecap="round"/>
<path d="M125.9,465.3C129.4,466.3 139.8,469.4 146.8,471.1C153.8,472.9 160.7,474.4 167.7,475.9C174.7,477.3 181.6,478.5 188.6,479.9C195.6,481.3 202.5,482.7 209.5,484.3C216.5,485.9 223.4,487.8 230.4,489.6C237.3,491.5 244.3,493.6 251.3,495.4C258.2,497.1 268.7,499.5 272.2,500.3" fill="none" stroke="#c2185b" stroke-width="1.5" stroke-linejoin="round" stroke-linecap="round"/>
<path d="M125.9,500.1C130.7,500.5 145,501.6 154.6,502C164.1,502.4 173.7,502.6 183.2,502.5C192.8,502.5 202.3,502.1 211.9,501.9C221.4,501.6 231,501.1 240.5,500.9C250.1,500.6 259.6,500.4 269.2,500.3C278.7,500.2 288.3,500.2 297.8,500.2C307.4,500.2 321.7,500.3 326.5,500.3" fill="none" stroke="#c2185b" stroke-width="1.5" stroke-linejoin="round" stroke-linecap="round"/>
<path d="M125.9,501.4C130.8,501.3 145.3,500.8 155.1,500.7C164.8,500.6 174.5,500.6 184.2,500.7C193.9,500.8 203.6,501.1 213.4,501.3C223.1,501.4 232.8,501.6 242.5,501.6C252.2,501.6 261.9,501.5 271.7,501.3C281.4,501.2 291.1,500.9 300.8,500.7C310.5,500.5 325.1,500.4 330,500.3" fill="none" stroke="#c2185b" stroke-width="1.5" stroke-linejoin="round" stroke-linecap="round"/>
<path d="M125.9,493.9C130.2,494.2 143.1,494.9 151.7,495.5C160.3,496 169,496.7 177.6,497.3C186.2,497.9 194.8,498.6 203.4,499.1C212,499.5 220.6,499.9 229.2,500C237.9,500.2 246.5,500.1 255.1,500C263.7,500 272.3,499.7 280.9,499.7C289.5,499.8 302.4,500.2 306.8,500.3" fill="none" stroke="#1c1c1c" stroke-width="1.5" stroke-linejoin="round" stroke-linecap="round"/>
<path d="M125.9,466.9C130.5,467.6 144.3,469.6 153.5,471.1C162.7,472.6 171.8,474.3 181,476C190.2,477.7 199.4,479.6 208.6,481.5C217.8,483.4 227,485.5 236.2,487.4C245.4,489.3 254.6,491.3 263.7,493C272.9,494.7 282.1,496.4 291.3,497.6C300.5,498.8 314.3,499.8 318.9,500.3" fill="none" stroke="#12c0dc" stroke-width="1.5" stroke-linejoin="round" stroke-linecap="round"/>
<path d="M125.9,502.6C129.7,503.3 140.9,505.8 148.5,506.6C156,507.4 163.5,507.6 171,507.4C178.5,507.2 186.1,506.3 193.6,505.6C201.1,504.9 208.6,503.8 216.2,503C223.7,502.3 231.2,501.7 238.7,501.3C246.2,500.9 253.8,500.7 261.3,500.6C268.8,500.4 280.1,500.3 283.8,500.3" fill="none" stroke="#c2185b" stroke-width="1.5" stroke-linejoin="round" stroke-linecap="round"/>
<path d="M125.9,511.2C129,511.1 138.5,510.8 144.8,510.5C151.1,510.3 157.4,510 163.7,509.6C169.9,509.3 176.2,508.9 182.5,508.4C188.8,507.9 195.1,507.2 201.4,506.5C207.7,505.8 214,504.9 220.3,504.2C226.6,503.4 232.9,502.5 239.2,501.8C245.4,501.2 254.9,500.6 258,500.3" fill="none" stroke="#c2185b" stroke-width="1.5" stroke-linejoin="round" stroke-linecap="round"/>
<path d="M125.9,469.2C130,470.1 142.3,473 150.6,474.8C158.8,476.7 167,478.6 175.2,480.5C183.4,482.3 191.7,484.2 199.9,485.9C208.1,487.5 216.3,489.1 224.5,490.5C232.8,491.9 241,493 249.2,494.2C257.4,495.3 265.6,496.3 273.9,497.4C282.1,498.4 294.4,499.8 298.5,500.3" fill="none" stroke="#8e3fb0" stroke-width="1.5" stroke-linejoin="round" stroke-linecap="round"/>
<path d="M125.9,498.2C129.7,498.7 141,500.8 148.5,501.5C156.1,502.2 163.6,502.5 171.1,502.5C178.7,502.6 186.2,502.1 193.8,501.7C201.3,501.4 208.8,500.8 216.4,500.4C223.9,500.1 231.5,499.9 239,499.8C246.5,499.7 254.1,499.9 261.6,499.9C269.2,500 280.5,500.2 284.3,500.3" fill="none" stroke="#223a8c" stroke-width="1.5" stroke-linejoin="round" stroke-linecap="round"/>
<path d="M125.9,536.6C130.6,535.5 144.9,532.4 154.4,530.2C163.8,528 173.3,525.5 182.8,523.2C192.3,520.8 201.8,518.3 211.3,516.1C220.8,513.9 230.2,511.8 239.7,510.1C249.2,508.4 258.7,507 268.2,505.8C277.7,504.6 287.2,503.7 296.6,502.8C306.1,501.8 320.4,500.7 325.1,500.3" fill="none" stroke="#e0306a" stroke-width="1.5" stroke-linejoin="round" stroke-linecap="round"/>
<path d="M125.9,500.3C129.2,500.4 139,500.4 145.5,500.5C152,500.5 158.5,500.5 165.1,500.5C171.6,500.5 178.1,500.5 184.6,500.5C191.2,500.5 197.7,500.5 204.2,500.5C210.7,500.5 217.3,500.4 223.8,500.4C230.3,500.4 236.8,500.4 243.4,500.3C249.9,500.3 259.7,500.3 262.9,500.3" fill="none" stroke="#1c1c1c" stroke-width="1.5" stroke-linejoin="round" stroke-linecap="round"/>
<path d="M125.9,523.9C129.2,523 139,520.1 145.5,518.7C152,517.3 158.5,516.3 165.1,515.5C171.6,514.6 178.1,514.3 184.6,513.6C191.2,513 197.7,512.4 204.2,511.5C210.8,510.6 217.3,509.4 223.8,508.1C230.3,506.9 236.9,505.3 243.4,504C249.9,502.7 259.7,500.9 263,500.3" fill="none" stroke="#27a59a" stroke-width="1.5" stroke-linejoin="round" stroke-linecap="round"/>
<path d="M125.9,521C130.2,520.7 143.1,519.8 151.7,519.2C160.4,518.6 169,517.9 177.6,517.2C186.2,516.5 194.8,515.8 203.4,514.9C212,514 220.7,513.1 229.3,512C237.9,510.9 246.5,509.6 255.1,508.4C263.7,507.1 272.3,505.7 281,504.4C289.6,503.1 302.5,501 306.8,500.3" fill="none" stroke="#1c1c1c" stroke-width="1.5" stroke-linejoin="round" stroke-linecap="round"/>
<path d="M125.9,534.7C129,534 138.2,532 144.3,530.4C150.5,528.9 156.6,527.1 162.8,525.3C168.9,523.4 175.1,521.3 181.2,519.4C187.4,517.4 193.5,515.3 199.7,513.5C205.8,511.6 212,509.8 218.1,508.2C224.3,506.5 230.4,505 236.6,503.7C242.7,502.4 251.9,500.9 255,500.3" fill="none" stroke="#c2185b" stroke-width="1.5" stroke-linejoin="round" stroke-linecap="round"/>
<path d="M125.9,517.1C128.9,516.3 138,513.4 144,512C150.1,510.6 156.1,509.6 162.1,508.8C168.2,508 174.2,507.7 180.3,507.3C186.3,506.8 192.3,506.6 198.4,506.2C204.4,505.7 210.5,505.2 216.5,504.5C222.6,503.9 228.6,503.1 234.6,502.4C240.7,501.7 249.7,500.6 252.8,500.3" fill="none" stroke="#e0306a" stroke-width="1.5" stroke-linejoin="round" stroke-linecap="round"/>
<path d="M125.9,499.5C130.3,499.5 143.6,499.5 152.5,499.7C161.3,499.8 170.2,500.2 179,500.5C187.9,500.8 196.7,501.2 205.6,501.5C214.5,501.7 223.3,501.9 232.2,501.9C241,501.9 249.9,501.7 258.7,501.5C267.6,501.3 276.4,500.8 285.3,500.6C294.2,500.4 307.4,500.4 311.9,500.3" fill="none" stroke="#12c0dc" stroke-width="1.5" stroke-linejoin="round" stroke-linecap="round"/>
<path d="M125.9,514.7C131.9,514.5 149.8,513.8 161.7,513.4C173.7,513.1 185.6,512.8 197.5,512.4C209.5,512 221.4,511.7 233.4,511.2C245.3,510.8 257.2,510.2 269.2,509.4C281.1,508.7 293.1,507.7 305,506.8C317,505.8 328.9,504.7 340.8,503.6C352.8,502.6 370.7,500.9 376.7,500.3" fill="none" stroke="#3fbf6f" stroke-width="1.5" stroke-linejoin="round" stroke-linecap="round"/>
<path d="M125.9,485.2C131.5,485.3 148.1,485.6 159.2,486.2C170.3,486.7 181.4,487.4 192.5,488.3C203.7,489.2 214.8,490.3 225.9,491.4C237,492.4 248.1,493.6 259.2,494.6C270.3,495.6 281.4,496.6 292.5,497.3C303.6,498.1 314.7,498.8 325.8,499.3C337,499.8 353.6,500.1 359.2,500.3" fill="none" stroke="#12c0dc" stroke-width="1.5" stroke-linejoin="round" stroke-linecap="round"/>
<path d="M125.9,496.3C130.7,496.7 144.9,498.4 154.4,499C163.9,499.7 173.4,500 182.9,500.1C192.5,500.3 202,500 211.5,499.9C221,499.8 230.5,499.5 240,499.4C249.5,499.4 259,499.4 268.5,499.5C278,499.6 287.5,499.8 297,500C306.5,500.1 320.8,500.2 325.6,500.3" fill="none" stroke="#12c0dc" stroke-width="1.5" stroke-linejoin="round" stroke-linecap="round"/>
<path d="M125.9,519.4C131.1,518.8 146.9,516.6 157.4,515.4C167.9,514.3 178.3,513.3 188.8,512.5C199.3,511.7 209.8,511.1 220.3,510.4C230.8,509.8 241.3,509.2 251.8,508.5C262.3,507.7 272.7,506.9 283.2,506C293.7,505.1 304.2,504.1 314.7,503.1C325.2,502.2 340.9,500.8 346.2,500.3" fill="none" stroke="#3fbf6f" stroke-width="1.5" stroke-linejoin="round" stroke-linecap="round"/>
<path d="M125.9,482.8C131.2,483.6 146.9,486.3 157.4,487.8C167.9,489.3 178.5,490.6 189,491.7C199.5,492.8 210,493.7 220.5,494.5C231,495.3 241.5,495.9 252,496.5C262.5,497.1 273.1,497.6 283.6,498.1C294.1,498.6 304.6,499 315.1,499.4C325.6,499.8 341.4,500.1 346.6,500.3" fill="none" stroke="#1c1c1c" stroke-width="1.5" stroke-linejoin="round" stroke-linecap="round"/>
<path d="M125.9,510C131.2,509.7 147.1,508.9 157.8,508.2C168.4,507.6 179,506.8 189.6,506.1C200.3,505.4 210.9,504.5 221.5,503.8C232.1,503.1 242.8,502.5 253.4,502C264,501.5 274.6,501.2 285.2,500.9C295.9,500.7 306.5,500.6 317.1,500.5C327.7,500.4 343.7,500.3 349,500.3" fill="none" stroke="#f08a80" stroke-width="1.5" stroke-linejoin="round" stroke-linecap="round"/>
<path d="M125.9,487.3C130.3,487.3 143.6,487 152.4,487.3C161.2,487.6 170.1,488.3 178.9,489.1C187.7,489.9 196.6,491.1 205.4,492.2C214.2,493.3 223.1,494.5 231.9,495.4C240.7,496.4 249.6,497.2 258.4,497.9C267.2,498.6 276,499 284.9,499.4C293.7,499.8 307,500.2 311.4,500.3" fill="none" stroke="#9db89d" stroke-width="1.5" stroke-linejoin="round" stroke-linecap="round"/>
<path d="M125.9,503.5C131.8,503.5 149.3,503.8 161.1,503.7C172.8,503.5 184.5,503.3 196.2,502.9C208,502.6 219.7,502 231.4,501.6C243.1,501.3 254.9,500.8 266.6,500.6C278.3,500.4 290,500.4 301.8,500.3C313.5,500.3 325.2,500.5 336.9,500.4C348.7,500.4 366.2,500.3 372.1,500.3" fill="none" stroke="#e8552a" stroke-width="1.5" stroke-linejoin="round" stroke-linecap="round"/>
<path d="M125.9,483.6C131.3,484 147.5,485.2 158.3,486C169.1,486.8 179.9,487.5 190.8,488.3C201.6,489.1 212.4,489.8 223.2,490.6C234,491.3 244.8,492.1 255.6,492.9C266.4,493.8 277.2,494.6 288,495.5C298.8,496.3 309.6,497.2 320.5,498C331.3,498.8 347.5,499.9 352.9,500.3" fill="none" stroke="#4fc3f7" stroke-width="1.5" stroke-linejoin="round" stroke-linecap="round"/>
<path d="M125.9,497.8C131.1,498.3 146.9,499.8 157.3,500.3C167.8,500.9 178.3,501.1 188.8,501.2C199.3,501.2 209.8,500.9 220.2,500.7C230.7,500.5 241.2,500.1 251.7,499.9C262.2,499.8 272.7,499.7 283.1,499.7C293.6,499.7 304.1,499.9 314.6,500C325.1,500.1 340.8,500.2 346,500.3" fill="none" stroke="#8e3fb0" stroke-width="1.5" stroke-linejoin="round" stroke-linecap="round"/>
<path d="M125.9,438.2C127.5,439.2 132.3,441.4 135.4,444C138.5,446.6 141.6,450.3 144.3,454.1C147.1,457.9 149.6,463 151.9,466.8C154.2,470.6 155.7,474.2 158.2,477C160.7,479.8 161.8,481.5 167.1,483.3C172.4,485.1 179.5,486.2 190,488C200.5,489.8 216.7,492.2 230,494C243.3,495.8 263.3,498.2 270,499" fill="none" stroke="#8b4a3a" stroke-width="1.8" stroke-linejoin="round" stroke-linecap="round"/>
<path d="M125.9,447.8C126.9,449.5 130,453.9 131.6,457.9C133.2,461.9 134,467.4 135.4,471.9C136.8,476.3 138,481.4 139.8,484.6C141.6,487.8 143.5,489.4 146,491C148.5,492.6 153.5,493.5 155,494" fill="none" stroke="#1c1c1c" stroke-width="2.2" stroke-linejoin="round" stroke-linecap="round"/>
<path d="M151.9,468.1C154.4,467.4 162.4,464.6 167.1,463.6C171.8,462.7 174.5,462.3 179.8,462.4C185.1,462.5 191.4,463.2 198.8,464.3C206.2,465.4 215.7,466.8 224.2,468.7C232.7,470.6 241.1,473.3 249.6,475.7C258.1,478.1 266.6,481.3 275,483.3C283.4,485.3 291.1,486.9 300,487.7C308.9,488.5 315,488 328.1,488.4C341.2,488.8 364,489.6 378.8,490.3C393.6,491 405.9,491.9 416.9,492.8C427.9,493.8 440.1,495.5 444.8,496" fill="none" stroke="#9db89d" stroke-width="1.7" stroke-linejoin="round" stroke-linecap="round"/>
<path d="M125.9,463C127.5,462.5 131.7,459.4 135.4,459.8C139.1,460.2 142.8,463.7 148.1,465.5C153.4,467.3 160.8,468.9 167.1,470.6C173.4,472.3 179.8,473.8 186.2,475.7C192.5,477.6 198.9,480.3 205.2,482C211.5,483.7 216.8,484.7 224.2,485.8C231.6,486.9 241.1,487.5 249.6,488.4C258.1,489.2 266.6,490 275,490.9C283.4,491.8 290.8,492.5 300,493.5C309.2,494.5 319,496.1 330,497C341,497.9 360.2,498.8 366.2,499.2" fill="none" stroke="#1e7fd0" stroke-width="2.0" stroke-linejoin="round" stroke-linecap="round"/>
<path d="M173.5,478.2C179.8,478.6 198.8,479.7 211.5,480.8C224.2,481.9 234.8,483.3 249.6,484.6C264.4,485.9 291.6,487.8 300,488.4" fill="none" stroke="#a8a8a8" stroke-width="1.4" stroke-linejoin="round" stroke-linecap="round"/>
<path d="M240,486C248.3,486.4 274.3,487.7 290,488.4C305.7,489.1 322.8,489.8 334.4,490.3C346,490.8 350.3,490.9 359.8,491.6C369.3,492.3 382,493.9 391.5,494.7C401,495.5 408.8,495.9 416.9,496.6C425,497.3 436.1,498.6 440,499" fill="none" stroke="#e8552a" stroke-width="1.6" stroke-linejoin="round" stroke-linecap="round"/>
<path d="M125.9,562C128.5,560.3 136.9,555.4 141.7,551.8C146.4,548.2 149.1,543.3 154.4,540.4C159.7,537.5 166.1,536.2 173.5,534.1C180.9,532 190.4,529.6 198.8,527.7C207.2,525.8 215.7,524.6 224.2,522.7C232.7,520.8 242,518.7 249.6,516.3C257.2,513.9 263.2,510.2 269.9,508.1C276.6,506.1 280.3,505.2 290,504C299.7,502.8 321.8,501.5 328.1,501" fill="none" stroke="#1c1c1c" stroke-width="2.0" stroke-linejoin="round" stroke-linecap="round"/>
<path d="M125.9,548C128.5,546.1 135.9,538.7 141.7,536.6C147.5,534.5 155.5,536.1 160.8,535.3C166.1,534.4 167.2,533.6 173.5,531.5C179.8,529.4 189.4,525.4 198.8,522.6C208.2,519.9 219.8,517.4 230,515C240.2,512.6 248.3,510.2 260,508C271.7,505.8 293.3,503 300,502" fill="none" stroke="#8b4a3a" stroke-width="1.7" stroke-linejoin="round" stroke-linecap="round"/>
<path d="M125.9,573.4C127.5,570.6 131.7,562.8 135.4,556.9C139.1,551 143.9,544.2 148.1,537.9C152.3,531.5 157.6,523.7 160.8,518.8C164,513.9 163.9,511.5 167.1,508.7C170.3,505.9 174.5,503.4 180,502C185.5,500.6 196.7,500.3 200,500" fill="none" stroke="#1e7fd0" stroke-width="1.7" stroke-linejoin="round" stroke-linecap="round"/>
<path d="M125.9,549.9C127.5,548.3 132.6,542.2 135.4,540.4C138.2,538.6 139.7,539.9 143,539.2C146.3,538.5 149.7,537.9 155,536C160.3,534.1 167.5,530.7 175,528C182.5,525.3 189.2,523 200,520C210.8,517 226.7,512.8 240,510C253.3,507.2 273.3,504.2 280,503" fill="none" stroke="#e8552a" stroke-width="1.6" stroke-linejoin="round" stroke-linecap="round"/>
<path d="M125.9,518.8C129.6,518.4 138.1,517.3 148.1,516.3C158.1,515.2 173.5,513.5 186.2,512.5C198.9,511.4 211.5,511.1 224.2,510C236.9,508.9 249.7,507.5 262.3,506.2C274.9,504.9 288.7,502.9 300,502C311.3,501.1 325,500.8 330,500.5" fill="none" stroke="#1c1c1c" stroke-width="1.9" stroke-linejoin="round" stroke-linecap="round"/>
<path d="M260,494C265,494.1 278.3,494.2 290,494.7C301.7,495.2 317.3,496.2 330,497C342.7,497.8 360.2,498.8 366.2,499.2" fill="none" stroke="#12c0dc" stroke-width="3.2" stroke-linejoin="round" stroke-linecap="round"/>
<path d="M250,505C256.7,504.4 277,502.3 290,501.5C303,500.7 321.8,500.6 328.1,500.4" fill="none" stroke="#c2185b" stroke-width="3.0" stroke-linejoin="round" stroke-linecap="round"/>
<path d="M270,510C273.3,509.8 280.3,510 290,508.7C299.7,507.4 316.4,503.7 328.1,502.3C339.8,500.9 354.7,500.8 360,500.5" fill="none" stroke="#1c1c1c" stroke-width="1.8" stroke-linejoin="round" stroke-linecap="round"/>
<path d="M330,500.3C338.1,500.3 363.2,500.6 378.8,500.4C394.4,500.2 410.3,499.3 423.3,499.2C436.3,499.1 451.3,499.7 456.9,499.8" fill="none" stroke="#e03030" stroke-width="2.0" stroke-linejoin="round" stroke-linecap="round"/>
<path d="M126.2,902.4C129.2,901.5 138.1,898.7 144,897.2C150,895.7 155.9,894.4 161.9,893.2C167.8,891.9 173.7,891 179.7,889.9C185.6,888.8 191.6,887.7 197.5,886.5C203.4,885.2 209.4,883.8 215.3,882.3C221.3,880.9 227.2,879.3 233.2,878C239.1,876.6 248,875 251,874.4" fill="none" stroke="#12c0dc" stroke-width="1.5" stroke-linejoin="round" stroke-linecap="round"/>
<path d="M126.2,866.6C130.2,866.7 142.1,867 150,867.5C157.9,868 165.9,868.7 173.8,869.4C181.7,870.1 189.7,871 197.6,871.7C205.5,872.3 213.5,873 221.4,873.3C229.3,873.7 237.3,873.7 245.2,873.8C253.1,873.8 261.1,873.6 269,873.7C276.9,873.8 288.8,874.3 292.8,874.4" fill="none" stroke="#12c0dc" stroke-width="1.5" stroke-linejoin="round" stroke-linecap="round"/>
<path d="M126.2,873.5C129.4,873.8 139,875 145.4,875.3C151.9,875.6 158.3,875.5 164.7,875.4C171.1,875.2 177.5,874.5 183.9,874.2C190.4,873.8 196.8,873.3 203.2,873.1C209.6,873 216,873 222.4,873.2C228.8,873.3 235.3,873.7 241.7,873.9C248.1,874.1 257.7,874.3 260.9,874.4" fill="none" stroke="#12c0dc" stroke-width="1.5" stroke-linejoin="round" stroke-linecap="round"/>
<path d="M126.2,863.9C129.4,864 138.9,864 145.2,864.3C151.6,864.6 157.9,865.2 164.3,866C170.6,866.7 177,867.7 183.3,868.6C189.7,869.4 196,870.4 202.3,871.1C208.7,871.9 215,872.5 221.4,873C227.7,873.4 234.1,873.7 240.4,873.9C246.8,874.2 256.3,874.3 259.5,874.4" fill="none" stroke="#e0306a" stroke-width="1.5" stroke-linejoin="round" stroke-linecap="round"/>
<path d="M126.2,854.7C129.8,855.1 140.8,856.1 148.1,856.8C155.3,857.5 162.6,858.2 169.9,859C177.2,859.8 184.5,860.6 191.8,861.5C199.1,862.4 206.3,863.4 213.6,864.5C220.9,865.5 228.2,866.7 235.5,867.8C242.8,868.9 250.1,870.1 257.3,871.2C264.6,872.3 275.5,873.9 279.2,874.4" fill="none" stroke="#1e7fd0" stroke-width="1.5" stroke-linejoin="round" stroke-linecap="round"/>
<path d="M126.2,907.7C129.3,906.5 138.4,902.6 144.6,900.5C150.7,898.4 156.8,896.7 162.9,895.2C169.1,893.7 175.2,892.7 181.3,891.5C187.4,890.4 193.6,889.4 199.7,888.3C205.8,887.1 211.9,885.8 218.1,884.4C224.2,883 230.3,881.4 236.4,879.7C242.6,878.1 251.7,875.3 254.8,874.4" fill="none" stroke="#223a8c" stroke-width="1.5" stroke-linejoin="round" stroke-linecap="round"/>
<path d="M126.2,909.6C131,908.8 145.5,906.6 155.2,904.8C164.9,903.1 174.5,901.2 184.2,899.2C193.8,897.2 203.5,895 213.2,892.9C222.8,890.8 232.5,888.6 242.2,886.6C251.8,884.7 261.5,882.8 271.1,881.2C280.8,879.5 290.5,878 300.1,876.9C309.8,875.8 324.3,874.8 329.1,874.4" fill="none" stroke="#27a59a" stroke-width="1.5" stroke-linejoin="round" stroke-linecap="round"/>
<path d="M126.2,877.8C129.5,877.9 139.6,878.1 146.3,878C152.9,877.8 159.6,877.5 166.3,877.2C173,876.8 179.7,876.2 186.4,875.8C193.1,875.4 199.8,874.9 206.4,874.7C213.1,874.5 219.8,874.4 226.5,874.4C233.2,874.3 239.9,874.5 246.6,874.5C253.2,874.5 263.3,874.4 266.6,874.4" fill="none" stroke="#1c1c1c" stroke-width="1.5" stroke-linejoin="round" stroke-linecap="round"/>
<path d="M126.2,884.4C129.2,884.2 138.3,883.6 144.4,883.1C150.4,882.6 156.5,882 162.5,881.4C168.6,880.8 174.6,880.1 180.7,879.5C186.7,878.9 192.8,878.3 198.8,877.8C204.9,877.3 210.9,876.9 217,876.5C223,876.1 229.1,875.8 235.2,875.5C241.2,875.1 250.3,874.6 253.3,874.4" fill="none" stroke="#3fbf6f" stroke-width="1.5" stroke-linejoin="round" stroke-linecap="round"/>
<path d="M126.2,893.9C129.8,893.2 140.4,891.1 147.5,889.7C154.6,888.3 161.7,886.8 168.8,885.5C175.9,884.1 183,882.6 190.1,881.5C197.2,880.3 204.3,879.2 211.4,878.4C218.5,877.5 225.6,876.9 232.7,876.4C239.8,875.9 246.9,875.6 254,875.2C261.1,874.9 271.8,874.5 275.3,874.4" fill="none" stroke="#f08a80" stroke-width="1.5" stroke-linejoin="round" stroke-linecap="round"/>
<path d="M126.2,870.3C129.5,870.2 139.3,869.9 145.9,870C152.5,870.1 159,870.5 165.6,871C172.2,871.4 178.7,872.2 185.3,872.7C191.9,873.2 198.4,873.8 205,874.1C211.6,874.5 218.1,874.5 224.7,874.6C231.3,874.6 237.8,874.4 244.4,874.4C251,874.4 260.8,874.4 264.1,874.4" fill="none" stroke="#27a59a" stroke-width="1.5" stroke-linejoin="round" stroke-linecap="round"/>
<path d="M126.2,862.8C129.2,863.5 138.2,865.8 144.2,867C150.2,868.1 156.2,869 162.2,869.6C168.2,870.3 174.2,870.6 180.2,870.9C186.2,871.2 192.3,871.3 198.3,871.5C204.3,871.8 210.3,871.9 216.3,872.2C222.3,872.5 228.3,872.8 234.3,873.2C240.3,873.6 249.3,874.2 252.3,874.4" fill="none" stroke="#c2185b" stroke-width="1.5" stroke-linejoin="round" stroke-linecap="round"/>
<path d="M126.2,869.2C130.9,869.2 144.9,869 154.3,869.1C163.6,869.1 173,869.3 182.4,869.5C191.7,869.7 201.1,870.1 210.5,870.5C219.8,870.9 229.2,871.4 238.5,871.8C247.9,872.3 257.3,872.7 266.6,873.1C276,873.5 285.4,873.8 294.7,874C304.1,874.2 318.1,874.3 322.8,874.4" fill="none" stroke="#223a8c" stroke-width="1.5" stroke-linejoin="round" stroke-linecap="round"/>
<path d="M126.2,879.7C129.8,879.6 140.5,879.1 147.7,878.9C154.9,878.8 162,878.7 169.2,878.6C176.4,878.6 183.5,878.6 190.7,878.6C197.9,878.5 205,878.4 212.2,878.2C219.4,877.9 226.5,877.5 233.7,877.1C240.9,876.7 248,876.2 255.2,875.7C262.4,875.3 273.1,874.6 276.7,874.4" fill="none" stroke="#3fbf6f" stroke-width="1.5" stroke-linejoin="round" stroke-linecap="round"/>
<path d="M126.2,901.8C131,901.2 145.5,899.6 155.1,898.3C164.8,897 174.4,895.6 184,894.2C193.7,892.8 203.3,891.3 213,889.9C222.6,888.4 232.2,887 241.9,885.7C251.5,884.4 261.2,883.2 270.8,882C280.4,880.7 290.1,879.7-0.0j 299.7,878.4C309.4,877.2+0.0j 323.8,875.1+0.0j 328.6,874.4+0.0j" fill="none" stroke="#3fbf6f" stroke-width="1.5" stroke-linejoin="round" stroke-linecap="round"/>
<path d="M126.2,907.2C129.4,906.4 139.1,904.4 145.6,902.8C152.1,901.1 158.6,899.2 165,897.2C171.5,895.2 178,893 184.5,890.9C190.9,888.9 197.4,886.8 203.9,885C210.4,883.3 216.8,881.7 223.3,880.3C229.8,879 236.3,877.8 242.7,876.8C249.2,875.8 258.9,874.8 262.1,874.4" fill="none" stroke="#4fc3f7" stroke-width="1.5" stroke-linejoin="round" stroke-linecap="round"/>
<path d="M126.2,871.6C130.1,871.9 141.7,872.9 149.5,873.3C157.3,873.7 165,873.8 172.8,873.8C180.5,873.9 188.3,873.6 196.1,873.5C203.8,873.4 211.6,873.2 219.4,873.2C227.1,873.2 234.9,873.3 242.6,873.4C250.4,873.6 258.2,873.9 265.9,874C273.7,874.2 285.3,874.3 289.2,874.4" fill="none" stroke="#4fc3f7" stroke-width="1.5" stroke-linejoin="round" stroke-linecap="round"/>
<path d="M126.2,853.8C130.5,854.5 143.3,856.7 151.8,858C160.3,859.3 168.9,860.3 177.4,861.3C185.9,862.4 194.5,863.2 203,864.1C211.5,865 220.1,865.9 228.6,866.9C237.2,867.8 245.7,868.9 254.2,869.9C262.8,870.9 271.3,872 279.8,872.8C288.4,873.5 301.2,874.1 305.4,874.4" fill="none" stroke="#1c1c1c" stroke-width="1.5" stroke-linejoin="round" stroke-linecap="round"/>
<path d="M126.2,911.4C129.8,910.1 140.6,905.8 147.9,903.5C155.1,901.2 162.3,899.2 169.5,897.4C176.8,895.6 184,894.2 191.2,892.7C198.4,891.2 205.7,889.9 212.9,888.4C220.1,886.9 227.3,885.4 234.6,883.8C241.8,882.2 249,880.4 256.2,878.8C263.4,877.3 274.3,875.1 277.9,874.4" fill="none" stroke="#12c0dc" stroke-width="1.5" stroke-linejoin="round" stroke-linecap="round"/>
<path d="M126.2,872.4C129.4,873 139,875.1 145.4,875.9C151.8,876.7 158.2,877 164.6,877.1C171,877.2 177.4,876.7 183.8,876.4C190.2,876 196.6,875.4 203,875.1C209.4,874.7 215.8,874.4 222.2,874.3C228.6,874.2 235,874.2 241.4,874.2C247.8,874.3 257.4,874.4 260.6,874.4" fill="none" stroke="#223a8c" stroke-width="1.5" stroke-linejoin="round" stroke-linecap="round"/>
<path d="M126.2,861.5C129.5,861.6 139.5,861.7 146.1,862C152.7,862.3 159.4,862.8 166,863.3C172.6,863.9 179.3,864.6 185.9,865.4C192.5,866.1 199.1,867 205.8,867.8C212.4,868.6 219,869.5 225.7,870.3C232.3,871 238.9,871.8 245.6,872.5C252.2,873.2 262.1,874.1 265.5,874.4" fill="none" stroke="#8e3fb0" stroke-width="1.5" stroke-linejoin="round" stroke-linecap="round"/>
<path d="M126.2,866.6C130.1,866.5 141.9,865.8 149.8,865.7C157.6,865.7 165.5,866 173.3,866.4C181.2,866.9 189,867.7 196.9,868.5C204.7,869.2 212.6,870.1 220.4,870.8C228.3,871.5 236.1,872.1 244,872.6C251.8,873.1 259.7,873.4 267.5,873.7C275.4,874 287.1,874.3 291.1,874.4" fill="none" stroke="#4fc3f7" stroke-width="1.5" stroke-linejoin="round" stroke-linecap="round"/>
<path d="M126.2,866.3C130,866.1 141.5,864.9 149.2,864.8C156.8,864.6 164.5,864.9 172.1,865.3C179.8,865.8 187.4,866.8 195.1,867.6C202.7,868.4 210.4,869.5 218,870.3C225.7,871.1 233.3,871.8 241,872.4C248.7,872.9 256.3,873.3 264,873.6C271.6,873.9 283.1,874.3 286.9,874.4" fill="none" stroke="#223a8c" stroke-width="1.5" stroke-linejoin="round" stroke-linecap="round"/>
<path d="M126.2,895.7C129.8,895.3 140.6,894.2 147.8,893.2C155.1,892.2 162.3,891.1 169.5,889.9C176.7,888.7 183.9,887.3 191.1,886.1C198.4,884.8 205.6,883.5 212.8,882.5C220,881.4 227.2,880.4 234.4,879.5C241.7,878.6 248.9,877.8+0.0j 256.1,877C263.3,876.1-0.0j 274.1,874.8-0.0j 277.7,874.4-0.0j" fill="none" stroke="#12c0dc" stroke-width="1.5" stroke-linejoin="round" stroke-linecap="round"/>
<path d="M126.2,901.8C130.8,900.8 144.5,897.5 153.6,895.6C162.8,893.7 171.9,892.1 181.1,890.6C190.2,889.1 199.4,887.9 208.5,886.7C217.7,885.5 226.8,884.5 235.9,883.5C245.1,882.4 254.2,881.4 263.4,880.4C272.5,879.3 281.7,878.2 290.8,877.2C300,876.2 313.7,874.9 318.3,874.4" fill="none" stroke="#c2185b" stroke-width="1.5" stroke-linejoin="round" stroke-linecap="round"/>
<path d="M126.2,858.1C129.5,858.8 139.6,861.3 146.2,862.5C152.9,863.7 159.6,864.5 166.3,865.1C172.9,865.8 179.6,866 186.3,866.4C193,866.8 199.6,867 206.3,867.6C213,868.1 219.7,868.7 226.3,869.5C233,870.2 239.7,871.2 246.4,872C253,872.9 263,874 266.4,874.4" fill="none" stroke="#c2185b" stroke-width="1.5" stroke-linejoin="round" stroke-linecap="round"/>
<path d="M126.2,861.2C130.5,861.8 143.6,863.9 152.3,864.8C161,865.7 169.7,866.3 178.4,866.7C187.1,867.1 195.8,867.1 204.5,867.3C213.2,867.5 221.9,867.5 230.5,867.9C239.2,868.2 247.9,868.7 256.6,869.3C265.3,869.9 274,870.7+0.0j 282.7,871.6C291.4,872.4-0.0j 304.5,873.9-0.0j 308.8,874.4-0.0j" fill="none" stroke="#c2185b" stroke-width="1.5" stroke-linejoin="round" stroke-linecap="round"/>
<path d="M126.2,877.7C130.2,877.1 142.1,874.9 150,874.1C158,873.3 165.9,873 173.8,872.9C181.8,872.8 189.7,873.3 197.6,873.6C205.6,873.9 213.5,874.5 221.5,874.7C229.4,875 237.3,875.1 245.3,875.1C253.2,875.1 261.2,874.9 269.1,874.8C277,874.6 288.9,874.5 292.9,874.4" fill="none" stroke="#1c1c1c" stroke-width="1.5" stroke-linejoin="round" stroke-linecap="round"/>
<path d="M126.2,895.1C129.9,894.7 140.9,893.4 148.3,892.5C155.6,891.5 163,890.4 170.4,889.3C177.7,888.2 185.1,887 192.4,885.9C199.8,884.7 207.1,883.6 214.5,882.6C221.9,881.6 229.2,880.7 236.6,879.9C243.9,879 251.3,878.2 258.7,877.3C266,876.4 277.1,874.9 280.7,874.4" fill="none" stroke="#c2185b" stroke-width="1.5" stroke-linejoin="round" stroke-linecap="round"/>
<path d="M126.2,893.7C129.4,893.4 138.8,892.6 145.2,891.7C151.5,890.9 157.8,889.9 164.1,888.7C170.5,887.6 176.8,886.1 183.1,884.8C189.4,883.5 195.8,882.1 202.1,880.9C208.4,879.7 214.7,878.5 221,877.6C227.4,876.7 233.7,875.9 240,875.4C246.3,874.9 255.8,874.6 259,874.4" fill="none" stroke="#f08a80" stroke-width="1.5" stroke-linejoin="round" stroke-linecap="round"/>
<path d="M126.2,855.8C130.1,855.7 141.8,855.1 149.6,855.4C157.4,855.7 165.2,856.5 173,857.5C180.8,858.5 188.6,860 196.4,861.4C204.2,862.8 212,864.4 219.8,865.7C227.6,867.1 235.4,868.3 243.2,869.3C251,870.3 258.8,871.1 266.6,872C274.4,872.8 286.1,874 290,874.4" fill="none" stroke="#1c1c1c" stroke-width="1.5" stroke-linejoin="round" stroke-linecap="round"/>
<path d="M126.2,862.1C129.4,862.7 139.2,864.4 145.6,865.5C152.1,866.6 158.6,867.7 165.1,868.6C171.6,869.6 178.1,870.6 184.5,871.3C191,872.1 197.5,872.7 204,873.1C210.5,873.5 216.9,873.7 223.4,873.9C229.9,874.1 236.4,874.1 242.9,874.1C249.4,874.2 259.1,874.4 262.3,874.4" fill="none" stroke="#c2185b" stroke-width="1.5" stroke-linejoin="round" stroke-linecap="round"/>
<path d="M126.2,887C130.6,886.6 143.8,885.1 152.5,884.3C161.3,883.4 170.1,882.7 178.9,882C187.7,881.3 196.5,880.7 205.2,880.1C214,879.4 222.8,878.9 231.6,878.3C240.4,877.7 249.1,877.1 257.9,876.6C266.7,876.1 275.5,875.5+0.0j 284.3,875.2C293,874.8-0.0j 306.2,874.5-0.0j 310.6,874.4-0.0j" fill="none" stroke="#223a8c" stroke-width="1.5" stroke-linejoin="round" stroke-linecap="round"/>
<path d="M126.2,891.8C131,891.7 145.4,891.6 155,891.1C164.6,890.6 174.1,889.9 183.7,889.1C193.3,888.2 202.9,887 212.5,886C222.1,884.9 231.7,883.7 241.3,882.7C250.8,881.7 260.4,880.7 270,879.8C279.6,878.9 289.2,878.1 298.8,877.2C308.4,876.3 322.8,874.9 327.6,874.4" fill="none" stroke="#3fbf6f" stroke-width="1.5" stroke-linejoin="round" stroke-linecap="round"/>
<path d="M126.2,872.2C129.3,872.2 138.7,872.2 145,872.2C151.2,872.2 157.5,872.2 163.8,872.3C170,872.3 176.3,872.4 182.5,872.4C188.8,872.5 195.1,872.7 201.3,872.8C207.6,873 213.9,873.2 220.1,873.4C226.4,873.6 232.6,873.8 238.9,873.9C245.2,874.1 254.5,874.3 257.7,874.4" fill="none" stroke="#c2185b" stroke-width="1.5" stroke-linejoin="round" stroke-linecap="round"/>
<path d="M126.2,874C130.4,873.8 143.1,873.1 151.6,872.9C160,872.7 168.5,872.6 177,872.6C185.4,872.6 193.9,872.8 202.3,873C210.8,873.1 219.3,873.4 227.7,873.6C236.2,873.8 244.6,874 253.1,874.1C261.6,874.2 270,874.3 278.5,874.3C286.9,874.4 299.6,874.4 303.9,874.4" fill="none" stroke="#4fc3f7" stroke-width="1.5" stroke-linejoin="round" stroke-linecap="round"/>
<path d="M126.2,858.2C129.6,858.5 139.6,859.4 146.3,860C153,860.7 159.7,861.4 166.5,862.1C173.2,862.9 179.9,863.8 186.6,864.7C193.3,865.6 200,866.6 206.7,867.6C213.4,868.5 220.1,869.6 226.8,870.5C233.5,871.4 240.2,872.4 247,873C253.7,873.7 263.7,874.2 267.1,874.4" fill="none" stroke="#8e3fb0" stroke-width="1.5" stroke-linejoin="round" stroke-linecap="round"/>
<path d="M126.2,860.2C129.6,860.6 139.8,862.1 146.6,863.1C153.4,864 160.2,865.1 167,866C173.9,867 180.7,868 187.5,868.8C194.3,869.6 201.1,870.3 207.9,870.9C214.7,871.5 221.5,871.9 228.3,872.2C235.1,872.6 241.9,872.9 248.7,873.2C255.5,873.6 265.7,874.2 269.2,874.4" fill="none" stroke="#12c0dc" stroke-width="1.5" stroke-linejoin="round" stroke-linecap="round"/>
<path d="M126.2,906.8C130.7,906.4 144.1,905.4 153,904.2C161.9,903 170.8,901.4 179.8,899.6C188.7,897.9 197.6,895.6 206.6,893.6C215.5,891.7 224.4,889.5 233.4,887.7C242.3,885.9 251.2,884.3 260.1,882.8C269.1,881.3 278,880.1 286.9,878.7C295.9,877.3 309.3,875.1 313.7,874.4" fill="none" stroke="#27a59a" stroke-width="1.5" stroke-linejoin="round" stroke-linecap="round"/>
<path d="M126.2,886.4C130.6,886.1 143.8,885.1 152.6,884.5C161.5,883.9 170.3,883.5 179.1,883.1C187.9,882.6 196.7,882.3 205.5,881.8C214.3,881.3 223.1,880.7 232,880.1C240.8,879.4 249.6,878.5 258.4,877.8C267.2,877.1 276,876.1 284.8,875.6C293.7,875 306.9,874.6 311.3,874.4" fill="none" stroke="#3fbf6f" stroke-width="1.5" stroke-linejoin="round" stroke-linecap="round"/>
<path d="M126.2,899.9C130,899.5 141.3,898.5 148.9,897.8C156.5,897 164.1,896.1 171.6,895.2C179.2,894.3 186.8,893.2 194.4,892.1C201.9,891 209.5,889.8 217.1,888.5C224.7,887.2 232.2,885.8 239.8,884.3C247.4,882.9 254.9,881.5-0.0j 262.5,879.8C270.1,878.2+0.0j 281.4,875.3+0.0j 285.2,874.4+0.0j" fill="none" stroke="#1c1c1c" stroke-width="1.5" stroke-linejoin="round" stroke-linecap="round"/>
<path d="M126.2,868.5C130.6,869 143.8,871 152.6,871.8C161.3,872.5 170.1,872.8 178.9,872.9C187.7,873 196.5,872.5 205.3,872.3C214.1,872.1 222.8,871.7 231.6,871.6C240.4,871.5 249.2,871.6 258,871.8C266.8,872.1 275.5,872.5 284.3,873C293.1,873.4 306.3,874.2 310.7,874.4" fill="none" stroke="#4fc3f7" stroke-width="1.5" stroke-linejoin="round" stroke-linecap="round"/>
<path d="M126.2,897.6C129.8,897 140.6,895.2 147.8,894.2C154.9,893.3 162.1,892.6 169.3,891.8C176.5,891.1 183.7,890.7 190.9,890C198.1,889.2 205.2,888.5 212.4,887.5C219.6,886.4 226.8,885.1 234,883.7C241.2,882.3 248.4,880.7 255.6,879.2C262.7,877.6 273.5,875.2 277.1,874.4" fill="none" stroke="#4fc3f7" stroke-width="1.5" stroke-linejoin="round" stroke-linecap="round"/>
<path d="M126.2,859.1C129.9,859.2 141,859.2 148.4,859.6C155.8,860.1 163.1,860.8 170.5,861.7C177.9,862.5 185.3,863.8 192.7,864.9C200.1,866 207.5,867.3 214.9,868.4C222.2,869.4 229.6,870.4 237,871.2C244.4,872 251.8,872.6 259.2,873.2C266.6,873.7 277.7,874.2 281.4,874.4" fill="none" stroke="#12c0dc" stroke-width="1.5" stroke-linejoin="round" stroke-linecap="round"/>
<path d="M126.2,860.6C130.5,861 143.2,862.2 151.7,862.9C160.2,863.7 168.7,864.4 177.2,865.1C185.7,865.7 194.2,866.4 202.7,866.9C211.2,867.5 219.7,868.1 228.2,868.6C236.7,869.1 245.2,869.6 253.7,870.1C262.2,870.7 270.7,871.1+0.0j 279.2,871.8C287.7,872.6-0.0j 300.5,874.0-0.0j 304.7,874.4-0.0j" fill="none" stroke="#e0306a" stroke-width="1.5" stroke-linejoin="round" stroke-linecap="round"/>
<path d="M126.2,854.2C129.4,855.2 139,858.3 145.4,860C151.9,861.7 158.3,863.2 164.7,864.5C171.1,865.9 177.5,866.9 183.9,867.9C190.3,868.9 196.7,869.6 203.2,870.3C209.6,871 216,871.5 222.4,872C228.8,872.6 235.2,873 241.6,873.4C248,873.8 257.7,874.2 260.9,874.4" fill="none" stroke="#c2185b" stroke-width="1.5" stroke-linejoin="round" stroke-linecap="round"/>
<path d="M126.2,872.8C130,872.6 141.3,871.7 148.8,871.5C156.3,871.3 163.8,871.4 171.4,871.6C178.9,871.9 186.4,872.5 193.9,872.9C201.5,873.3 209,873.8 216.5,874.1C224,874.4 231.6,874.6 239.1,874.6C246.6,874.7 254.1,874.6 261.7,874.5C269.2,874.5 280.5,874.4 284.3,874.4" fill="none" stroke="#4fc3f7" stroke-width="1.5" stroke-linejoin="round" stroke-linecap="round"/>
<path d="M126.2,866.7C129.7,866.9 140.3,867.7 147.4,868.1C154.5,868.6 161.5,869.1 168.6,869.5C175.6,869.9 182.7,870.3 189.8,870.6C196.8,871 203.9,871.3 211,871.6C218,871.9 225.1,872.2 232.2,872.4C239.2,872.7 246.3,873 253.3,873.3C260.4,873.6 271,874.2 274.5,874.4" fill="none" stroke="#c2185b" stroke-width="1.5" stroke-linejoin="round" stroke-linecap="round"/>
<path d="M126.2,854.5C129.8,854.8 140.6,855.4 147.8,856.1C155,856.8 162.2,857.8 169.4,858.8C176.6,859.9 183.8,861.3 190.9,862.5C198.1,863.7 205.3,865.1 212.5,866.3C219.7,867.5 226.9,868.6 234.1,869.6C241.3,870.6 248.5,871.5 255.7,872.3C262.9,873.1 273.7,874 277.3,874.4" fill="none" stroke="#1c1c1c" stroke-width="1.5" stroke-linejoin="round" stroke-linecap="round"/>
<path d="M126.2,878.6C130.7,878.9 144.2,880 153.3,880.2C162.3,880.5 171.3,880.4 180.3,880.1C189.4,879.8 198.4,879 207.4,878.4C216.4,877.9 225.4,877.1 234.5,876.6C243.5,876.1 252.5,875.8 261.5,875.5C270.6,875.2 279.6,875.2-0.0j 288.6,875C297.6,874.8+0.0j 311.1,874.5+0.0j 315.7,874.4+0.0j" fill="none" stroke="#3fbf6f" stroke-width="1.5" stroke-linejoin="round" stroke-linecap="round"/>
<path d="M126.2,883C130,883 141.4,883 149.1,882.9C156.7,882.8 164.3,882.5 171.9,882.2C179.5,881.9 187.1,881.5 194.8,881C202.4,880.5 210,879.9 217.6,879.3C225.2,878.7 232.9,878 240.5,877.4C248.1,876.9 255.7,876.2 263.3,875.7C271,875.2 282.4,874.6 286.2,874.4" fill="none" stroke="#8e3fb0" stroke-width="1.5" stroke-linejoin="round" stroke-linecap="round"/>
<path d="M126.2,879.7C129.9,879.4 141.1,878.6 148.6,878.2C156.1,877.7 163.6,877.2 171,876.7C178.5,876.3 186,875.9 193.4,875.6C200.9,875.2 208.4,875 215.8,874.9C223.3,874.7 230.8,874.8 238.3,874.7C245.7,874.7 253.2,874.8 260.7,874.7C268.1,874.7 279.3,874.5 283.1,874.4" fill="none" stroke="#f08a80" stroke-width="1.5" stroke-linejoin="round" stroke-linecap="round"/>
<path d="M126.2,871.4C130.8,871.6 144.4,872.4 153.5,872.8C162.6,873.2 171.7,873.5 180.9,873.7C190,874 199.1,874.1 208.2,874.2C217.3,874.2 226.4,874.2 235.5,874.3C244.6,874.3 253.7,874.2 262.8,874.2C272,874.2 281.1,874.2 290.2,874.3C299.3,874.3 312.9,874.4 317.5,874.4" fill="none" stroke="#1c1c1c" stroke-width="1.5" stroke-linejoin="round" stroke-linecap="round"/>
<path d="M126.2,864.1C131.3,864.5 146.4,865.7 156.5,866.6C166.6,867.4 176.7,868.3 186.8,869.2C197,870 207.1,870.9 217.2,871.5C227.3,872.2 237.4,872.8 247.5,873.2C257.6,873.6 267.7,873.8 277.8,874C287.9,874.1 298,874.1 308.1,874.2C318.2,874.3 333.4,874.4 338.5,874.4" fill="none" stroke="#12c0dc" stroke-width="1.5" stroke-linejoin="round" stroke-linecap="round"/>
<path d="M126.2,888.3C130.5,888 143.4,887.1 152,886.4C160.6,885.8 169.2,885.1 177.8,884.5C186.4,883.8 195,883.1 203.6,882.4C212.2,881.7 220.8,880.9 229.4,880.2C238,879.4 246.6,878.6 255.2,877.9C263.8,877.2 272.3,876.4 280.9,875.8C289.5,875.3 302.4,874.6 306.7,874.4" fill="none" stroke="#e0306a" stroke-width="1.5" stroke-linejoin="round" stroke-linecap="round"/>
<path d="M126.2,888.3C130,887.6 141.2,885.6 148.7,884.5C156.2,883.4 163.8,882.6 171.3,881.9C178.8,881.2 186.3,880.7 193.8,880.2C201.3,879.7 208.8,879.4 216.3,879C223.9,878.5 231.4,878.1 238.9,877.6C246.4,877.1 253.9,876.6+0.0j 261.4,876C268.9,875.5-0.0j 280.2,874.7-0.0j 283.9,874.4-0.0j" fill="none" stroke="#f08a80" stroke-width="1.5" stroke-linejoin="round" stroke-linecap="round"/>
<path d="M126.2,873.4C130.8,873.3 144.6,873.3 153.8,873.2C163,873.2 172.2,873.1 181.4,873.1C190.6,873.1 199.8,873.1 209,873.1C218.2,873.2 227.4,873.3 236.6,873.4C245.8,873.5 255,873.6 264.2,873.8C273.4,873.9 282.6,874.1 291.8,874.2C301,874.3 314.8,874.4 319.4,874.4" fill="none" stroke="#12c0dc" stroke-width="1.5" stroke-linejoin="round" stroke-linecap="round"/>
<path d="M126.2,871.8C131.3,871.6 146.7,871 157,870.8C167.2,870.7 177.5,870.7 187.7,870.9C198,871.1 208.3,871.5 218.5,871.8C228.8,872.2 239,872.6 249.3,872.9C259.6,873.2 269.8,873.5 280.1,873.7C290.3,873.9 300.6,873.9 310.8,874.1C321.1,874.2 336.5,874.3 341.6,874.4" fill="none" stroke="#e0306a" stroke-width="1.5" stroke-linejoin="round" stroke-linecap="round"/>
<path d="M126.2,880.7C131.5,880.4 147.3,879.3 157.8,878.8C168.3,878.4 178.8,878.2 189.4,878.1C199.9,877.9 210.4,878.1 221,878.1C231.5,878 242,878 252.5,877.8C263.1,877.6 273.6,877.2 284.1,876.7C294.7,876.3 305.2,875.6 315.7,875.3C326.3,874.9 342,874.5 347.3,874.4" fill="none" stroke="#27a59a" stroke-width="1.5" stroke-linejoin="round" stroke-linecap="round"/>
<path d="M126.2,868.3C130.7,868.3 144.2,868.3 153.3,868.3C162.3,868.3 171.3,868.4 180.3,868.5C189.3,868.6 198.4,868.7 207.4,868.9C216.4,869.2 225.4,869.5 234.5,869.9C243.5,870.3 252.5,870.9 261.5,871.4C270.5,871.9 279.6,872.5 288.6,873C297.6,873.5 311.1,874.2 315.6,874.4" fill="none" stroke="#12c0dc" stroke-width="1.5" stroke-linejoin="round" stroke-linecap="round"/>
<path d="M126.2,792.7C128.8,794.6 135.9,800.5 141.7,804.1C147.5,807.7 154.5,810.7 160.8,814.3C167.2,817.9 172.4,822.1 179.8,825.7C187.2,829.3 197.8,832.4 205.2,835.8C212.6,839.2 216.8,842.6 224.2,846C231.6,849.4 242.2,853.2 249.6,856.2C257,859.2 261.9,861.8 268.6,863.8C275.3,865.8 282.3,867 290,868C297.7,869 306.7,869.4 315,870C323.3,870.6 329.2,871 340,871.5C350.8,872 366.7,872.6 380,873C393.3,873.4 413.3,873.8 420,874" fill="none" stroke="#e04050" stroke-width="1.8" stroke-linejoin="round" stroke-linecap="round"/>
<path d="M126.2,788.9C128.8,791 137,797.8 141.7,801.6C146.4,805.4 149.1,807.9 154.4,811.7C159.7,815.5 167.2,819.5 173.5,824.4C179.8,829.3 186.2,836.2 192.5,840.9C198.8,845.5 205.4,849 211.5,852.3C217.6,855.6 226.3,859.2 229.3,860.6" fill="none" stroke="#4fc3f7" stroke-width="1.6" stroke-linejoin="round" stroke-linecap="round"/>
<path d="M126.2,842.2C129.8,842.2 140.2,841.9 148.1,842.2C156,842.5 165.1,844.5 173.5,844.1C181.9,843.7 190.4,841 198.8,839.7C207.2,838.4 215.7,836.5 224.2,836.5C232.7,836.5 241.1,837.9 249.6,839.7C258.1,841.5 268.3,845.6 275,847.3C281.7,849 284.3,848.2 290,849.8C295.7,851.4 300.5,855.4 309,856.8C317.5,858.2 329.2,857.1 340.8,858.1C352.4,859.1 366.1,861.1 378.8,862.5C391.5,863.9 406.3,865 416.9,866.3C427.5,867.6 436.8,869 442.3,870.1C447.8,871.2 448.7,872.5 450,873" fill="none" stroke="#4fc3f7" stroke-width="2.0" stroke-linejoin="round" stroke-linecap="round"/>
<path d="M126.2,834.6C129.8,835.5 140.2,837.4 148.1,839.7C156,842 167.2,846 173.5,848.5C179.8,851 182.4,852.4 186.2,854.9C190,857.4 187.9,862.1 196.3,863.8C204.8,865.5 223.8,864.2 236.9,865C250,865.8 264.5,867.6 275,868.8C285.5,870 290.8,871.1 300,872C309.2,872.9 325,873.7 330,874" fill="none" stroke="#1c1c1c" stroke-width="2.0" stroke-linejoin="round" stroke-linecap="round"/>
<path d="M126.2,845.4C129.8,846.4 140.2,848.9 148.1,851.1C156,853.3 165.1,856.6 173.5,858.7C181.9,860.8 190.4,862.5 198.8,863.8C207.2,865.1 213.6,865.5 224.2,866.3C234.8,867.1 251.3,867.8 262.3,868.8C273.3,869.8 282.1,871.1 290,872C297.9,872.9 306.7,873.9 310,874.3" fill="none" stroke="#1c1c1c" stroke-width="1.9" stroke-linejoin="round" stroke-linecap="round"/>
<path d="M126.2,912C129.8,910.9 140.2,907.9 148.1,905.6C156,903.3 165.1,900.3 173.5,898C181.9,895.7 190.4,893.4 198.8,891.7C207.2,890 215.7,889.4 224.2,887.9C232.7,886.4 241.1,884.1 249.6,882.8C258.1,881.5 268.3,880.5 275,880.3C281.7,880.1 284.3,882.4 290,881.5C295.7,880.6 300.7,876.4 309,875.2C317.3,874 315.2,874.6 340,874.5C364.8,874.4 437.9,874.6 457.5,874.6" fill="none" stroke="#1c1c1c" stroke-width="2.0" stroke-linejoin="round" stroke-linecap="round"/>
<path d="M126.2,906.3C129.8,904.9 141.3,901.7 148.1,898C154.9,894.3 160.8,886.9 167.1,884.1C173.4,881.4 179,882.5 186.2,881.5C193.3,880.5 201,878.9 210,878C219,877.1 235,876.3 240,876" fill="none" stroke="#1c1c1c" stroke-width="1.9" stroke-linejoin="round" stroke-linecap="round"/>
<path d="M126.2,920.9C128.8,921.3 135.9,924.7 141.7,923.4C147.5,922.1 154.5,916.5 160.8,913.3C167.2,910.1 173.5,907.6 179.8,904.4C186.1,901.2 192.1,897.4 198.8,894.2C205.5,891 211.5,887.7 220,885C228.5,882.3 245,879.2 250,878" fill="none" stroke="#e04060" stroke-width="1.7" stroke-linejoin="round" stroke-linecap="round"/>
<path d="M173.5,910.7C177.7,909.9 191.4,907.3 198.8,905.6C206.2,903.9 211.6,903.1 217.9,900.6C224.2,898.1 230.7,893.5 236.9,890.4C243.1,887.3 247.8,884.2 255,882C262.2,879.8 275.8,877.8 280,877" fill="none" stroke="#c8c060" stroke-width="1.5" stroke-linejoin="round" stroke-linecap="round"/>
<path d="M173.5,846C179.8,847 200.9,850.4 211.5,852.3C222.1,854.2 226.3,855.5 236.9,857.4C247.5,859.3 266.1,862.3 275,863.8C283.9,865.3 281.1,865.8 290,866.3C298.9,866.8 317.5,866.9 328.1,866.9C338.7,866.9 342.9,865.8 353.5,866C364.1,866.2 378.8,867.1 391.5,868C404.2,868.9 423.6,870.9 430,871.5" fill="none" stroke="#f08a80" stroke-width="1.6" stroke-linejoin="round" stroke-linecap="round"/>
<path d="M249.6,865C252.8,864.7 261.9,863.7 268.6,863.1C275.3,862.5 282.2,861.5 290,861.2C297.8,860.9 304.8,860.7 315.4,861.2C326,861.7 340.8,863.3 353.5,864.4C366.2,865.5 378.8,866.4 391.5,867.6C404.2,868.8 420.7,870.3 429.6,871.4C438.5,872.5 442.4,873.6 445,874" fill="none" stroke="#e0306a" stroke-width="1.8" stroke-linejoin="round" stroke-linecap="round"/>
<path d="M280,880C284.8,880 301,880.2 309,880.3C317,880.3 320.7,880.8 328.1,880.3C335.5,879.8 344.9,878 353.5,877.1C362.1,876.2 375.6,875.4 380,875" fill="none" stroke="#4fc3f7" stroke-width="1.7" stroke-linejoin="round" stroke-linecap="round"/>
<path d="M126.2,860C131.8,860.3 147.7,861 160,862C172.3,863 186.7,864.7 200,866C213.3,867.3 226.7,868.8 240,870C253.3,871.2 273.3,872.5 280,873" fill="none" stroke="#8e3fb0" stroke-width="1.6" stroke-linejoin="round" stroke-linecap="round"/>
<path d="M126.2,880C133.5,880 154.4,880.2 170,880C185.6,879.8 203.3,879.5 220,879C236.7,878.5 256.7,877.6 270,877C283.3,876.4 295,875.8 300,875.5" fill="none" stroke="#12c0dc" stroke-width="3.0" stroke-linejoin="round" stroke-linecap="round"/>
<path d="M126.2,870C133.5,869.7 154.4,868 170,868C185.6,868 203.3,869.3 220,870C236.7,870.7 261.7,871.7 270,872" fill="none" stroke="#e0306a" stroke-width="2.6" stroke-linejoin="round" stroke-linecap="round"/>
<path d="M125.9,1209.9C129.7,1209.9 141.1,1209.9 148.7,1209.7C156.3,1209.4 163.9,1209.1 171.5,1208.6C179.1,1208 186.7,1207.3 194.3,1206.6C201.9,1205.9 209.5,1205 217.1,1204.2C224.7,1203.4 232.3,1202.5 239.9,1201.7C247.5,1200.8 255.1,1200 262.7,1199.3C270.3,1198.5 281.7,1197.4 285.5,1197" fill="none" stroke="#e0306a" stroke-width="1.5" stroke-linejoin="round" stroke-linecap="round"/>
<path d="M125.9,1202.6C130,1202.6 142.4,1202.8 150.7,1202.6C158.9,1202.5 167.2,1202.2 175.4,1201.8C183.7,1201.4 191.9,1200.8 200.2,1200.2C208.4,1199.7 216.7,1199.2 225,1198.7C233.2,1198.3 241.5,1198 249.7,1197.7C258,1197.5 266.2,1197.4 274.5,1197.3C282.7,1197.1 295.1,1197 299.2,1197" fill="none" stroke="#1e7fd0" stroke-width="1.5" stroke-linejoin="round" stroke-linecap="round"/>
<path d="M125.9,1213.6C129.8,1213.1 141.5,1211.7 149.4,1211C157.2,1210.2 165,1209.6 172.8,1209C180.7,1208.5 188.5,1208.1 196.3,1207.5C204.1,1206.9 211.9,1206.4 219.8,1205.6C227.6,1204.9 235.4,1204 243.2,1203.1C251,1202.1 258.9,1201.1 266.7,1200.1C274.5,1199 286.2,1197.5 290.2,1197" fill="none" stroke="#1e7fd0" stroke-width="1.5" stroke-linejoin="round" stroke-linecap="round"/>
<path d="M125.9,1194.4C129.2,1194.5 139.1,1194.8 145.7,1194.9C152.3,1195 158.9,1195 165.5,1195C172.1,1195 178.7,1194.9 185.3,1194.9C191.9,1194.9 198.5,1194.9 205.1,1195.1C211.8,1195.2 218.4,1195.4 225,1195.7C231.6,1195.9 238.2,1196.3 244.8,1196.5C251.4,1196.7 261.3,1196.9 264.6,1197" fill="none" stroke="#4fc3f7" stroke-width="1.5" stroke-linejoin="round" stroke-linecap="round"/>
<path d="M125.9,1190C130.4,1190.1 143.7,1190 152.6,1190.2C161.6,1190.4 170.5,1190.9 179.4,1191.4C188.3,1191.8 197.2,1192.5 206.1,1193.1C215,1193.6 224,1194.2 232.9,1194.7C241.8,1195.1 250.7,1195.3 259.6,1195.5C268.5,1195.8 277.4,1195.8 286.4,1196.1C295.3,1196.3 308.6,1196.8 313.1,1197" fill="none" stroke="#12c0dc" stroke-width="1.5" stroke-linejoin="round" stroke-linecap="round"/>
<path d="M125.9,1182.6C130.3,1182.9 143.4,1183.7 152.2,1184.2C161,1184.7 169.8,1185.2 178.5,1185.7C187.3,1186.3 196.1,1186.8 204.8,1187.3C213.6,1187.9 222.4,1188.5 231.2,1189.2C239.9,1189.9 248.7,1190.7 257.5,1191.5C266.2,1192.3 275,1193.1 283.8,1194.1C292.6,1195 305.7,1196.5 310.1,1197" fill="none" stroke="#12c0dc" stroke-width="1.5" stroke-linejoin="round" stroke-linecap="round"/>
<path d="M125.9,1188.1C129.8,1188 141.5,1187.6 149.3,1187.6C157.1,1187.7 164.9,1188.1 172.7,1188.5C180.5,1189 188.3,1189.9 196.1,1190.5C203.9,1191.2 211.7,1192 219.6,1192.7C227.4,1193.3 235.2,1193.8 243,1194.3C250.8,1194.7 258.6,1195 266.4,1195.4C274.2,1195.9 285.9,1196.7 289.8,1197" fill="none" stroke="#4fc3f7" stroke-width="1.5" stroke-linejoin="round" stroke-linecap="round"/>
<path d="M125.9,1192.1C129.7,1191.9 141.3,1191.1 149,1191.1C156.7,1191 164.4,1191.3 172.1,1191.7C179.8,1192 187.5,1192.8 195.2,1193.5C202.9,1194.1 210.6,1194.8 218.3,1195.3C226,1195.8 233.7,1196.1 241.4,1196.4C249.1,1196.6 256.8,1196.6 264.5,1196.7C272.2,1196.8 283.7,1197 287.6,1197" fill="none" stroke="#12c0dc" stroke-width="1.5" stroke-linejoin="round" stroke-linecap="round"/>
<path d="M125.9,1183.6C129.1,1183.9 138.8,1184.5 145.2,1185.1C151.7,1185.7 158.1,1186.5 164.6,1187.2C171,1188 177.5,1188.9 183.9,1189.7C190.3,1190.6 196.8,1191.4 203.2,1192.1C209.7,1192.9 216.1,1193.5 222.6,1194.1C229,1194.7 235.5,1195.1 241.9,1195.6C248.3,1196.1 258,1196.8 261.2,1197" fill="none" stroke="#1e7fd0" stroke-width="1.5" stroke-linejoin="round" stroke-linecap="round"/>
<path d="M125.9,1192.3C130.7,1192.1 144.9,1190.9 154.4,1190.6C163.9,1190.3 173.4,1190.4 182.9,1190.7C192.4,1191 201.9,1191.7 211.4,1192.3C220.9,1192.9 230.4,1193.7 239.9,1194.3C249.4,1194.8 258.9,1195.3 268.4,1195.7C277.9,1196.1 287.4,1196.2 296.9,1196.5C306.4,1196.7 320.7,1196.9 325.4,1197" fill="none" stroke="#1e7fd0" stroke-width="1.5" stroke-linejoin="round" stroke-linecap="round"/>
<path d="M125.9,1191.5C130.3,1192.2 143.7,1194.3 152.6,1195.2C161.5,1196.1 170.4,1196.6 179.2,1196.8C188.1,1197.1 197,1196.8 205.9,1196.7C214.8,1196.6 223.7,1196.2 232.6,1196.1C241.5,1196 250.4,1196 259.3,1196.1C268.2,1196.2 277.1,1196.5 285.9,1196.6C294.8,1196.8 308.2,1196.9 312.6,1197" fill="none" stroke="#12c0dc" stroke-width="1.5" stroke-linejoin="round" stroke-linecap="round"/>
<path d="M125.9,1201.2C130.7,1200.8 145,1199.8 154.6,1199.2C164.1,1198.7 173.7,1198.2 183.2,1197.9C192.8,1197.5 202.4,1197.3 211.9,1197.1C221.5,1197 231,1196.9 240.6,1196.9C250.1,1196.9 259.7,1196.9 269.2,1197C278.8,1197 288.4,1197.1 297.9,1197.1C307.5,1197.1 321.8,1197 326.6,1197" fill="none" stroke="#4fc3f7" stroke-width="1.5" stroke-linejoin="round" stroke-linecap="round"/>
<path d="M125.9,1209.4C130.8,1209.3 145.5,1209 155.3,1208.7C165.1,1208.3 175,1207.7 184.8,1207.1C194.6,1206.4 204.4,1205.6 214.2,1204.8C224,1204 233.8,1203.1 243.6,1202.3C253.4,1201.5 263.3,1200.8 273.1,1200.1C282.9,1199.5 292.7,1198.9 302.5,1198.3C312.3,1197.8 327,1197.2 331.9,1197" fill="none" stroke="#e8552a" stroke-width="1.5" stroke-linejoin="round" stroke-linecap="round"/>
<path d="M125.9,1217C130.5,1216.6 144.2,1215.7 153.4,1214.8C162.5,1213.9 171.7,1212.7 180.8,1211.4C190,1210.1 199.1,1208.5 208.3,1207.2C217.4,1205.8 226.6,1204.4 235.7,1203.2C244.9,1202.1 254,1201.1 263.2,1200.3C272.3,1199.4 281.5,1198.8 290.7,1198.3C299.8,1197.7 313.5,1197.2 318.1,1197" fill="none" stroke="#1c1c1c" stroke-width="1.5" stroke-linejoin="round" stroke-linecap="round"/>
<path d="M125.9,1185.1C129.5,1185.5 140.3,1186.9 147.5,1187.8C154.7,1188.6 161.9,1189.4 169.1,1190.2C176.3,1190.9 183.5,1191.6 190.7,1192.2C197.9,1192.8 205.1,1193.2 212.3,1193.7C219.5,1194.1 226.7,1194.4 233.9,1194.8C241.1,1195.1 248.3,1195.4 255.5,1195.8C262.8,1196.1 273.6,1196.8 277.2,1197" fill="none" stroke="#e0306a" stroke-width="1.5" stroke-linejoin="round" stroke-linecap="round"/>
<path d="M125.9,1190C130.4,1189.8 143.9,1188.7 152.9,1188.5C161.9,1188.3 170.9,1188.5 180,1188.9C189,1189.3 198,1190.2 207,1190.9C216,1191.6 225,1192.6 234,1193.2C243,1193.9 252,1194.5 261,1195C270,1195.4 279.1,1195.7 288.1,1196C297.1,1196.4 310.6,1196.8 315.1,1197" fill="none" stroke="#12c0dc" stroke-width="1.5" stroke-linejoin="round" stroke-linecap="round"/>
<path d="M125.9,1209.4C129.9,1209.1 141.8,1208 149.7,1207.3C157.6,1206.5 165.6,1205.7 173.5,1204.9C181.4,1204.1 189.4,1203.2 197.3,1202.5C205.2,1201.7 213.2,1200.9 221.1,1200.3C229,1199.6 237,1199.1 244.9,1198.6C252.8,1198.2 260.8,1197.8 268.7,1197.5C276.6,1197.3 288.5,1197.1 292.5,1197" fill="none" stroke="#8e3fb0" stroke-width="1.5" stroke-linejoin="round" stroke-linecap="round"/>
<path d="M125.9,1210C129.6,1209.7 140.7,1208.9 148.1,1208.1C155.5,1207.3 162.9,1206.3 170.3,1205.3C177.7,1204.3 185.1,1203 192.5,1202C199.9,1201.1 207.3,1200.1 214.7,1199.5C222.1,1198.8 229.5,1198.4 236.9,1198.1C244.3,1197.8 251.7,1197.7 259.1,1197.5C266.5,1197.3 277.6,1197.1 281.3,1197" fill="none" stroke="#1c1c1c" stroke-width="1.5" stroke-linejoin="round" stroke-linecap="round"/>
<path d="M125.9,1197.1C130,1197.5 142.4,1198.8 150.7,1199.3C158.9,1199.8 167.2,1199.9 175.4,1199.9C183.7,1199.9 191.9,1199.5 200.2,1199.2C208.4,1198.9 216.7,1198.4 224.9,1198.1C233.2,1197.7 241.4,1197.5 249.7,1197.3C257.9,1197.1 266.2,1197.1 274.4,1197C282.7,1197 295.1,1197 299.2,1197" fill="none" stroke="#1e7fd0" stroke-width="1.5" stroke-linejoin="round" stroke-linecap="round"/>
<path d="M125.9,1190.7C129.3,1190.7 139.6,1190.6 146.4,1190.6C153.2,1190.6 160,1190.7 166.9,1190.9C173.7,1191.1 180.5,1191.4 187.4,1191.7C194.2,1192.1 201,1192.5 207.8,1193C214.7,1193.4 221.5,1193.9 228.3,1194.4C235.1,1194.9 242,1195.3 248.8,1195.8C255.6,1196.2 265.9,1196.8 269.3,1197" fill="none" stroke="#12c0dc" stroke-width="1.5" stroke-linejoin="round" stroke-linecap="round"/>
<path d="M125.9,1182.8C129.8,1183.2 141.3,1184.3 149,1185C156.8,1185.8 164.5,1186.4 172.2,1187.1C179.9,1187.9 187.6,1188.5 195.3,1189.3C203,1190 210.8,1190.8 218.5,1191.6C226.2,1192.4 233.9,1193.2 241.6,1194C249.3,1194.7 257,1195.5 264.8,1196C272.5,1196.5 284,1196.8 287.9,1197" fill="none" stroke="#a8a8a8" stroke-width="1.5" stroke-linejoin="round" stroke-linecap="round"/>
<path d="M125.9,1201.8C129.4,1201.8 139.8,1201.6 146.8,1201.5C153.8,1201.4 160.7,1201.3 167.7,1201.2C174.6,1201.1 181.6,1201 188.6,1200.8C195.5,1200.6 202.5,1200.4 209.5,1200C216.4,1199.7 223.4,1199.2 230.3,1198.8C237.3,1198.4 244.3,1197.9 251.2,1197.6C258.2,1197.3 268.6,1197.1 272.1,1197" fill="none" stroke="#223a8c" stroke-width="1.5" stroke-linejoin="round" stroke-linecap="round"/>
<path d="M125.9,1193.6C130.6,1193.8 144.7,1194.3 154.1,1194.7C163.5,1195.1 172.9,1195.5 182.3,1195.9C191.7,1196.2 201.1,1196.6 210.5,1196.9C219.9,1197.2 229.3,1197.4 238.7,1197.5C248.1,1197.5 257.5,1197.5 266.9,1197.4C276.3,1197.4 285.7,1197.2 295.1,1197.1C304.5,1197 318.6,1197 323.3,1197" fill="none" stroke="#e8552a" stroke-width="1.5" stroke-linejoin="round" stroke-linecap="round"/>
<path d="M125.9,1188.1C129.6,1188.2 140.5,1188.6 147.8,1189C155.1,1189.3 162.4,1189.7 169.7,1190.2C177,1190.6 184.3,1191.1 191.6,1191.7C198.9,1192.2 206.2,1192.8 213.5,1193.3C220.8,1193.8 228.1,1194.4 235.4,1194.9C242.7,1195.4 250,1195.9 257.3,1196.2C264.7,1196.6 275.6,1196.9 279.3,1197" fill="none" stroke="#f08a80" stroke-width="1.5" stroke-linejoin="round" stroke-linecap="round"/>
<path d="M125.9,1212.2C129.4,1211.6 140,1209.6 147,1208.4C154,1207.3 161.1,1206.2 168.1,1205.3C175.1,1204.4 182.2,1203.7 189.2,1203C196.3,1202.3 203.3,1201.7 210.3,1201.2C217.4,1200.6 224.4,1200.2 231.4,1199.7C238.5,1199.2 245.5,1198.8 252.5,1198.3C259.6,1197.9 270.1,1197.2 273.6,1197" fill="none" stroke="#27a59a" stroke-width="1.5" stroke-linejoin="round" stroke-linecap="round"/>
<path d="M125.9,1187.2C129.1,1187.4 138.6,1187.7 145,1188.2C151.3,1188.7 157.7,1189.4 164,1190.2C170.4,1191 176.7,1192 183.1,1192.8C189.4,1193.6 195.8,1194.5 202.2,1195.1C208.5,1195.6 214.9,1196 221.2,1196.3C227.6,1196.5 233.9,1196.6 240.3,1196.7C246.6,1196.8 256.2,1196.9 259.3,1197" fill="none" stroke="#1c1c1c" stroke-width="1.5" stroke-linejoin="round" stroke-linecap="round"/>
<path d="M125.9,1197.1C129.8,1197.1 141.3,1197 149.1,1197.1C156.8,1197.1 164.5,1197.1 172.2,1197.2C179.9,1197.2 187.7,1197.3 195.4,1197.3C203.1,1197.3 210.8,1197.4 218.5,1197.3C226.2,1197.3 234,1197.3 241.7,1197.2C249.4,1197.2 257.1,1197.1 264.8,1197.1C272.6,1197 284.1,1197 288,1197" fill="none" stroke="#1e7fd0" stroke-width="1.5" stroke-linejoin="round" stroke-linecap="round"/>
<path d="M125.9,1185.8C129.4,1186 139.9,1186.7 146.9,1187.2C153.9,1187.6 160.9,1188 167.9,1188.5C174.8,1189 181.8,1189.4 188.8,1189.9C195.8,1190.5 202.8,1191 209.8,1191.7C216.8,1192.3 223.8,1193 230.8,1193.7C237.8,1194.4 244.8,1195.1 251.8,1195.7C258.8,1196.2 269.2,1196.8 272.7,1197" fill="none" stroke="#c8c060" stroke-width="1.5" stroke-linejoin="round" stroke-linecap="round"/>
<path d="M125.9,1209.8C129.7,1209.5 141.1,1208.4 148.6,1207.7C156.2,1207 163.8,1206.3 171.4,1205.5C178.9,1204.8 186.5,1204 194.1,1203.2C201.7,1202.5 209.2,1201.7 216.8,1201C224.4,1200.3 232,1199.7 239.5,1199.1C247.1,1198.6 254.7,1198.1 262.3,1197.7C269.9,1197.4 281.2,1197.1 285,1197" fill="none" stroke="#c8c060" stroke-width="1.5" stroke-linejoin="round" stroke-linecap="round"/>
<path d="M125.9,1202.5C130.4,1202.4 143.7,1202.3 152.7,1202.1C161.6,1201.9 170.5,1201.7 179.4,1201.4C188.3,1201.1 197.2,1200.8 206.2,1200.4C215.1,1200.1 224,1199.8 232.9,1199.5C241.8,1199.2 250.7,1198.9 259.7,1198.6C268.6,1198.3 277.5,1198.1 286.4,1197.8C295.3,1197.6 308.7,1197.1 313.2,1197" fill="none" stroke="#12c0dc" stroke-width="1.5" stroke-linejoin="round" stroke-linecap="round"/>
<path d="M125.9,1195C129.9,1194.7 141.9,1193.7 149.9,1193.4C158,1193.1 166,1193.1 174,1193.3C182,1193.4 190,1193.9 198,1194.3C206,1194.7 214,1195.2 222.1,1195.6C230.1,1196 238.1,1196.3 246.1,1196.5C254.1,1196.7 262.1,1196.8 270.1,1196.9C278.1,1197 290.2,1197 294.2,1197" fill="none" stroke="#8e3fb0" stroke-width="1.5" stroke-linejoin="round" stroke-linecap="round"/>
<path d="M125.9,1192.2C129.1,1192.3 138.9,1192.4 145.3,1192.8C151.8,1193.1 158.3,1193.6 164.8,1194.1C171.3,1194.7 177.7,1195.5 184.2,1196C190.7,1196.5 197.2,1197.1 203.7,1197.3C210.1,1197.6 216.6,1197.6 223.1,1197.6C229.6,1197.6 236.1,1197.3 242.5,1197.2C249,1197.1 258.7,1197 262,1197" fill="none" stroke="#e0306a" stroke-width="1.5" stroke-linejoin="round" stroke-linecap="round"/>
<path d="M125.9,1202.3C129.2,1202.7 139,1204 145.6,1204.3C152.1,1204.6 158.7,1204.5 165.2,1204.2C171.8,1203.9 178.3,1203.1 184.9,1202.4C191.4,1201.8 198,1200.9 204.5,1200.3C211.1,1199.7 217.6,1199.2 224.2,1198.8C230.7,1198.4 237.3,1198.2 243.8,1197.9C250.4,1197.6 260.2,1197.2 263.5,1197" fill="none" stroke="#f08a80" stroke-width="1.5" stroke-linejoin="round" stroke-linecap="round"/>
<path d="M125.9,1203.1C130.4,1202.7 143.9,1201 152.9,1200.3C162,1199.5 171,1198.9 180,1198.5C189,1198.1 198,1197.9 207,1197.7C216,1197.6 225.1,1197.6 234.1,1197.5C243.1,1197.5 252.1,1197.5 261.1,1197.4C270.1,1197.4 279.1,1197.3 288.2,1197.2C297.2,1197.2 310.7,1197 315.2,1197" fill="none" stroke="#a8a8a8" stroke-width="1.5" stroke-linejoin="round" stroke-linecap="round"/>
<path d="M125.9,1199.1C129.3,1199 139.4,1198.6 146.2,1198.6C152.9,1198.6 159.7,1198.7 166.5,1198.9C173.2,1199 180,1199.4 186.7,1199.5C193.5,1199.6 200.2,1199.7 207,1199.6C213.8,1199.5 220.5,1199.2 227.3,1198.9C234,1198.6 240.8,1198 247.6,1197.7C254.3,1197.4 264.5,1197.1 267.8,1197" fill="none" stroke="#1e7fd0" stroke-width="1.5" stroke-linejoin="round" stroke-linecap="round"/>
<path d="M125.9,1184.9C129.6,1185.2 140.6,1186.1 147.9,1186.7C155.3,1187.4 162.6,1188.2 170,1189C177.3,1189.8 184.7,1190.7 192,1191.4C199.4,1192.2 206.7,1192.9 214.1,1193.4C221.4,1194 228.8,1194.4 236.1,1194.8C243.5,1195.2 250.8,1195.4 258.2,1195.8C265.5,1196.1 276.6,1196.8 280.2,1197" fill="none" stroke="#e8552a" stroke-width="1.5" stroke-linejoin="round" stroke-linecap="round"/>
<path d="M125.9,1185.6C130.8,1186.4 145.6,1189.1 155.5,1190.3C165.3,1191.5 175.2,1192.4 185,1193C194.9,1193.6 204.8,1193.7 214.6,1193.9C224.5,1194.2 234.3,1194.2 244.2,1194.3C254,1194.5 263.9,1194.8 273.8,1195.1C283.6,1195.4 293.5,1195.8 303.3,1196.2C313.2,1196.5 328,1196.9 332.9,1197" fill="none" stroke="#223a8c" stroke-width="1.5" stroke-linejoin="round" stroke-linecap="round"/>
<path d="M125.9,1184C130,1184.7 142.2,1187 150.4,1188.1C158.5,1189.2 166.7,1190.1 174.8,1190.7C183,1191.4 191.1,1191.7 199.3,1192.1C207.4,1192.4 215.6,1192.6 223.7,1192.9C231.9,1193.2 240,1193.5 248.2,1193.9C256.3,1194.3 264.5,1194.8 272.6,1195.3C280.8,1195.8 293,1196.7 297.1,1197" fill="none" stroke="#8e3fb0" stroke-width="1.5" stroke-linejoin="round" stroke-linecap="round"/>
<path d="M125.9,1188.8C130.4,1189.2 144.1,1190.5 153.2,1191.2C162.2,1191.8 171.3,1192.3 180.4,1192.7C189.5,1193.1 198.6,1193.3 207.7,1193.6C216.8,1193.8 225.9,1194 234.9,1194.2C244,1194.5 253.1,1194.8 262.2,1195.1C271.3,1195.4 280.4,1195.7 289.5,1196.1C298.5,1196.4 312.2,1196.8 316.7,1197" fill="none" stroke="#223a8c" stroke-width="1.5" stroke-linejoin="round" stroke-linecap="round"/>
<path d="M125.9,1213.3C130.1,1212.6 142.6,1210.3 150.9,1209.2C159.2,1208 167.5,1207.2 175.9,1206.4C184.2,1205.7 192.5,1205.2 200.9,1204.6C209.2,1204 217.5,1203.5 225.8,1202.8C234.2,1202.1 242.5,1201.3 250.8,1200.5C259.2,1199.7 267.5,1198.8 275.8,1198.2C284.1,1197.6 296.6,1197.2 300.8,1197" fill="none" stroke="#223a8c" stroke-width="1.5" stroke-linejoin="round" stroke-linecap="round"/>
<path d="M125.9,1211.7C130,1211 142.2,1208.7 150.3,1207.5C158.5,1206.4 166.6,1205.4 174.7,1204.6C182.9,1203.8 191,1203.3 199.1,1202.7C207.3,1202.2 215.4,1201.8 223.6,1201.3C231.7,1200.8 239.8,1200.2 248,1199.7C256.1,1199.2 264.2,1198.6 272.4,1198.1C280.5,1197.7 292.7,1197.2 296.8,1197" fill="none" stroke="#e0306a" stroke-width="1.5" stroke-linejoin="round" stroke-linecap="round"/>
<path d="M125.9,1216.6C129.5,1216 140.3,1214.4 147.4,1213.4C154.6,1212.4 161.8,1211.4 169,1210.5C176.1,1209.5 183.3,1208.5 190.5,1207.5C197.7,1206.5 204.9,1205.5 212,1204.4C219.2,1203.4 226.4,1202.2 233.6,1201.2C240.8,1200.2 247.9,1199.2 255.1,1198.5C262.3,1197.8 273.1,1197.2 276.6,1197" fill="none" stroke="#27a59a" stroke-width="1.5" stroke-linejoin="round" stroke-linecap="round"/>
<path d="M125.9,1206.5C130.8,1206.3 145.4,1205.6 155.2,1205.1C165,1204.5 174.8,1203.9 184.5,1203.3C194.3,1202.7 204.1,1202 213.9,1201.4C223.6,1200.8 233.4,1200.3 243.2,1199.9C253,1199.4 262.7,1199.1 272.5,1198.8C282.3,1198.5 292.1,1198.3 301.8,1198C311.6,1197.7 326.3,1197.2 331.2,1197" fill="none" stroke="#4fc3f7" stroke-width="1.5" stroke-linejoin="round" stroke-linecap="round"/>
<path d="M125.9,1206.4C130.7,1206.1 145.1,1205.3 154.7,1204.7C164.3,1204.2 173.8,1203.6 183.4,1203.1C193,1202.6 202.6,1202.1 212.2,1201.7C221.8,1201.2 231.4,1200.8 241,1200.5C250.5,1200.1 260.1,1199.8 269.7,1199.5C279.3,1199.2 288.9,1198.9 298.5,1198.5C308.1,1198.1 322.4,1197.3 327.2,1197" fill="none" stroke="#1c1c1c" stroke-width="1.5" stroke-linejoin="round" stroke-linecap="round"/>
<path d="M125.9,1193C130.9,1192.9 146,1192.7 156.1,1192.8C166.2,1192.8 176.2,1193 186.3,1193.3C196.4,1193.6 206.4,1194 216.5,1194.4C226.6,1194.7 236.6,1195.2 246.7,1195.5C256.8,1195.8 266.8,1196 276.9,1196.2C287,1196.4 297,1196.5 307.1,1196.7C317.1,1196.8 332.2,1196.9 337.3,1197" fill="none" stroke="#1e7fd0" stroke-width="1.5" stroke-linejoin="round" stroke-linecap="round"/>
<path d="M125.9,1203.8C131,1203.4 146.4,1201.8 156.6,1201.1C166.8,1200.4 177,1200 187.3,1199.7C197.5,1199.4 207.7,1199.4 218,1199.3C228.2,1199.2 238.4,1199.2 248.6,1199.1C258.9,1199 269.1,1198.8 279.3,1198.6C289.6,1198.4 299.8,1198.1 310,1197.8C320.2,1197.5 335.6,1197.1 340.7,1197" fill="none" stroke="#c2185b" stroke-width="1.5" stroke-linejoin="round" stroke-linecap="round"/>
<path d="M125.9,1199.4C129.8,1199.1 141.4,1198.2 149.1,1197.8C156.8,1197.4 164.5,1197.3 172.3,1197.2C180,1197.1 187.7,1197.3 195.4,1197.3C203.2,1197.4 210.9,1197.6 218.6,1197.6C226.4,1197.7 234.1,1197.7 241.8,1197.7C249.5,1197.6 257.3,1197.4 265,1197.3C272.7,1197.2 284.3,1197.1 288.2,1197" fill="none" stroke="#1e7fd0" stroke-width="1.5" stroke-linejoin="round" stroke-linecap="round"/>
<path d="M125.9,1196.3C131,1196.3 146.1,1196.2 156.3,1196.2C166.4,1196.2 176.5,1196.2 186.6,1196.2C196.7,1196.2 206.8,1196.2 217,1196.2C227.1,1196.2 237.2,1196.3 247.3,1196.4C257.4,1196.4 267.6,1196.5 277.7,1196.6C287.8,1196.7 297.9,1196.8 308,1196.9C318.1,1196.9 333.3,1197 338.4,1197" fill="none" stroke="#a8a8a8" stroke-width="1.5" stroke-linejoin="round" stroke-linecap="round"/>
<path d="M125.9,1192.9C130.7,1192.7 145,1192.1 154.5,1191.9C164.1,1191.8 173.6,1191.8 183.1,1192C192.7,1192.2 202.2,1192.6 211.7,1193C221.3,1193.4 230.8,1193.9 240.4,1194.3C249.9,1194.7 259.4,1195 269,1195.4C278.5,1195.7 288,1195.9 297.6,1196.2C307.1,1196.4 321.4,1196.9 326.2,1197" fill="none" stroke="#4fc3f7" stroke-width="1.5" stroke-linejoin="round" stroke-linecap="round"/>
<path d="M125.9,1189.7C131.2,1190 147.1,1191.2 157.7,1191.8C168.3,1192.3 178.9,1192.6 189.5,1192.9C200.1,1193.1 210.7,1193.1 221.3,1193.2C231.9,1193.4 242.5,1193.4 253.1,1193.7C263.7,1193.9 274.3,1194.3 284.8,1194.6C295.4,1195 306,1195.5 316.6,1195.9C327.2,1196.3 343.1,1196.8 348.4,1197" fill="none" stroke="#12c0dc" stroke-width="1.5" stroke-linejoin="round" stroke-linecap="round"/>
<path d="M125.9,1202.8C130.3,1203 143.4,1203.6 152.1,1203.7C160.9,1203.9 169.6,1203.8 178.4,1203.6C187.1,1203.4 195.9,1202.9 204.6,1202.4C213.4,1202 222.1,1201.3 230.9,1200.8C239.6,1200.3 248.4,1199.7 257.1,1199.2C265.9,1198.7 274.6,1198.3 283.4,1197.9C292.1,1197.6 305.2,1197.2 309.6,1197" fill="none" stroke="#12c0dc" stroke-width="1.5" stroke-linejoin="round" stroke-linecap="round"/>
<path d="M125.9,1202.1C130.6,1202.1 144.6,1202.2 154,1201.9C163.4,1201.7 172.8,1201.3 182.1,1200.8C191.5,1200.4 200.9,1199.6 210.3,1199.1C219.6,1198.6 229,1198.1 238.4,1197.7C247.7,1197.4 257.1,1197.3 266.5,1197.2C275.9,1197.1 285.2,1197.2 294.6,1197.2C304,1197.1 318,1197 322.7,1197" fill="none" stroke="#1c1c1c" stroke-width="1.5" stroke-linejoin="round" stroke-linecap="round"/>
<path d="M125.9,1138.2C129.6,1139.7 140.2,1144.2 148.1,1147C156,1149.8 165.1,1152.2 173.5,1154.7C181.9,1157.2 190.4,1160 198.8,1162.3C207.2,1164.6 214.7,1166.1 224.2,1168.6C233.7,1171.1 247.5,1175 256,1177.5C264.5,1180 269.3,1182.1 275,1183.8C280.7,1185.5 285.4,1186.1 290,1187.7C294.6,1189.3 297.7,1192 302.7,1193.4C307.7,1194.8 312.9,1195.4 320,1196C327.1,1196.6 340.8,1196.8 345,1197" fill="none" stroke="#1c1c1c" stroke-width="2.0" stroke-linejoin="round" stroke-linecap="round"/>
<path d="M125.9,1148.3C127.9,1149.5 132.1,1153.4 137.9,1155.3C143.7,1157.2 153.8,1158.1 160.8,1159.7C167.8,1161.3 173.5,1162.7 179.8,1164.8C186.1,1166.9 191.4,1169.9 198.8,1172.4C206.2,1174.9 215.7,1177.5 224.2,1180C232.7,1182.5 241.1,1185.5 249.6,1187.7C258.1,1189.9 266.6,1191.5 275,1193C283.4,1194.5 295.8,1195.9 300,1196.5" fill="none" stroke="#c2185b" stroke-width="1.8" stroke-linejoin="round" stroke-linecap="round"/>
<path d="M125.9,1175C131.7,1174.8 150.8,1173.5 160.8,1173.7C170.9,1173.9 177.8,1175.2 186.2,1176.2C194.6,1177.2 203.1,1178.5 211.5,1180C219.9,1181.5 228.4,1183.4 236.9,1185.1C245.4,1186.8 253.5,1188.6 262.3,1190.2C271.2,1191.8 282.1,1193.5 290,1194.5C297.9,1195.5 306.7,1196.2 310,1196.5" fill="none" stroke="#d8508a" stroke-width="1.7" stroke-linejoin="round" stroke-linecap="round"/>
<path d="M125.9,1272.7C131.7,1269.7 148.7,1261 160.8,1254.9C173,1248.8 186.1,1241.8 198.8,1235.9C211.5,1230 226.3,1223.9 236.9,1219.4C247.5,1215 254.9,1211.7 262.3,1209.2C269.7,1206.7 275,1205.2 281.3,1204.2C287.6,1203.2 293.3,1203.6 300,1202.9C306.7,1202.2 315,1201 321.7,1200.3C328.4,1199.6 336.9,1198.8 340,1198.5" fill="none" stroke="#4fc3f7" stroke-width="1.8" stroke-linejoin="round" stroke-linecap="round"/>
<path d="M236.9,1186C239,1185.6 243.2,1184.4 249.6,1183.8C255.9,1183.2 266.6,1182.8 275,1182.6C283.4,1182.4 291.1,1182.6 300,1182.6C308.9,1182.6 316,1182.5 328.1,1182.6C340.2,1182.7 359.8,1182.6 372.5,1183.2C385.2,1183.8 394.7,1185.2 404.2,1186.4C413.7,1187.6 422.4,1188.9 429.6,1190.2C436.8,1191.5 444.4,1193.4 447.4,1194" fill="none" stroke="#4fc3f7" stroke-width="2.0" stroke-linejoin="round" stroke-linecap="round"/>
<path d="M260,1186C265,1185.8 278.6,1184.8 290,1185.1C301.4,1185.4 313.3,1186.6 328.1,1187.7C342.9,1188.8 364,1190.5 378.8,1191.5C393.6,1192.5 408.4,1193.2 416.9,1194C425.4,1194.8 427.8,1195.7 430,1196" fill="none" stroke="#8fd3f0" stroke-width="1.8" stroke-linejoin="round" stroke-linecap="round"/>
<path d="M270,1189C273.3,1189.2 278.2,1189.8 290,1190.2C301.8,1190.6 324.1,1190.9 340.8,1191.5C357.5,1192.1 376.8,1193.2 390,1194C403.2,1194.8 415,1195.7 420,1196" fill="none" stroke="#a8a8a8" stroke-width="1.4" stroke-linejoin="round" stroke-linecap="round"/>
<path d="M125.9,1229.5C127.5,1228.2 131.7,1225.1 135.4,1221.9C139.1,1218.7 143.9,1213.9 148.1,1210.5C152.3,1207.1 156.6,1205 160.8,1201.6C165,1198.2 169.3,1193 173.5,1190.2C177.7,1187.5 179.9,1185.6 186.2,1185.1C192.5,1184.6 202.5,1186 211.5,1187C220.5,1188 230.2,1189.7 240,1191C249.8,1192.3 265,1194.3 270,1195" fill="none" stroke="#1c1c1c" stroke-width="2.0" stroke-linejoin="round" stroke-linecap="round"/>
<path d="M135.4,1224.5C139.6,1223.4 150.2,1220.4 160.8,1218.1C171.4,1215.8 186.1,1212.8 198.8,1210.5C211.5,1208.2 224.2,1205.9 236.9,1204.2C249.6,1202.5 264.5,1201.5 275,1200.5C285.5,1199.5 295.8,1198.8 300,1198.5" fill="none" stroke="#223a8c" stroke-width="1.8" stroke-linejoin="round" stroke-linecap="round"/>
<path d="M125.9,1222C129.9,1221.5 141,1220.3 150,1219C159,1217.7 168.3,1215.8 180,1214C191.7,1212.2 206.7,1210 220,1208C233.3,1206 246.7,1203.5 260,1202C273.3,1200.5 293.3,1199.5 300,1199" fill="none" stroke="#1c1c1c" stroke-width="1.7" stroke-linejoin="round" stroke-linecap="round"/>
<path d="M300,1197.2C310,1197.2 343.3,1197.2 360,1197.2C376.7,1197.2 383.9,1197.4 400,1197.4C416.1,1197.4 447.4,1197.2 456.9,1197.2" fill="none" stroke="#1e7fd0" stroke-width="2.3" stroke-linejoin="round" stroke-linecap="round"/>
<path d="M328.1,1200.3C331.3,1200.4 340.8,1201.1 347.1,1201C353.5,1200.9 360.7,1200.2 366.2,1199.7C371.7,1199.2 377.7,1198.3 380,1198" fill="none" stroke="#e05070" stroke-width="1.5" stroke-linejoin="round" stroke-linecap="round"/>
<path d="M125.9,1200C133.2,1199.8 154.3,1199.2 170,1199C185.7,1198.8 203.3,1199.2 220,1199C236.7,1198.8 256.7,1198.2 270,1198C283.3,1197.8 295,1197.6 300,1197.5" fill="none" stroke="#1e7fd0" stroke-width="2.4" stroke-linejoin="round" stroke-linecap="round"/>
<path d="M125.9,1190C133.2,1190 154.3,1189.7 170,1190C185.7,1190.3 203.3,1191.2 220,1192C236.7,1192.8 261.7,1194.5 270,1195" fill="none" stroke="#12c0dc" stroke-width="2.6" stroke-linejoin="round" stroke-linecap="round"/>
</svg></body></html>
